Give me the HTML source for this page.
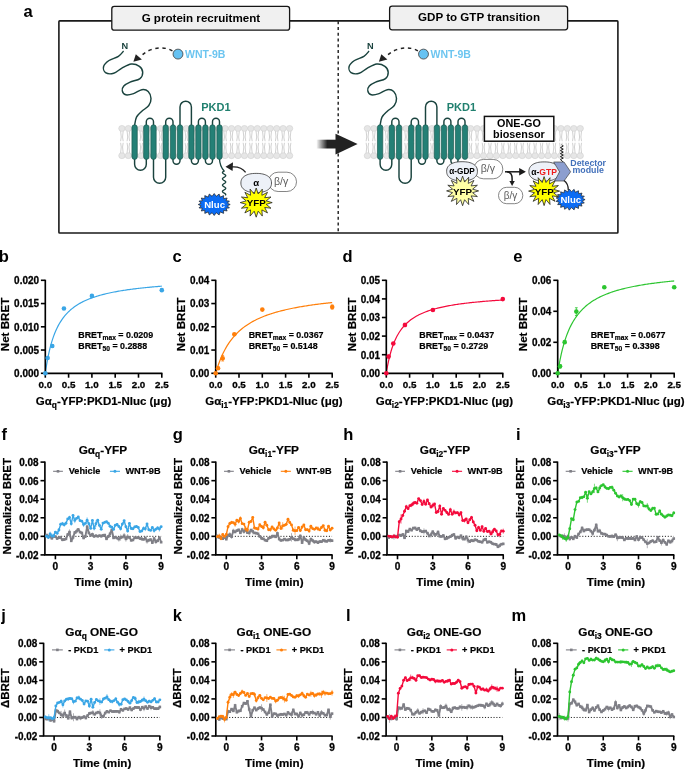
<!DOCTYPE html>
<html><head><meta charset="utf-8"><style>
html,body{margin:0;padding:0;background:#fff;width:685px;height:770px;overflow:hidden}
svg{display:block;will-change:transform}
text{font-family:"Liberation Sans",sans-serif}
.k{stroke:#000;stroke-width:0.2px}
</style></head><body>
<svg width="685" height="770" viewBox="0 0 685 770">
<defs><linearGradient id="shaftg" x1="0" x2="1" y1="0" y2="0"><stop offset="0" stop-color="#fff"/><stop offset="0.55" stop-color="#222"/><stop offset="1" stop-color="#222"/></linearGradient></defs>
<text x="23.5" y="16.8" font-size="16.5" font-weight="bold" fill="#000" text-anchor="start" >a</text>
<rect x="58.9" y="20.9" width="559" height="212.1" rx="0.8" fill="none" stroke="#1a1a1a" stroke-width="1.6"/>
<line x1="338.2" y1="21.3" x2="338.2" y2="232.5" stroke="#1b1b1b" stroke-width="1.4" stroke-dasharray="2.9,2.85"/>
<rect x="111.8" y="6.4" width="177.8" height="23.8" rx="2.5" fill="#f0f0f0" stroke="#151515" stroke-width="1.3"/>
<text x="200.9" y="21.5" font-size="11.6" font-weight="bold" fill="#000" text-anchor="middle" >G protein recruitment</text>
<rect x="389.6" y="6.2" width="178" height="23.6" rx="2.5" fill="#f0f0f0" stroke="#151515" stroke-width="1.3"/>
<text x="479" y="21.4" font-size="11.6" font-weight="bold" fill="#000" text-anchor="middle" >GDP to GTP transition</text>
<rect x="316.3" y="139.7" width="20" height="8.8" fill="url(#shaftg)"/>
<polygon points="335.5,133.8 357.6,144.1 335.5,154.6" fill="#222"/>
<g>
<path d="M120.6,130.9 L121.25,137 L120.6,141.2" fill="none" stroke="#bdbdbd" stroke-width="0.7"/>
<path d="M120.6,153.2 L121.25,147 L120.6,142.8" fill="none" stroke="#bdbdbd" stroke-width="0.7"/>
<path d="M123.2,130.9 L122.55,137 L123.2,141.2" fill="none" stroke="#bdbdbd" stroke-width="0.7"/>
<path d="M123.2,153.2 L122.55,147 L123.2,142.8" fill="none" stroke="#bdbdbd" stroke-width="0.7"/>
<path d="M127.05,130.9 L127.7,137 L127.05,141.2" fill="none" stroke="#bdbdbd" stroke-width="0.7"/>
<path d="M127.05,153.2 L127.7,147 L127.05,142.8" fill="none" stroke="#bdbdbd" stroke-width="0.7"/>
<path d="M129.65,130.9 L129,137 L129.65,141.2" fill="none" stroke="#bdbdbd" stroke-width="0.7"/>
<path d="M129.65,153.2 L129,147 L129.65,142.8" fill="none" stroke="#bdbdbd" stroke-width="0.7"/>
<path d="M133.5,130.9 L134.15,137 L133.5,141.2" fill="none" stroke="#bdbdbd" stroke-width="0.7"/>
<path d="M133.5,153.2 L134.15,147 L133.5,142.8" fill="none" stroke="#bdbdbd" stroke-width="0.7"/>
<path d="M136.1,130.9 L135.45,137 L136.1,141.2" fill="none" stroke="#bdbdbd" stroke-width="0.7"/>
<path d="M136.1,153.2 L135.45,147 L136.1,142.8" fill="none" stroke="#bdbdbd" stroke-width="0.7"/>
<path d="M139.95,130.9 L140.6,137 L139.95,141.2" fill="none" stroke="#bdbdbd" stroke-width="0.7"/>
<path d="M139.95,153.2 L140.6,147 L139.95,142.8" fill="none" stroke="#bdbdbd" stroke-width="0.7"/>
<path d="M142.55,130.9 L141.9,137 L142.55,141.2" fill="none" stroke="#bdbdbd" stroke-width="0.7"/>
<path d="M142.55,153.2 L141.9,147 L142.55,142.8" fill="none" stroke="#bdbdbd" stroke-width="0.7"/>
<path d="M146.4,130.9 L147.05,137 L146.4,141.2" fill="none" stroke="#bdbdbd" stroke-width="0.7"/>
<path d="M146.4,153.2 L147.05,147 L146.4,142.8" fill="none" stroke="#bdbdbd" stroke-width="0.7"/>
<path d="M149,130.9 L148.35,137 L149,141.2" fill="none" stroke="#bdbdbd" stroke-width="0.7"/>
<path d="M149,153.2 L148.35,147 L149,142.8" fill="none" stroke="#bdbdbd" stroke-width="0.7"/>
<path d="M152.85,130.9 L153.5,137 L152.85,141.2" fill="none" stroke="#bdbdbd" stroke-width="0.7"/>
<path d="M152.85,153.2 L153.5,147 L152.85,142.8" fill="none" stroke="#bdbdbd" stroke-width="0.7"/>
<path d="M155.45,130.9 L154.8,137 L155.45,141.2" fill="none" stroke="#bdbdbd" stroke-width="0.7"/>
<path d="M155.45,153.2 L154.8,147 L155.45,142.8" fill="none" stroke="#bdbdbd" stroke-width="0.7"/>
<path d="M159.3,130.9 L159.95,137 L159.3,141.2" fill="none" stroke="#bdbdbd" stroke-width="0.7"/>
<path d="M159.3,153.2 L159.95,147 L159.3,142.8" fill="none" stroke="#bdbdbd" stroke-width="0.7"/>
<path d="M161.9,130.9 L161.25,137 L161.9,141.2" fill="none" stroke="#bdbdbd" stroke-width="0.7"/>
<path d="M161.9,153.2 L161.25,147 L161.9,142.8" fill="none" stroke="#bdbdbd" stroke-width="0.7"/>
<path d="M165.75,130.9 L166.4,137 L165.75,141.2" fill="none" stroke="#bdbdbd" stroke-width="0.7"/>
<path d="M165.75,153.2 L166.4,147 L165.75,142.8" fill="none" stroke="#bdbdbd" stroke-width="0.7"/>
<path d="M168.35,130.9 L167.7,137 L168.35,141.2" fill="none" stroke="#bdbdbd" stroke-width="0.7"/>
<path d="M168.35,153.2 L167.7,147 L168.35,142.8" fill="none" stroke="#bdbdbd" stroke-width="0.7"/>
<path d="M172.2,130.9 L172.85,137 L172.2,141.2" fill="none" stroke="#bdbdbd" stroke-width="0.7"/>
<path d="M172.2,153.2 L172.85,147 L172.2,142.8" fill="none" stroke="#bdbdbd" stroke-width="0.7"/>
<path d="M174.8,130.9 L174.15,137 L174.8,141.2" fill="none" stroke="#bdbdbd" stroke-width="0.7"/>
<path d="M174.8,153.2 L174.15,147 L174.8,142.8" fill="none" stroke="#bdbdbd" stroke-width="0.7"/>
<path d="M178.65,130.9 L179.3,137 L178.65,141.2" fill="none" stroke="#bdbdbd" stroke-width="0.7"/>
<path d="M178.65,153.2 L179.3,147 L178.65,142.8" fill="none" stroke="#bdbdbd" stroke-width="0.7"/>
<path d="M181.25,130.9 L180.6,137 L181.25,141.2" fill="none" stroke="#bdbdbd" stroke-width="0.7"/>
<path d="M181.25,153.2 L180.6,147 L181.25,142.8" fill="none" stroke="#bdbdbd" stroke-width="0.7"/>
<path d="M185.1,130.9 L185.75,137 L185.1,141.2" fill="none" stroke="#bdbdbd" stroke-width="0.7"/>
<path d="M185.1,153.2 L185.75,147 L185.1,142.8" fill="none" stroke="#bdbdbd" stroke-width="0.7"/>
<path d="M187.7,130.9 L187.05,137 L187.7,141.2" fill="none" stroke="#bdbdbd" stroke-width="0.7"/>
<path d="M187.7,153.2 L187.05,147 L187.7,142.8" fill="none" stroke="#bdbdbd" stroke-width="0.7"/>
<path d="M191.55,130.9 L192.2,137 L191.55,141.2" fill="none" stroke="#bdbdbd" stroke-width="0.7"/>
<path d="M191.55,153.2 L192.2,147 L191.55,142.8" fill="none" stroke="#bdbdbd" stroke-width="0.7"/>
<path d="M194.15,130.9 L193.5,137 L194.15,141.2" fill="none" stroke="#bdbdbd" stroke-width="0.7"/>
<path d="M194.15,153.2 L193.5,147 L194.15,142.8" fill="none" stroke="#bdbdbd" stroke-width="0.7"/>
<path d="M198,130.9 L198.65,137 L198,141.2" fill="none" stroke="#bdbdbd" stroke-width="0.7"/>
<path d="M198,153.2 L198.65,147 L198,142.8" fill="none" stroke="#bdbdbd" stroke-width="0.7"/>
<path d="M200.6,130.9 L199.95,137 L200.6,141.2" fill="none" stroke="#bdbdbd" stroke-width="0.7"/>
<path d="M200.6,153.2 L199.95,147 L200.6,142.8" fill="none" stroke="#bdbdbd" stroke-width="0.7"/>
<path d="M204.45,130.9 L205.1,137 L204.45,141.2" fill="none" stroke="#bdbdbd" stroke-width="0.7"/>
<path d="M204.45,153.2 L205.1,147 L204.45,142.8" fill="none" stroke="#bdbdbd" stroke-width="0.7"/>
<path d="M207.05,130.9 L206.4,137 L207.05,141.2" fill="none" stroke="#bdbdbd" stroke-width="0.7"/>
<path d="M207.05,153.2 L206.4,147 L207.05,142.8" fill="none" stroke="#bdbdbd" stroke-width="0.7"/>
<path d="M210.9,130.9 L211.55,137 L210.9,141.2" fill="none" stroke="#bdbdbd" stroke-width="0.7"/>
<path d="M210.9,153.2 L211.55,147 L210.9,142.8" fill="none" stroke="#bdbdbd" stroke-width="0.7"/>
<path d="M213.5,130.9 L212.85,137 L213.5,141.2" fill="none" stroke="#bdbdbd" stroke-width="0.7"/>
<path d="M213.5,153.2 L212.85,147 L213.5,142.8" fill="none" stroke="#bdbdbd" stroke-width="0.7"/>
<path d="M217.35,130.9 L218,137 L217.35,141.2" fill="none" stroke="#bdbdbd" stroke-width="0.7"/>
<path d="M217.35,153.2 L218,147 L217.35,142.8" fill="none" stroke="#bdbdbd" stroke-width="0.7"/>
<path d="M219.95,130.9 L219.3,137 L219.95,141.2" fill="none" stroke="#bdbdbd" stroke-width="0.7"/>
<path d="M219.95,153.2 L219.3,147 L219.95,142.8" fill="none" stroke="#bdbdbd" stroke-width="0.7"/>
<path d="M223.8,130.9 L224.45,137 L223.8,141.2" fill="none" stroke="#bdbdbd" stroke-width="0.7"/>
<path d="M223.8,153.2 L224.45,147 L223.8,142.8" fill="none" stroke="#bdbdbd" stroke-width="0.7"/>
<path d="M226.4,130.9 L225.75,137 L226.4,141.2" fill="none" stroke="#bdbdbd" stroke-width="0.7"/>
<path d="M226.4,153.2 L225.75,147 L226.4,142.8" fill="none" stroke="#bdbdbd" stroke-width="0.7"/>
<path d="M230.25,130.9 L230.9,137 L230.25,141.2" fill="none" stroke="#bdbdbd" stroke-width="0.7"/>
<path d="M230.25,153.2 L230.9,147 L230.25,142.8" fill="none" stroke="#bdbdbd" stroke-width="0.7"/>
<path d="M232.85,130.9 L232.2,137 L232.85,141.2" fill="none" stroke="#bdbdbd" stroke-width="0.7"/>
<path d="M232.85,153.2 L232.2,147 L232.85,142.8" fill="none" stroke="#bdbdbd" stroke-width="0.7"/>
<path d="M236.7,130.9 L237.35,137 L236.7,141.2" fill="none" stroke="#bdbdbd" stroke-width="0.7"/>
<path d="M236.7,153.2 L237.35,147 L236.7,142.8" fill="none" stroke="#bdbdbd" stroke-width="0.7"/>
<path d="M239.3,130.9 L238.65,137 L239.3,141.2" fill="none" stroke="#bdbdbd" stroke-width="0.7"/>
<path d="M239.3,153.2 L238.65,147 L239.3,142.8" fill="none" stroke="#bdbdbd" stroke-width="0.7"/>
<path d="M243.15,130.9 L243.8,137 L243.15,141.2" fill="none" stroke="#bdbdbd" stroke-width="0.7"/>
<path d="M243.15,153.2 L243.8,147 L243.15,142.8" fill="none" stroke="#bdbdbd" stroke-width="0.7"/>
<path d="M245.75,130.9 L245.1,137 L245.75,141.2" fill="none" stroke="#bdbdbd" stroke-width="0.7"/>
<path d="M245.75,153.2 L245.1,147 L245.75,142.8" fill="none" stroke="#bdbdbd" stroke-width="0.7"/>
<path d="M249.6,130.9 L250.25,137 L249.6,141.2" fill="none" stroke="#bdbdbd" stroke-width="0.7"/>
<path d="M249.6,153.2 L250.25,147 L249.6,142.8" fill="none" stroke="#bdbdbd" stroke-width="0.7"/>
<path d="M252.2,130.9 L251.55,137 L252.2,141.2" fill="none" stroke="#bdbdbd" stroke-width="0.7"/>
<path d="M252.2,153.2 L251.55,147 L252.2,142.8" fill="none" stroke="#bdbdbd" stroke-width="0.7"/>
<path d="M256.05,130.9 L256.7,137 L256.05,141.2" fill="none" stroke="#bdbdbd" stroke-width="0.7"/>
<path d="M256.05,153.2 L256.7,147 L256.05,142.8" fill="none" stroke="#bdbdbd" stroke-width="0.7"/>
<path d="M258.65,130.9 L258,137 L258.65,141.2" fill="none" stroke="#bdbdbd" stroke-width="0.7"/>
<path d="M258.65,153.2 L258,147 L258.65,142.8" fill="none" stroke="#bdbdbd" stroke-width="0.7"/>
<path d="M262.5,130.9 L263.15,137 L262.5,141.2" fill="none" stroke="#bdbdbd" stroke-width="0.7"/>
<path d="M262.5,153.2 L263.15,147 L262.5,142.8" fill="none" stroke="#bdbdbd" stroke-width="0.7"/>
<path d="M265.1,130.9 L264.45,137 L265.1,141.2" fill="none" stroke="#bdbdbd" stroke-width="0.7"/>
<path d="M265.1,153.2 L264.45,147 L265.1,142.8" fill="none" stroke="#bdbdbd" stroke-width="0.7"/>
<path d="M268.95,130.9 L269.6,137 L268.95,141.2" fill="none" stroke="#bdbdbd" stroke-width="0.7"/>
<path d="M268.95,153.2 L269.6,147 L268.95,142.8" fill="none" stroke="#bdbdbd" stroke-width="0.7"/>
<path d="M271.55,130.9 L270.9,137 L271.55,141.2" fill="none" stroke="#bdbdbd" stroke-width="0.7"/>
<path d="M271.55,153.2 L270.9,147 L271.55,142.8" fill="none" stroke="#bdbdbd" stroke-width="0.7"/>
<path d="M275.4,130.9 L276.05,137 L275.4,141.2" fill="none" stroke="#bdbdbd" stroke-width="0.7"/>
<path d="M275.4,153.2 L276.05,147 L275.4,142.8" fill="none" stroke="#bdbdbd" stroke-width="0.7"/>
<path d="M278,130.9 L277.35,137 L278,141.2" fill="none" stroke="#bdbdbd" stroke-width="0.7"/>
<path d="M278,153.2 L277.35,147 L278,142.8" fill="none" stroke="#bdbdbd" stroke-width="0.7"/>
<path d="M281.85,130.9 L282.5,137 L281.85,141.2" fill="none" stroke="#bdbdbd" stroke-width="0.7"/>
<path d="M281.85,153.2 L282.5,147 L281.85,142.8" fill="none" stroke="#bdbdbd" stroke-width="0.7"/>
<path d="M284.45,130.9 L283.8,137 L284.45,141.2" fill="none" stroke="#bdbdbd" stroke-width="0.7"/>
<path d="M284.45,153.2 L283.8,147 L284.45,142.8" fill="none" stroke="#bdbdbd" stroke-width="0.7"/>
<path d="M288.3,130.9 L288.95,137 L288.3,141.2" fill="none" stroke="#bdbdbd" stroke-width="0.7"/>
<path d="M288.3,153.2 L288.95,147 L288.3,142.8" fill="none" stroke="#bdbdbd" stroke-width="0.7"/>
<path d="M290.9,130.9 L290.25,137 L290.9,141.2" fill="none" stroke="#bdbdbd" stroke-width="0.7"/>
<path d="M290.9,153.2 L290.25,147 L290.9,142.8" fill="none" stroke="#bdbdbd" stroke-width="0.7"/>
<ellipse cx="121.9" cy="128.4" rx="3.2" ry="2.95" fill="#e6e6e6" stroke="#cdcdcd" stroke-width="0.55"/>
<ellipse cx="121.9" cy="155.7" rx="3.2" ry="2.95" fill="#e6e6e6" stroke="#cdcdcd" stroke-width="0.55"/>
<ellipse cx="128.35" cy="128.4" rx="3.2" ry="2.95" fill="#e6e6e6" stroke="#cdcdcd" stroke-width="0.55"/>
<ellipse cx="128.35" cy="155.7" rx="3.2" ry="2.95" fill="#e6e6e6" stroke="#cdcdcd" stroke-width="0.55"/>
<ellipse cx="134.8" cy="128.4" rx="3.2" ry="2.95" fill="#e6e6e6" stroke="#cdcdcd" stroke-width="0.55"/>
<ellipse cx="134.8" cy="155.7" rx="3.2" ry="2.95" fill="#e6e6e6" stroke="#cdcdcd" stroke-width="0.55"/>
<ellipse cx="141.25" cy="128.4" rx="3.2" ry="2.95" fill="#e6e6e6" stroke="#cdcdcd" stroke-width="0.55"/>
<ellipse cx="141.25" cy="155.7" rx="3.2" ry="2.95" fill="#e6e6e6" stroke="#cdcdcd" stroke-width="0.55"/>
<ellipse cx="147.7" cy="128.4" rx="3.2" ry="2.95" fill="#e6e6e6" stroke="#cdcdcd" stroke-width="0.55"/>
<ellipse cx="147.7" cy="155.7" rx="3.2" ry="2.95" fill="#e6e6e6" stroke="#cdcdcd" stroke-width="0.55"/>
<ellipse cx="154.15" cy="128.4" rx="3.2" ry="2.95" fill="#e6e6e6" stroke="#cdcdcd" stroke-width="0.55"/>
<ellipse cx="154.15" cy="155.7" rx="3.2" ry="2.95" fill="#e6e6e6" stroke="#cdcdcd" stroke-width="0.55"/>
<ellipse cx="160.6" cy="128.4" rx="3.2" ry="2.95" fill="#e6e6e6" stroke="#cdcdcd" stroke-width="0.55"/>
<ellipse cx="160.6" cy="155.7" rx="3.2" ry="2.95" fill="#e6e6e6" stroke="#cdcdcd" stroke-width="0.55"/>
<ellipse cx="167.05" cy="128.4" rx="3.2" ry="2.95" fill="#e6e6e6" stroke="#cdcdcd" stroke-width="0.55"/>
<ellipse cx="167.05" cy="155.7" rx="3.2" ry="2.95" fill="#e6e6e6" stroke="#cdcdcd" stroke-width="0.55"/>
<ellipse cx="173.5" cy="128.4" rx="3.2" ry="2.95" fill="#e6e6e6" stroke="#cdcdcd" stroke-width="0.55"/>
<ellipse cx="173.5" cy="155.7" rx="3.2" ry="2.95" fill="#e6e6e6" stroke="#cdcdcd" stroke-width="0.55"/>
<ellipse cx="179.95" cy="128.4" rx="3.2" ry="2.95" fill="#e6e6e6" stroke="#cdcdcd" stroke-width="0.55"/>
<ellipse cx="179.95" cy="155.7" rx="3.2" ry="2.95" fill="#e6e6e6" stroke="#cdcdcd" stroke-width="0.55"/>
<ellipse cx="186.4" cy="128.4" rx="3.2" ry="2.95" fill="#e6e6e6" stroke="#cdcdcd" stroke-width="0.55"/>
<ellipse cx="186.4" cy="155.7" rx="3.2" ry="2.95" fill="#e6e6e6" stroke="#cdcdcd" stroke-width="0.55"/>
<ellipse cx="192.85" cy="128.4" rx="3.2" ry="2.95" fill="#e6e6e6" stroke="#cdcdcd" stroke-width="0.55"/>
<ellipse cx="192.85" cy="155.7" rx="3.2" ry="2.95" fill="#e6e6e6" stroke="#cdcdcd" stroke-width="0.55"/>
<ellipse cx="199.3" cy="128.4" rx="3.2" ry="2.95" fill="#e6e6e6" stroke="#cdcdcd" stroke-width="0.55"/>
<ellipse cx="199.3" cy="155.7" rx="3.2" ry="2.95" fill="#e6e6e6" stroke="#cdcdcd" stroke-width="0.55"/>
<ellipse cx="205.75" cy="128.4" rx="3.2" ry="2.95" fill="#e6e6e6" stroke="#cdcdcd" stroke-width="0.55"/>
<ellipse cx="205.75" cy="155.7" rx="3.2" ry="2.95" fill="#e6e6e6" stroke="#cdcdcd" stroke-width="0.55"/>
<ellipse cx="212.2" cy="128.4" rx="3.2" ry="2.95" fill="#e6e6e6" stroke="#cdcdcd" stroke-width="0.55"/>
<ellipse cx="212.2" cy="155.7" rx="3.2" ry="2.95" fill="#e6e6e6" stroke="#cdcdcd" stroke-width="0.55"/>
<ellipse cx="218.65" cy="128.4" rx="3.2" ry="2.95" fill="#e6e6e6" stroke="#cdcdcd" stroke-width="0.55"/>
<ellipse cx="218.65" cy="155.7" rx="3.2" ry="2.95" fill="#e6e6e6" stroke="#cdcdcd" stroke-width="0.55"/>
<ellipse cx="225.1" cy="128.4" rx="3.2" ry="2.95" fill="#e6e6e6" stroke="#cdcdcd" stroke-width="0.55"/>
<ellipse cx="225.1" cy="155.7" rx="3.2" ry="2.95" fill="#e6e6e6" stroke="#cdcdcd" stroke-width="0.55"/>
<ellipse cx="231.55" cy="128.4" rx="3.2" ry="2.95" fill="#e6e6e6" stroke="#cdcdcd" stroke-width="0.55"/>
<ellipse cx="231.55" cy="155.7" rx="3.2" ry="2.95" fill="#e6e6e6" stroke="#cdcdcd" stroke-width="0.55"/>
<ellipse cx="238" cy="128.4" rx="3.2" ry="2.95" fill="#e6e6e6" stroke="#cdcdcd" stroke-width="0.55"/>
<ellipse cx="238" cy="155.7" rx="3.2" ry="2.95" fill="#e6e6e6" stroke="#cdcdcd" stroke-width="0.55"/>
<ellipse cx="244.45" cy="128.4" rx="3.2" ry="2.95" fill="#e6e6e6" stroke="#cdcdcd" stroke-width="0.55"/>
<ellipse cx="244.45" cy="155.7" rx="3.2" ry="2.95" fill="#e6e6e6" stroke="#cdcdcd" stroke-width="0.55"/>
<ellipse cx="250.9" cy="128.4" rx="3.2" ry="2.95" fill="#e6e6e6" stroke="#cdcdcd" stroke-width="0.55"/>
<ellipse cx="250.9" cy="155.7" rx="3.2" ry="2.95" fill="#e6e6e6" stroke="#cdcdcd" stroke-width="0.55"/>
<ellipse cx="257.35" cy="128.4" rx="3.2" ry="2.95" fill="#e6e6e6" stroke="#cdcdcd" stroke-width="0.55"/>
<ellipse cx="257.35" cy="155.7" rx="3.2" ry="2.95" fill="#e6e6e6" stroke="#cdcdcd" stroke-width="0.55"/>
<ellipse cx="263.8" cy="128.4" rx="3.2" ry="2.95" fill="#e6e6e6" stroke="#cdcdcd" stroke-width="0.55"/>
<ellipse cx="263.8" cy="155.7" rx="3.2" ry="2.95" fill="#e6e6e6" stroke="#cdcdcd" stroke-width="0.55"/>
<ellipse cx="270.25" cy="128.4" rx="3.2" ry="2.95" fill="#e6e6e6" stroke="#cdcdcd" stroke-width="0.55"/>
<ellipse cx="270.25" cy="155.7" rx="3.2" ry="2.95" fill="#e6e6e6" stroke="#cdcdcd" stroke-width="0.55"/>
<ellipse cx="276.7" cy="128.4" rx="3.2" ry="2.95" fill="#e6e6e6" stroke="#cdcdcd" stroke-width="0.55"/>
<ellipse cx="276.7" cy="155.7" rx="3.2" ry="2.95" fill="#e6e6e6" stroke="#cdcdcd" stroke-width="0.55"/>
<ellipse cx="283.15" cy="128.4" rx="3.2" ry="2.95" fill="#e6e6e6" stroke="#cdcdcd" stroke-width="0.55"/>
<ellipse cx="283.15" cy="155.7" rx="3.2" ry="2.95" fill="#e6e6e6" stroke="#cdcdcd" stroke-width="0.55"/>
<ellipse cx="289.6" cy="128.4" rx="3.2" ry="2.95" fill="#e6e6e6" stroke="#cdcdcd" stroke-width="0.55"/>
<ellipse cx="289.6" cy="155.7" rx="3.2" ry="2.95" fill="#e6e6e6" stroke="#cdcdcd" stroke-width="0.55"/>
</g>
<g>
<path d="M366.1,130.9 L366.75,137 L366.1,141.2" fill="none" stroke="#bdbdbd" stroke-width="0.7"/>
<path d="M366.1,153.2 L366.75,147 L366.1,142.8" fill="none" stroke="#bdbdbd" stroke-width="0.7"/>
<path d="M368.7,130.9 L368.05,137 L368.7,141.2" fill="none" stroke="#bdbdbd" stroke-width="0.7"/>
<path d="M368.7,153.2 L368.05,147 L368.7,142.8" fill="none" stroke="#bdbdbd" stroke-width="0.7"/>
<path d="M372.55,130.9 L373.2,137 L372.55,141.2" fill="none" stroke="#bdbdbd" stroke-width="0.7"/>
<path d="M372.55,153.2 L373.2,147 L372.55,142.8" fill="none" stroke="#bdbdbd" stroke-width="0.7"/>
<path d="M375.15,130.9 L374.5,137 L375.15,141.2" fill="none" stroke="#bdbdbd" stroke-width="0.7"/>
<path d="M375.15,153.2 L374.5,147 L375.15,142.8" fill="none" stroke="#bdbdbd" stroke-width="0.7"/>
<path d="M379,130.9 L379.65,137 L379,141.2" fill="none" stroke="#bdbdbd" stroke-width="0.7"/>
<path d="M379,153.2 L379.65,147 L379,142.8" fill="none" stroke="#bdbdbd" stroke-width="0.7"/>
<path d="M381.6,130.9 L380.95,137 L381.6,141.2" fill="none" stroke="#bdbdbd" stroke-width="0.7"/>
<path d="M381.6,153.2 L380.95,147 L381.6,142.8" fill="none" stroke="#bdbdbd" stroke-width="0.7"/>
<path d="M385.45,130.9 L386.1,137 L385.45,141.2" fill="none" stroke="#bdbdbd" stroke-width="0.7"/>
<path d="M385.45,153.2 L386.1,147 L385.45,142.8" fill="none" stroke="#bdbdbd" stroke-width="0.7"/>
<path d="M388.05,130.9 L387.4,137 L388.05,141.2" fill="none" stroke="#bdbdbd" stroke-width="0.7"/>
<path d="M388.05,153.2 L387.4,147 L388.05,142.8" fill="none" stroke="#bdbdbd" stroke-width="0.7"/>
<path d="M391.9,130.9 L392.55,137 L391.9,141.2" fill="none" stroke="#bdbdbd" stroke-width="0.7"/>
<path d="M391.9,153.2 L392.55,147 L391.9,142.8" fill="none" stroke="#bdbdbd" stroke-width="0.7"/>
<path d="M394.5,130.9 L393.85,137 L394.5,141.2" fill="none" stroke="#bdbdbd" stroke-width="0.7"/>
<path d="M394.5,153.2 L393.85,147 L394.5,142.8" fill="none" stroke="#bdbdbd" stroke-width="0.7"/>
<path d="M398.35,130.9 L399,137 L398.35,141.2" fill="none" stroke="#bdbdbd" stroke-width="0.7"/>
<path d="M398.35,153.2 L399,147 L398.35,142.8" fill="none" stroke="#bdbdbd" stroke-width="0.7"/>
<path d="M400.95,130.9 L400.3,137 L400.95,141.2" fill="none" stroke="#bdbdbd" stroke-width="0.7"/>
<path d="M400.95,153.2 L400.3,147 L400.95,142.8" fill="none" stroke="#bdbdbd" stroke-width="0.7"/>
<path d="M404.8,130.9 L405.45,137 L404.8,141.2" fill="none" stroke="#bdbdbd" stroke-width="0.7"/>
<path d="M404.8,153.2 L405.45,147 L404.8,142.8" fill="none" stroke="#bdbdbd" stroke-width="0.7"/>
<path d="M407.4,130.9 L406.75,137 L407.4,141.2" fill="none" stroke="#bdbdbd" stroke-width="0.7"/>
<path d="M407.4,153.2 L406.75,147 L407.4,142.8" fill="none" stroke="#bdbdbd" stroke-width="0.7"/>
<path d="M411.25,130.9 L411.9,137 L411.25,141.2" fill="none" stroke="#bdbdbd" stroke-width="0.7"/>
<path d="M411.25,153.2 L411.9,147 L411.25,142.8" fill="none" stroke="#bdbdbd" stroke-width="0.7"/>
<path d="M413.85,130.9 L413.2,137 L413.85,141.2" fill="none" stroke="#bdbdbd" stroke-width="0.7"/>
<path d="M413.85,153.2 L413.2,147 L413.85,142.8" fill="none" stroke="#bdbdbd" stroke-width="0.7"/>
<path d="M417.7,130.9 L418.35,137 L417.7,141.2" fill="none" stroke="#bdbdbd" stroke-width="0.7"/>
<path d="M417.7,153.2 L418.35,147 L417.7,142.8" fill="none" stroke="#bdbdbd" stroke-width="0.7"/>
<path d="M420.3,130.9 L419.65,137 L420.3,141.2" fill="none" stroke="#bdbdbd" stroke-width="0.7"/>
<path d="M420.3,153.2 L419.65,147 L420.3,142.8" fill="none" stroke="#bdbdbd" stroke-width="0.7"/>
<path d="M424.15,130.9 L424.8,137 L424.15,141.2" fill="none" stroke="#bdbdbd" stroke-width="0.7"/>
<path d="M424.15,153.2 L424.8,147 L424.15,142.8" fill="none" stroke="#bdbdbd" stroke-width="0.7"/>
<path d="M426.75,130.9 L426.1,137 L426.75,141.2" fill="none" stroke="#bdbdbd" stroke-width="0.7"/>
<path d="M426.75,153.2 L426.1,147 L426.75,142.8" fill="none" stroke="#bdbdbd" stroke-width="0.7"/>
<path d="M430.6,130.9 L431.25,137 L430.6,141.2" fill="none" stroke="#bdbdbd" stroke-width="0.7"/>
<path d="M430.6,153.2 L431.25,147 L430.6,142.8" fill="none" stroke="#bdbdbd" stroke-width="0.7"/>
<path d="M433.2,130.9 L432.55,137 L433.2,141.2" fill="none" stroke="#bdbdbd" stroke-width="0.7"/>
<path d="M433.2,153.2 L432.55,147 L433.2,142.8" fill="none" stroke="#bdbdbd" stroke-width="0.7"/>
<path d="M437.05,130.9 L437.7,137 L437.05,141.2" fill="none" stroke="#bdbdbd" stroke-width="0.7"/>
<path d="M437.05,153.2 L437.7,147 L437.05,142.8" fill="none" stroke="#bdbdbd" stroke-width="0.7"/>
<path d="M439.65,130.9 L439,137 L439.65,141.2" fill="none" stroke="#bdbdbd" stroke-width="0.7"/>
<path d="M439.65,153.2 L439,147 L439.65,142.8" fill="none" stroke="#bdbdbd" stroke-width="0.7"/>
<path d="M443.5,130.9 L444.15,137 L443.5,141.2" fill="none" stroke="#bdbdbd" stroke-width="0.7"/>
<path d="M443.5,153.2 L444.15,147 L443.5,142.8" fill="none" stroke="#bdbdbd" stroke-width="0.7"/>
<path d="M446.1,130.9 L445.45,137 L446.1,141.2" fill="none" stroke="#bdbdbd" stroke-width="0.7"/>
<path d="M446.1,153.2 L445.45,147 L446.1,142.8" fill="none" stroke="#bdbdbd" stroke-width="0.7"/>
<path d="M449.95,130.9 L450.6,137 L449.95,141.2" fill="none" stroke="#bdbdbd" stroke-width="0.7"/>
<path d="M449.95,153.2 L450.6,147 L449.95,142.8" fill="none" stroke="#bdbdbd" stroke-width="0.7"/>
<path d="M452.55,130.9 L451.9,137 L452.55,141.2" fill="none" stroke="#bdbdbd" stroke-width="0.7"/>
<path d="M452.55,153.2 L451.9,147 L452.55,142.8" fill="none" stroke="#bdbdbd" stroke-width="0.7"/>
<path d="M456.4,130.9 L457.05,137 L456.4,141.2" fill="none" stroke="#bdbdbd" stroke-width="0.7"/>
<path d="M456.4,153.2 L457.05,147 L456.4,142.8" fill="none" stroke="#bdbdbd" stroke-width="0.7"/>
<path d="M459,130.9 L458.35,137 L459,141.2" fill="none" stroke="#bdbdbd" stroke-width="0.7"/>
<path d="M459,153.2 L458.35,147 L459,142.8" fill="none" stroke="#bdbdbd" stroke-width="0.7"/>
<path d="M462.85,130.9 L463.5,137 L462.85,141.2" fill="none" stroke="#bdbdbd" stroke-width="0.7"/>
<path d="M462.85,153.2 L463.5,147 L462.85,142.8" fill="none" stroke="#bdbdbd" stroke-width="0.7"/>
<path d="M465.45,130.9 L464.8,137 L465.45,141.2" fill="none" stroke="#bdbdbd" stroke-width="0.7"/>
<path d="M465.45,153.2 L464.8,147 L465.45,142.8" fill="none" stroke="#bdbdbd" stroke-width="0.7"/>
<path d="M469.3,130.9 L469.95,137 L469.3,141.2" fill="none" stroke="#bdbdbd" stroke-width="0.7"/>
<path d="M469.3,153.2 L469.95,147 L469.3,142.8" fill="none" stroke="#bdbdbd" stroke-width="0.7"/>
<path d="M471.9,130.9 L471.25,137 L471.9,141.2" fill="none" stroke="#bdbdbd" stroke-width="0.7"/>
<path d="M471.9,153.2 L471.25,147 L471.9,142.8" fill="none" stroke="#bdbdbd" stroke-width="0.7"/>
<path d="M475.75,130.9 L476.4,137 L475.75,141.2" fill="none" stroke="#bdbdbd" stroke-width="0.7"/>
<path d="M475.75,153.2 L476.4,147 L475.75,142.8" fill="none" stroke="#bdbdbd" stroke-width="0.7"/>
<path d="M478.35,130.9 L477.7,137 L478.35,141.2" fill="none" stroke="#bdbdbd" stroke-width="0.7"/>
<path d="M478.35,153.2 L477.7,147 L478.35,142.8" fill="none" stroke="#bdbdbd" stroke-width="0.7"/>
<path d="M482.2,130.9 L482.85,137 L482.2,141.2" fill="none" stroke="#bdbdbd" stroke-width="0.7"/>
<path d="M482.2,153.2 L482.85,147 L482.2,142.8" fill="none" stroke="#bdbdbd" stroke-width="0.7"/>
<path d="M484.8,130.9 L484.15,137 L484.8,141.2" fill="none" stroke="#bdbdbd" stroke-width="0.7"/>
<path d="M484.8,153.2 L484.15,147 L484.8,142.8" fill="none" stroke="#bdbdbd" stroke-width="0.7"/>
<path d="M488.65,130.9 L489.3,137 L488.65,141.2" fill="none" stroke="#bdbdbd" stroke-width="0.7"/>
<path d="M488.65,153.2 L489.3,147 L488.65,142.8" fill="none" stroke="#bdbdbd" stroke-width="0.7"/>
<path d="M491.25,130.9 L490.6,137 L491.25,141.2" fill="none" stroke="#bdbdbd" stroke-width="0.7"/>
<path d="M491.25,153.2 L490.6,147 L491.25,142.8" fill="none" stroke="#bdbdbd" stroke-width="0.7"/>
<path d="M495.1,130.9 L495.75,137 L495.1,141.2" fill="none" stroke="#bdbdbd" stroke-width="0.7"/>
<path d="M495.1,153.2 L495.75,147 L495.1,142.8" fill="none" stroke="#bdbdbd" stroke-width="0.7"/>
<path d="M497.7,130.9 L497.05,137 L497.7,141.2" fill="none" stroke="#bdbdbd" stroke-width="0.7"/>
<path d="M497.7,153.2 L497.05,147 L497.7,142.8" fill="none" stroke="#bdbdbd" stroke-width="0.7"/>
<path d="M501.55,130.9 L502.2,137 L501.55,141.2" fill="none" stroke="#bdbdbd" stroke-width="0.7"/>
<path d="M501.55,153.2 L502.2,147 L501.55,142.8" fill="none" stroke="#bdbdbd" stroke-width="0.7"/>
<path d="M504.15,130.9 L503.5,137 L504.15,141.2" fill="none" stroke="#bdbdbd" stroke-width="0.7"/>
<path d="M504.15,153.2 L503.5,147 L504.15,142.8" fill="none" stroke="#bdbdbd" stroke-width="0.7"/>
<path d="M508,130.9 L508.65,137 L508,141.2" fill="none" stroke="#bdbdbd" stroke-width="0.7"/>
<path d="M508,153.2 L508.65,147 L508,142.8" fill="none" stroke="#bdbdbd" stroke-width="0.7"/>
<path d="M510.6,130.9 L509.95,137 L510.6,141.2" fill="none" stroke="#bdbdbd" stroke-width="0.7"/>
<path d="M510.6,153.2 L509.95,147 L510.6,142.8" fill="none" stroke="#bdbdbd" stroke-width="0.7"/>
<path d="M514.45,130.9 L515.1,137 L514.45,141.2" fill="none" stroke="#bdbdbd" stroke-width="0.7"/>
<path d="M514.45,153.2 L515.1,147 L514.45,142.8" fill="none" stroke="#bdbdbd" stroke-width="0.7"/>
<path d="M517.05,130.9 L516.4,137 L517.05,141.2" fill="none" stroke="#bdbdbd" stroke-width="0.7"/>
<path d="M517.05,153.2 L516.4,147 L517.05,142.8" fill="none" stroke="#bdbdbd" stroke-width="0.7"/>
<path d="M520.9,130.9 L521.55,137 L520.9,141.2" fill="none" stroke="#bdbdbd" stroke-width="0.7"/>
<path d="M520.9,153.2 L521.55,147 L520.9,142.8" fill="none" stroke="#bdbdbd" stroke-width="0.7"/>
<path d="M523.5,130.9 L522.85,137 L523.5,141.2" fill="none" stroke="#bdbdbd" stroke-width="0.7"/>
<path d="M523.5,153.2 L522.85,147 L523.5,142.8" fill="none" stroke="#bdbdbd" stroke-width="0.7"/>
<path d="M527.35,130.9 L528,137 L527.35,141.2" fill="none" stroke="#bdbdbd" stroke-width="0.7"/>
<path d="M527.35,153.2 L528,147 L527.35,142.8" fill="none" stroke="#bdbdbd" stroke-width="0.7"/>
<path d="M529.95,130.9 L529.3,137 L529.95,141.2" fill="none" stroke="#bdbdbd" stroke-width="0.7"/>
<path d="M529.95,153.2 L529.3,147 L529.95,142.8" fill="none" stroke="#bdbdbd" stroke-width="0.7"/>
<path d="M533.8,130.9 L534.45,137 L533.8,141.2" fill="none" stroke="#bdbdbd" stroke-width="0.7"/>
<path d="M533.8,153.2 L534.45,147 L533.8,142.8" fill="none" stroke="#bdbdbd" stroke-width="0.7"/>
<path d="M536.4,130.9 L535.75,137 L536.4,141.2" fill="none" stroke="#bdbdbd" stroke-width="0.7"/>
<path d="M536.4,153.2 L535.75,147 L536.4,142.8" fill="none" stroke="#bdbdbd" stroke-width="0.7"/>
<path d="M540.25,130.9 L540.9,137 L540.25,141.2" fill="none" stroke="#bdbdbd" stroke-width="0.7"/>
<path d="M540.25,153.2 L540.9,147 L540.25,142.8" fill="none" stroke="#bdbdbd" stroke-width="0.7"/>
<path d="M542.85,130.9 L542.2,137 L542.85,141.2" fill="none" stroke="#bdbdbd" stroke-width="0.7"/>
<path d="M542.85,153.2 L542.2,147 L542.85,142.8" fill="none" stroke="#bdbdbd" stroke-width="0.7"/>
<path d="M546.7,130.9 L547.35,137 L546.7,141.2" fill="none" stroke="#bdbdbd" stroke-width="0.7"/>
<path d="M546.7,153.2 L547.35,147 L546.7,142.8" fill="none" stroke="#bdbdbd" stroke-width="0.7"/>
<path d="M549.3,130.9 L548.65,137 L549.3,141.2" fill="none" stroke="#bdbdbd" stroke-width="0.7"/>
<path d="M549.3,153.2 L548.65,147 L549.3,142.8" fill="none" stroke="#bdbdbd" stroke-width="0.7"/>
<path d="M553.15,130.9 L553.8,137 L553.15,141.2" fill="none" stroke="#bdbdbd" stroke-width="0.7"/>
<path d="M553.15,153.2 L553.8,147 L553.15,142.8" fill="none" stroke="#bdbdbd" stroke-width="0.7"/>
<path d="M555.75,130.9 L555.1,137 L555.75,141.2" fill="none" stroke="#bdbdbd" stroke-width="0.7"/>
<path d="M555.75,153.2 L555.1,147 L555.75,142.8" fill="none" stroke="#bdbdbd" stroke-width="0.7"/>
<path d="M559.6,130.9 L560.25,137 L559.6,141.2" fill="none" stroke="#bdbdbd" stroke-width="0.7"/>
<path d="M559.6,153.2 L560.25,147 L559.6,142.8" fill="none" stroke="#bdbdbd" stroke-width="0.7"/>
<path d="M562.2,130.9 L561.55,137 L562.2,141.2" fill="none" stroke="#bdbdbd" stroke-width="0.7"/>
<path d="M562.2,153.2 L561.55,147 L562.2,142.8" fill="none" stroke="#bdbdbd" stroke-width="0.7"/>
<path d="M566.05,130.9 L566.7,137 L566.05,141.2" fill="none" stroke="#bdbdbd" stroke-width="0.7"/>
<path d="M566.05,153.2 L566.7,147 L566.05,142.8" fill="none" stroke="#bdbdbd" stroke-width="0.7"/>
<path d="M568.65,130.9 L568,137 L568.65,141.2" fill="none" stroke="#bdbdbd" stroke-width="0.7"/>
<path d="M568.65,153.2 L568,147 L568.65,142.8" fill="none" stroke="#bdbdbd" stroke-width="0.7"/>
<path d="M572.5,130.9 L573.15,137 L572.5,141.2" fill="none" stroke="#bdbdbd" stroke-width="0.7"/>
<path d="M572.5,153.2 L573.15,147 L572.5,142.8" fill="none" stroke="#bdbdbd" stroke-width="0.7"/>
<path d="M575.1,130.9 L574.45,137 L575.1,141.2" fill="none" stroke="#bdbdbd" stroke-width="0.7"/>
<path d="M575.1,153.2 L574.45,147 L575.1,142.8" fill="none" stroke="#bdbdbd" stroke-width="0.7"/>
<path d="M578.95,130.9 L579.6,137 L578.95,141.2" fill="none" stroke="#bdbdbd" stroke-width="0.7"/>
<path d="M578.95,153.2 L579.6,147 L578.95,142.8" fill="none" stroke="#bdbdbd" stroke-width="0.7"/>
<path d="M581.55,130.9 L580.9,137 L581.55,141.2" fill="none" stroke="#bdbdbd" stroke-width="0.7"/>
<path d="M581.55,153.2 L580.9,147 L581.55,142.8" fill="none" stroke="#bdbdbd" stroke-width="0.7"/>
<ellipse cx="367.4" cy="128.4" rx="3.2" ry="2.95" fill="#e6e6e6" stroke="#cdcdcd" stroke-width="0.55"/>
<ellipse cx="367.4" cy="155.7" rx="3.2" ry="2.95" fill="#e6e6e6" stroke="#cdcdcd" stroke-width="0.55"/>
<ellipse cx="373.85" cy="128.4" rx="3.2" ry="2.95" fill="#e6e6e6" stroke="#cdcdcd" stroke-width="0.55"/>
<ellipse cx="373.85" cy="155.7" rx="3.2" ry="2.95" fill="#e6e6e6" stroke="#cdcdcd" stroke-width="0.55"/>
<ellipse cx="380.3" cy="128.4" rx="3.2" ry="2.95" fill="#e6e6e6" stroke="#cdcdcd" stroke-width="0.55"/>
<ellipse cx="380.3" cy="155.7" rx="3.2" ry="2.95" fill="#e6e6e6" stroke="#cdcdcd" stroke-width="0.55"/>
<ellipse cx="386.75" cy="128.4" rx="3.2" ry="2.95" fill="#e6e6e6" stroke="#cdcdcd" stroke-width="0.55"/>
<ellipse cx="386.75" cy="155.7" rx="3.2" ry="2.95" fill="#e6e6e6" stroke="#cdcdcd" stroke-width="0.55"/>
<ellipse cx="393.2" cy="128.4" rx="3.2" ry="2.95" fill="#e6e6e6" stroke="#cdcdcd" stroke-width="0.55"/>
<ellipse cx="393.2" cy="155.7" rx="3.2" ry="2.95" fill="#e6e6e6" stroke="#cdcdcd" stroke-width="0.55"/>
<ellipse cx="399.65" cy="128.4" rx="3.2" ry="2.95" fill="#e6e6e6" stroke="#cdcdcd" stroke-width="0.55"/>
<ellipse cx="399.65" cy="155.7" rx="3.2" ry="2.95" fill="#e6e6e6" stroke="#cdcdcd" stroke-width="0.55"/>
<ellipse cx="406.1" cy="128.4" rx="3.2" ry="2.95" fill="#e6e6e6" stroke="#cdcdcd" stroke-width="0.55"/>
<ellipse cx="406.1" cy="155.7" rx="3.2" ry="2.95" fill="#e6e6e6" stroke="#cdcdcd" stroke-width="0.55"/>
<ellipse cx="412.55" cy="128.4" rx="3.2" ry="2.95" fill="#e6e6e6" stroke="#cdcdcd" stroke-width="0.55"/>
<ellipse cx="412.55" cy="155.7" rx="3.2" ry="2.95" fill="#e6e6e6" stroke="#cdcdcd" stroke-width="0.55"/>
<ellipse cx="419" cy="128.4" rx="3.2" ry="2.95" fill="#e6e6e6" stroke="#cdcdcd" stroke-width="0.55"/>
<ellipse cx="419" cy="155.7" rx="3.2" ry="2.95" fill="#e6e6e6" stroke="#cdcdcd" stroke-width="0.55"/>
<ellipse cx="425.45" cy="128.4" rx="3.2" ry="2.95" fill="#e6e6e6" stroke="#cdcdcd" stroke-width="0.55"/>
<ellipse cx="425.45" cy="155.7" rx="3.2" ry="2.95" fill="#e6e6e6" stroke="#cdcdcd" stroke-width="0.55"/>
<ellipse cx="431.9" cy="128.4" rx="3.2" ry="2.95" fill="#e6e6e6" stroke="#cdcdcd" stroke-width="0.55"/>
<ellipse cx="431.9" cy="155.7" rx="3.2" ry="2.95" fill="#e6e6e6" stroke="#cdcdcd" stroke-width="0.55"/>
<ellipse cx="438.35" cy="128.4" rx="3.2" ry="2.95" fill="#e6e6e6" stroke="#cdcdcd" stroke-width="0.55"/>
<ellipse cx="438.35" cy="155.7" rx="3.2" ry="2.95" fill="#e6e6e6" stroke="#cdcdcd" stroke-width="0.55"/>
<ellipse cx="444.8" cy="128.4" rx="3.2" ry="2.95" fill="#e6e6e6" stroke="#cdcdcd" stroke-width="0.55"/>
<ellipse cx="444.8" cy="155.7" rx="3.2" ry="2.95" fill="#e6e6e6" stroke="#cdcdcd" stroke-width="0.55"/>
<ellipse cx="451.25" cy="128.4" rx="3.2" ry="2.95" fill="#e6e6e6" stroke="#cdcdcd" stroke-width="0.55"/>
<ellipse cx="451.25" cy="155.7" rx="3.2" ry="2.95" fill="#e6e6e6" stroke="#cdcdcd" stroke-width="0.55"/>
<ellipse cx="457.7" cy="128.4" rx="3.2" ry="2.95" fill="#e6e6e6" stroke="#cdcdcd" stroke-width="0.55"/>
<ellipse cx="457.7" cy="155.7" rx="3.2" ry="2.95" fill="#e6e6e6" stroke="#cdcdcd" stroke-width="0.55"/>
<ellipse cx="464.15" cy="128.4" rx="3.2" ry="2.95" fill="#e6e6e6" stroke="#cdcdcd" stroke-width="0.55"/>
<ellipse cx="464.15" cy="155.7" rx="3.2" ry="2.95" fill="#e6e6e6" stroke="#cdcdcd" stroke-width="0.55"/>
<ellipse cx="470.6" cy="128.4" rx="3.2" ry="2.95" fill="#e6e6e6" stroke="#cdcdcd" stroke-width="0.55"/>
<ellipse cx="470.6" cy="155.7" rx="3.2" ry="2.95" fill="#e6e6e6" stroke="#cdcdcd" stroke-width="0.55"/>
<ellipse cx="477.05" cy="128.4" rx="3.2" ry="2.95" fill="#e6e6e6" stroke="#cdcdcd" stroke-width="0.55"/>
<ellipse cx="477.05" cy="155.7" rx="3.2" ry="2.95" fill="#e6e6e6" stroke="#cdcdcd" stroke-width="0.55"/>
<ellipse cx="483.5" cy="128.4" rx="3.2" ry="2.95" fill="#e6e6e6" stroke="#cdcdcd" stroke-width="0.55"/>
<ellipse cx="483.5" cy="155.7" rx="3.2" ry="2.95" fill="#e6e6e6" stroke="#cdcdcd" stroke-width="0.55"/>
<ellipse cx="489.95" cy="128.4" rx="3.2" ry="2.95" fill="#e6e6e6" stroke="#cdcdcd" stroke-width="0.55"/>
<ellipse cx="489.95" cy="155.7" rx="3.2" ry="2.95" fill="#e6e6e6" stroke="#cdcdcd" stroke-width="0.55"/>
<ellipse cx="496.4" cy="128.4" rx="3.2" ry="2.95" fill="#e6e6e6" stroke="#cdcdcd" stroke-width="0.55"/>
<ellipse cx="496.4" cy="155.7" rx="3.2" ry="2.95" fill="#e6e6e6" stroke="#cdcdcd" stroke-width="0.55"/>
<ellipse cx="502.85" cy="128.4" rx="3.2" ry="2.95" fill="#e6e6e6" stroke="#cdcdcd" stroke-width="0.55"/>
<ellipse cx="502.85" cy="155.7" rx="3.2" ry="2.95" fill="#e6e6e6" stroke="#cdcdcd" stroke-width="0.55"/>
<ellipse cx="509.3" cy="128.4" rx="3.2" ry="2.95" fill="#e6e6e6" stroke="#cdcdcd" stroke-width="0.55"/>
<ellipse cx="509.3" cy="155.7" rx="3.2" ry="2.95" fill="#e6e6e6" stroke="#cdcdcd" stroke-width="0.55"/>
<ellipse cx="515.75" cy="128.4" rx="3.2" ry="2.95" fill="#e6e6e6" stroke="#cdcdcd" stroke-width="0.55"/>
<ellipse cx="515.75" cy="155.7" rx="3.2" ry="2.95" fill="#e6e6e6" stroke="#cdcdcd" stroke-width="0.55"/>
<ellipse cx="522.2" cy="128.4" rx="3.2" ry="2.95" fill="#e6e6e6" stroke="#cdcdcd" stroke-width="0.55"/>
<ellipse cx="522.2" cy="155.7" rx="3.2" ry="2.95" fill="#e6e6e6" stroke="#cdcdcd" stroke-width="0.55"/>
<ellipse cx="528.65" cy="128.4" rx="3.2" ry="2.95" fill="#e6e6e6" stroke="#cdcdcd" stroke-width="0.55"/>
<ellipse cx="528.65" cy="155.7" rx="3.2" ry="2.95" fill="#e6e6e6" stroke="#cdcdcd" stroke-width="0.55"/>
<ellipse cx="535.1" cy="128.4" rx="3.2" ry="2.95" fill="#e6e6e6" stroke="#cdcdcd" stroke-width="0.55"/>
<ellipse cx="535.1" cy="155.7" rx="3.2" ry="2.95" fill="#e6e6e6" stroke="#cdcdcd" stroke-width="0.55"/>
<ellipse cx="541.55" cy="128.4" rx="3.2" ry="2.95" fill="#e6e6e6" stroke="#cdcdcd" stroke-width="0.55"/>
<ellipse cx="541.55" cy="155.7" rx="3.2" ry="2.95" fill="#e6e6e6" stroke="#cdcdcd" stroke-width="0.55"/>
<ellipse cx="548" cy="128.4" rx="3.2" ry="2.95" fill="#e6e6e6" stroke="#cdcdcd" stroke-width="0.55"/>
<ellipse cx="548" cy="155.7" rx="3.2" ry="2.95" fill="#e6e6e6" stroke="#cdcdcd" stroke-width="0.55"/>
<ellipse cx="554.45" cy="128.4" rx="3.2" ry="2.95" fill="#e6e6e6" stroke="#cdcdcd" stroke-width="0.55"/>
<ellipse cx="554.45" cy="155.7" rx="3.2" ry="2.95" fill="#e6e6e6" stroke="#cdcdcd" stroke-width="0.55"/>
<ellipse cx="560.9" cy="128.4" rx="3.2" ry="2.95" fill="#e6e6e6" stroke="#cdcdcd" stroke-width="0.55"/>
<ellipse cx="560.9" cy="155.7" rx="3.2" ry="2.95" fill="#e6e6e6" stroke="#cdcdcd" stroke-width="0.55"/>
<ellipse cx="567.35" cy="128.4" rx="3.2" ry="2.95" fill="#e6e6e6" stroke="#cdcdcd" stroke-width="0.55"/>
<ellipse cx="567.35" cy="155.7" rx="3.2" ry="2.95" fill="#e6e6e6" stroke="#cdcdcd" stroke-width="0.55"/>
<ellipse cx="573.8" cy="128.4" rx="3.2" ry="2.95" fill="#e6e6e6" stroke="#cdcdcd" stroke-width="0.55"/>
<ellipse cx="573.8" cy="155.7" rx="3.2" ry="2.95" fill="#e6e6e6" stroke="#cdcdcd" stroke-width="0.55"/>
<ellipse cx="580.25" cy="128.4" rx="3.2" ry="2.95" fill="#e6e6e6" stroke="#cdcdcd" stroke-width="0.55"/>
<ellipse cx="580.25" cy="155.7" rx="3.2" ry="2.95" fill="#e6e6e6" stroke="#cdcdcd" stroke-width="0.55"/>
</g>
<g transform="translate(0,0)" fill="none" stroke="#1a433e" stroke-width="1.45">
<path d="M123.6,51.1 C122.73,51.98 120.83,54.83 118.4,56.4 C115.97,57.97 111.47,58.82 109,60.5 C106.53,62.18 104.18,64.48 103.6,66.5 C103.02,68.52 103.82,71.47 105.5,72.6 C107.18,73.73 110.97,74.05 113.7,73.3 C116.43,72.55 118.98,69.65 121.9,68.1 C124.82,66.55 128.28,64.3 131.2,64 C134.12,63.7 137.48,64.95 139.4,66.3 C141.32,67.65 142.6,70.05 142.7,72.1 C142.8,74.15 142.1,76.93 140,78.6 C137.9,80.27 132.8,80.88 130.1,82.1 C127.4,83.32 125.1,84.45 123.8,85.9 C122.5,87.35 121.97,89.32 122.3,90.8 C122.63,92.28 123.92,94.33 125.8,94.8 C127.68,95.27 130.93,94.45 133.6,93.6 C136.27,92.75 139.37,90.07 141.8,89.7 C144.23,89.33 146.67,89.93 148.2,91.4 C149.73,92.87 150.9,96.15 151,98.5 C151.1,100.85 150.33,103.37 148.8,105.5 C147.27,107.63 143.85,109.35 141.8,111.3 C139.75,113.25 137.7,114.87 136.5,117.2 C135.3,119.53 134.92,123.95 134.6,125.3"/>
<path d="M134.6,158.4 V164.35 A5.85,5.85 0 0 0 146.3,164.35 V158.4"/>
<path d="M146.3,125.8 V121.8 A3.6,3.6 0 0 1 153.5,121.8 V125.8"/>
<path d="M153.5,158.4 V177.2 A6.1,6.1 0 0 0 165.7,177.2 V158.4"/>
<path d="M165.7,125.8 V121.85 A3.65,3.65 0 0 1 173,121.85 V125.8"/>
<path d="M173,158.4 V160.7 A3.5,3.5 0 0 0 180,160.7 V158.4"/>
<path d="M180,125.8 V106.9 A5.7,5.7 0 0 1 191.4,106.9 V125.8"/>
<path d="M191.4,158.4 V160.7 A3.5,3.5 0 0 0 198.4,160.7 V158.4"/>
<path d="M198.4,125.8 V121.7 A3.5,3.5 0 0 1 205.4,121.7 V125.8"/>
<path d="M205.4,158.4 V160.65 A3.55,3.55 0 0 0 212.5,160.65 V158.4"/>
<path d="M212.5,125.8 V121.7 A3.5,3.5 0 0 1 219.5,121.7 V125.8"/>
<path d="M219.5,158.5 C219.6,163.5 221.3,167.8 224.1,171.0 L224.1,171 L223.46,171.4 L222.92,171.8 L222.56,172.2 L222.45,172.6 L222.6,173 L222.98,173.4 L223.54,173.8 L224.18,174.2 L224.82,174.6 L225.34,175 L225.66,175.4 L225.75,175.8 L225.57,176.2 L225.16,176.6 L224.59,177 L223.94,177.4 L223.31,177.8 L222.81,178.2 L222.51,178.6 L222.46,179 L222.67,179.4 L223.1,179.8 L223.69,180.2 L224.35,180.6 L224.96,181 L225.44,181.4 L225.71,181.8 L225.72,182.2 L225.49,182.6 L225.03,183 L224.43,183.4 L223.77,183.8 L223.17,184.2 L222.71,184.6 L222.48,185 L222.49,185.4 L222.76,185.8 L223.24,186.2 L223.85,186.6 L224.51,187 L225.1,187.4 L225.53,187.8 L225.74,188.2 L225.69,188.6 L225.39,189 L224.89,189.4 L224.26,189.8 L223.61,190.2 L223.04,190.6 L222.63,191 L222.45,191.4 L222.54,191.8 L222.86,192.2 L223.38,192.6 L224.02,193 L224.66,193.4 L225.22,193.8 L225.6,194.2 L225.75,194.6 L225.64,195 L225.28,195.4" stroke-width="1.3"/>
<rect x="131.95" y="124.8" width="5.3" height="34.6" rx="2.6" fill="#248076" stroke="#1d5a50" stroke-width="0.7"/>
<rect x="143.65" y="124.8" width="5.3" height="34.6" rx="2.6" fill="#248076" stroke="#1d5a50" stroke-width="0.7"/>
<rect x="150.85" y="124.8" width="5.3" height="34.6" rx="2.6" fill="#248076" stroke="#1d5a50" stroke-width="0.7"/>
<rect x="163.05" y="124.8" width="5.3" height="34.6" rx="2.6" fill="#248076" stroke="#1d5a50" stroke-width="0.7"/>
<rect x="170.35" y="124.8" width="5.3" height="34.6" rx="2.6" fill="#248076" stroke="#1d5a50" stroke-width="0.7"/>
<rect x="177.35" y="124.8" width="5.3" height="34.6" rx="2.6" fill="#248076" stroke="#1d5a50" stroke-width="0.7"/>
<rect x="188.75" y="124.8" width="5.3" height="34.6" rx="2.6" fill="#248076" stroke="#1d5a50" stroke-width="0.7"/>
<rect x="195.75" y="124.8" width="5.3" height="34.6" rx="2.6" fill="#248076" stroke="#1d5a50" stroke-width="0.7"/>
<rect x="202.75" y="124.8" width="5.3" height="34.6" rx="2.6" fill="#248076" stroke="#1d5a50" stroke-width="0.7"/>
<rect x="209.85" y="124.8" width="5.3" height="34.6" rx="2.6" fill="#248076" stroke="#1d5a50" stroke-width="0.7"/>
<rect x="216.85" y="124.8" width="5.3" height="34.6" rx="2.6" fill="#248076" stroke="#1d5a50" stroke-width="0.7"/>
</g>
<g transform="translate(245.5,0)" fill="none" stroke="#1a433e" stroke-width="1.45">
<path d="M123.6,51.1 C122.73,51.98 120.83,54.83 118.4,56.4 C115.97,57.97 111.47,58.82 109,60.5 C106.53,62.18 104.18,64.48 103.6,66.5 C103.02,68.52 103.82,71.47 105.5,72.6 C107.18,73.73 110.97,74.05 113.7,73.3 C116.43,72.55 118.98,69.65 121.9,68.1 C124.82,66.55 128.28,64.3 131.2,64 C134.12,63.7 137.48,64.95 139.4,66.3 C141.32,67.65 142.6,70.05 142.7,72.1 C142.8,74.15 142.1,76.93 140,78.6 C137.9,80.27 132.8,80.88 130.1,82.1 C127.4,83.32 125.1,84.45 123.8,85.9 C122.5,87.35 121.97,89.32 122.3,90.8 C122.63,92.28 123.92,94.33 125.8,94.8 C127.68,95.27 130.93,94.45 133.6,93.6 C136.27,92.75 139.37,90.07 141.8,89.7 C144.23,89.33 146.67,89.93 148.2,91.4 C149.73,92.87 150.9,96.15 151,98.5 C151.1,100.85 150.33,103.37 148.8,105.5 C147.27,107.63 143.85,109.35 141.8,111.3 C139.75,113.25 137.7,114.87 136.5,117.2 C135.3,119.53 134.92,123.95 134.6,125.3"/>
<path d="M134.6,158.4 V164.35 A5.85,5.85 0 0 0 146.3,164.35 V158.4"/>
<path d="M146.3,125.8 V121.8 A3.6,3.6 0 0 1 153.5,121.8 V125.8"/>
<path d="M153.5,158.4 V177.2 A6.1,6.1 0 0 0 165.7,177.2 V158.4"/>
<path d="M165.7,125.8 V121.85 A3.65,3.65 0 0 1 173,121.85 V125.8"/>
<path d="M173,158.4 V160.7 A3.5,3.5 0 0 0 180,160.7 V158.4"/>
<path d="M180,125.8 V106.9 A5.7,5.7 0 0 1 191.4,106.9 V125.8"/>
<path d="M191.4,158.4 V160.7 A3.5,3.5 0 0 0 198.4,160.7 V158.4"/>
<path d="M198.4,125.8 V121.7 A3.5,3.5 0 0 1 205.4,121.7 V125.8"/>
<path d="M205.4,158.4 V160.65 A3.55,3.55 0 0 0 212.5,160.65 V158.4"/>
<path d="M212.5,125.8 V121.7 A3.5,3.5 0 0 1 219.5,121.7 V125.8"/>
<rect x="131.95" y="124.8" width="5.3" height="34.6" rx="2.6" fill="#248076" stroke="#1d5a50" stroke-width="0.7"/>
<rect x="143.65" y="124.8" width="5.3" height="34.6" rx="2.6" fill="#248076" stroke="#1d5a50" stroke-width="0.7"/>
<rect x="150.85" y="124.8" width="5.3" height="34.6" rx="2.6" fill="#248076" stroke="#1d5a50" stroke-width="0.7"/>
<rect x="163.05" y="124.8" width="5.3" height="34.6" rx="2.6" fill="#248076" stroke="#1d5a50" stroke-width="0.7"/>
<rect x="170.35" y="124.8" width="5.3" height="34.6" rx="2.6" fill="#248076" stroke="#1d5a50" stroke-width="0.7"/>
<rect x="177.35" y="124.8" width="5.3" height="34.6" rx="2.6" fill="#248076" stroke="#1d5a50" stroke-width="0.7"/>
<rect x="188.75" y="124.8" width="5.3" height="34.6" rx="2.6" fill="#248076" stroke="#1d5a50" stroke-width="0.7"/>
<rect x="195.75" y="124.8" width="5.3" height="34.6" rx="2.6" fill="#248076" stroke="#1d5a50" stroke-width="0.7"/>
<rect x="202.75" y="124.8" width="5.3" height="34.6" rx="2.6" fill="#248076" stroke="#1d5a50" stroke-width="0.7"/>
<rect x="209.85" y="124.8" width="5.3" height="34.6" rx="2.6" fill="#248076" stroke="#1d5a50" stroke-width="0.7"/>
<rect x="216.85" y="124.8" width="5.3" height="34.6" rx="2.6" fill="#248076" stroke="#1d5a50" stroke-width="0.7"/>
</g>
<g transform="translate(0,0)">
<text x="121.5" y="48.8" font-size="9.2" font-weight="bold" fill="#1a433e">N</text>
<path d="M172.4,50.8 C167,47.6 159,46.9 151.2,49.6 C146.6,51.3 143.5,53.6 140.6,56.3" fill="none" stroke="#222" stroke-width="1.5" stroke-dasharray="3.4,3.7"/>
<polygon points="133.4,61.7 135.8,54.2 141.9,59.4" fill="#222"/>
<circle cx="178.0" cy="54.1" r="4.95" fill="#66c2f2" stroke="#444" stroke-width="0.85"/>
<text x="185.1" y="57.8" font-size="10.5" font-weight="bold" fill="#6cc5f0">WNT-9B</text>
<text x="201.2" y="110.7" font-size="11" font-weight="bold" fill="#21806f">PKD1</text>
</g>
<g transform="translate(245.5,0)">
<text x="121.5" y="48.8" font-size="9.2" font-weight="bold" fill="#1a433e">N</text>
<path d="M172.4,50.8 C167,47.6 159,46.9 151.2,49.6 C146.6,51.3 143.5,53.6 140.6,56.3" fill="none" stroke="#222" stroke-width="1.5" stroke-dasharray="3.4,3.7"/>
<polygon points="133.4,61.7 135.8,54.2 141.9,59.4" fill="#222"/>
<circle cx="178.0" cy="54.1" r="4.95" fill="#66c2f2" stroke="#444" stroke-width="0.85"/>
<text x="185.1" y="57.8" font-size="10.5" font-weight="bold" fill="#6cc5f0">WNT-9B</text>
<text x="201.2" y="110.7" font-size="11" font-weight="bold" fill="#21806f">PKD1</text>
</g>
<path d="M245.6,172.4 C242,167.5 237,166.4 231.5,166.9" fill="none" stroke="#222" stroke-width="1.3"/>
<polygon points="225.5,166.7 233,162.2 232.6,171" fill="#222"/>
<rect x="268.5" y="172.2" width="28" height="19.3" rx="9.6" fill="#fff" stroke="#666" stroke-width="0.8"/>
<text x="281.2" y="184.9" font-size="10.6" font-weight="normal" fill="#5e5e5e" text-anchor="middle" >&#946;/&#947;</text>
<path d="M271.5,183 L271.44,184.27 L271.24,185.32 L270.93,186.27 L270.48,187.16 L269.92,187.99 L269.23,188.76 L268.43,189.46 L267.52,190.1 L266.5,190.67 L265.38,191.18 L264.16,191.61 L262.84,191.96 L261.42,192.24 L259.89,192.44 L258.23,192.56 L256.2,192.6 L254.17,192.56 L252.51,192.44 L250.98,192.24 L249.56,191.96 L248.24,191.61 L247.02,191.18 L245.9,190.67 L244.88,190.1 L243.97,189.46 L243.17,188.76 L242.48,187.99 L241.92,187.16 L241.47,186.27 L241.16,185.32 L240.96,184.27 L240.9,183 L240.96,181.73 L241.16,180.68 L241.47,179.73 L241.92,178.84 L242.48,178.01 L243.17,177.24 L243.97,176.54 L244.88,175.9 L245.9,175.33 L247.02,174.82 L248.24,174.39 L249.56,174.04 L250.98,173.76 L252.51,173.56 L254.17,173.44 L256.2,173.4 L258.23,173.44 L259.89,173.56 L261.42,173.76 L262.84,174.04 L264.16,174.39 L265.38,174.82 L266.5,175.33 L267.52,175.9 L268.43,176.54 L269.23,177.24 L269.92,178.01 L270.48,178.84 L270.93,179.73 L271.24,180.68 L271.44,181.73 Z" fill="#edf1f8" stroke="#333" stroke-width="0.8"/>
<text x="256.3" y="186" font-size="9.6" font-weight="bold" fill="#000" text-anchor="middle" >&#945;</text>
<polygon points="256.2,188 258.19,193.97 262.32,189.11 261.87,195.28 267.51,192.28 264.68,197.71 270.98,197.01 266.2,200.88 272.2,202.6 266.2,204.32 270.98,208.19 264.68,207.49 267.51,212.92 261.87,209.92 262.32,216.09 258.19,211.23 256.2,217.2 254.21,211.23 250.08,216.09 250.53,209.92 244.89,212.92 247.72,207.49 241.42,208.19 246.2,204.32 240.2,202.6 246.2,200.88 241.42,197.01 247.72,197.71 244.89,192.28 250.53,195.28 250.08,189.11 254.21,193.97" fill="#ffff00" stroke="#222" stroke-width="0.8"/>
<text x="256.3" y="206.4" font-size="9.8" font-weight="bold" fill="#000" text-anchor="middle" >YFP</text>
<polygon points="230.2,204.5 227.34,205.8 229.42,207.9 226.05,208.27 227.14,210.97 223.6,210.37 223.6,213.4 220.24,211.9 219.14,214.96 216.28,212.7 214.2,215.5 212.12,212.7 209.26,214.96 208.16,211.9 204.8,213.4 204.8,210.37 201.26,210.97 202.35,208.27 198.98,207.9 201.06,205.8 198.2,204.5 201.06,203.2 198.98,201.1 202.35,200.73 201.26,198.03 204.8,198.63 204.8,195.6 208.16,197.1 209.26,194.04 212.12,196.3 214.2,193.5 216.28,196.3 219.14,194.04 220.24,197.1 223.6,195.6 223.6,198.63 227.14,198.03 226.05,200.73 229.42,201.1 227.34,203.2" fill="#0b6cf4" stroke="#222" stroke-width="0.7"/>
<text x="214.6" y="207.9" font-size="9.6" font-weight="bold" fill="#fff" text-anchor="middle" >Nluc</text>
<rect x="484.4" y="116.4" width="69.4" height="24.8" fill="#fff" stroke="#111" stroke-width="1.5"/>
<text x="518.9" y="126.7" font-size="10.8" font-weight="bold" fill="#000" text-anchor="middle" >ONE-GO</text>
<text x="518.9" y="137.7" font-size="10.8" font-weight="bold" fill="#000" text-anchor="middle" >biosensor</text>
<rect x="473.9" y="159.4" width="28.9" height="19.4" rx="9.6" fill="#fff" stroke="#666" stroke-width="0.8"/>
<text x="487.8" y="172.2" font-size="10.6" font-weight="normal" fill="#5e5e5e" text-anchor="middle" >&#946;/&#947;</text>
<path d="M477.45,171.3 L477.39,172.57 L477.19,173.62 L476.87,174.57 L476.43,175.46 L475.86,176.29 L475.17,177.06 L474.36,177.76 L473.44,178.4 L472.42,178.97 L471.29,179.48 L470.06,179.91 L468.73,180.26 L467.3,180.54 L465.77,180.74 L464.09,180.86 L462.05,180.9 L460.01,180.86 L458.33,180.74 L456.8,180.54 L455.37,180.26 L454.04,179.91 L452.81,179.48 L451.68,178.97 L450.66,178.4 L449.74,177.76 L448.93,177.06 L448.24,176.29 L447.67,175.46 L447.23,174.57 L446.91,173.62 L446.71,172.57 L446.65,171.3 L446.71,170.03 L446.91,168.98 L447.23,168.03 L447.67,167.14 L448.24,166.31 L448.93,165.54 L449.74,164.84 L450.66,164.2 L451.68,163.63 L452.81,163.12 L454.04,162.69 L455.37,162.34 L456.8,162.06 L458.33,161.86 L460.01,161.74 L462.05,161.7 L464.09,161.74 L465.77,161.86 L467.3,162.06 L468.73,162.34 L470.06,162.69 L471.29,163.12 L472.42,163.63 L473.44,164.2 L474.36,164.84 L475.17,165.54 L475.86,166.31 L476.43,167.14 L476.87,168.03 L477.19,168.98 L477.39,170.03 Z" fill="#edf1f8" stroke="#333" stroke-width="0.8"/>
<text x="462.1" y="174.2" font-size="8.2" font-weight="bold" fill="#000" text-anchor="middle" >&#945;-GDP</text>
<polygon points="462.6,176.1 464.59,182.07 468.72,177.23 468.27,183.42 473.91,180.43 471.08,185.9 477.38,185.24 472.6,189.14 478.6,190.9 472.6,192.66 477.38,196.56 471.08,195.9 473.91,201.37 468.27,198.38 468.72,204.57 464.59,199.73 462.6,205.7 460.61,199.73 456.48,204.57 456.93,198.38 451.29,201.37 454.12,195.9 447.82,196.56 452.6,192.66 446.6,190.9 452.6,189.14 447.82,185.24 454.12,185.9 451.29,180.43 456.93,183.42 456.48,177.23 460.61,182.07" fill="#ffffa6" stroke="#222" stroke-width="0.8"/>
<text x="462.6" y="195" font-size="9.8" font-weight="bold" fill="#000" text-anchor="middle" >YFP</text>
<path d="M505,171.8 H520" fill="none" stroke="#1a1a1a" stroke-width="1.5"/>
<polygon points="525.9,171.8 519.2,168.1 519.2,175.5" fill="#1a1a1a"/>
<path d="M507,171.8 C510.6,172 512.1,174.5 512.1,178.5 V181.5" fill="none" stroke="#1a1a1a" stroke-width="1.5"/>
<polygon points="512.1,186 509.4,181 514.8,181" fill="#1a1a1a"/>
<rect x="498.5" y="187.3" width="24.3" height="16.4" rx="8.2" fill="#fff" stroke="#666" stroke-width="0.8"/>
<text x="510.4" y="198.9" font-size="10" font-weight="normal" fill="#5e5e5e" text-anchor="middle" >&#946;/&#947;</text>
<path d="M561.8,144.6 L563.3,146.1 L560.4,147.6 L563.3,149.1 L560.4,150.6 L563.3,152.1 L560.4,153.6 L563.3,155.1 L560.4,156.6 L563.3,158.1 L560.4,159.6 L563.2,162" fill="none" stroke="#111" stroke-width="0.9"/>
<path d="M559.5,171.5 L559.44,172.77 L559.24,173.82 L558.93,174.77 L558.48,175.66 L557.92,176.49 L557.23,177.26 L556.43,177.96 L555.52,178.6 L554.5,179.17 L553.38,179.68 L552.16,180.11 L550.84,180.46 L549.42,180.74 L547.89,180.94 L546.23,181.06 L544.2,181.1 L542.17,181.06 L540.51,180.94 L538.98,180.74 L537.56,180.46 L536.24,180.11 L535.02,179.68 L533.9,179.17 L532.88,178.6 L531.97,177.96 L531.17,177.26 L530.48,176.49 L529.92,175.66 L529.47,174.77 L529.16,173.82 L528.96,172.77 L528.9,171.5 L528.96,170.23 L529.16,169.18 L529.47,168.23 L529.92,167.34 L530.48,166.51 L531.17,165.74 L531.97,165.04 L532.88,164.4 L533.9,163.83 L535.02,163.32 L536.24,162.89 L537.56,162.54 L538.98,162.26 L540.51,162.06 L542.17,161.94 L544.2,161.9 L546.23,161.94 L547.89,162.06 L549.42,162.26 L550.84,162.54 L552.16,162.89 L553.38,163.32 L554.5,163.83 L555.52,164.4 L556.43,165.04 L557.23,165.74 L557.92,166.51 L558.48,167.34 L558.93,168.23 L559.24,169.18 L559.44,170.23 Z" fill="#edf1f8" stroke="#333" stroke-width="0.8"/>
<text x="531.2" y="175.0" font-size="8.6" font-weight="bold"><tspan fill="#000">&#945;-</tspan><tspan fill="#ee1c1c">GTP</tspan></text>
<polygon points="553.6,162 564,162 570.6,171.8 564,181 554.6,181 559.6,171.8" fill="#8c9ecf" stroke="#444" stroke-width="0.7"/>
<path d="M564,180.5 C566.8,182.5 568.3,185.5 568.3,190" fill="none" stroke="#222" stroke-width="1.3"/>
<text x="588.2" y="165.8" font-size="8.8" font-weight="bold" fill="#4270ba" text-anchor="middle">Detector</text>
<text x="588.2" y="173.3" font-size="8.8" font-weight="bold" fill="#4270ba" text-anchor="middle">module</text>
<polygon points="544.1,176.6 545.99,182.57 550.03,177.7 549.49,183.87 555.06,180.85 552.17,186.27 558.42,185.55 553.61,189.4 559.6,191.1 553.61,192.8 558.42,196.65 552.17,195.93 555.06,201.35 549.49,198.33 550.03,204.5 545.99,199.63 544.1,205.6 542.21,199.63 538.17,204.5 538.71,198.33 533.14,201.35 536.03,195.93 529.78,196.65 534.59,192.8 528.6,191.1 534.59,189.4 529.78,185.55 536.03,186.27 533.14,180.85 538.71,183.87 538.17,177.7 542.21,182.57" fill="#ffff00" stroke="#222" stroke-width="0.8"/>
<text x="544.2" y="194.7" font-size="9.8" font-weight="bold" fill="#000" text-anchor="middle" >YFP</text>
<polygon points="585.1,199.6 582.34,200.92 584.31,203.04 581.05,203.41 582.02,206.11 578.63,205.49 578.49,208.47 575.32,206.93 574.08,209.88 571.49,207.57 569.29,210.16 567.55,207.36 564.64,209.31 563.94,206.3 560.61,207.4 561.03,204.51 557.66,204.65 559.15,202.2 556.1,201.34 558.5,199.6 556.1,197.86 559.15,197 557.66,194.55 561.03,194.69 560.61,191.8 563.94,192.9 564.64,189.89 567.55,191.84 569.29,189.04 571.49,191.63 574.08,189.32 575.32,192.27 578.49,190.73 578.63,193.71 582.02,193.09 581.05,195.79 584.31,196.16 582.34,198.28" fill="#0b6cf4" stroke="#222" stroke-width="0.7"/>
<text x="570.8" y="203" font-size="9.6" font-weight="bold" fill="#fff" text-anchor="middle" >Nluc</text>
<text x="-1.2" y="261.5" font-size="16.5" font-weight="bold" fill="#000" text-anchor="start" >b</text>
<text transform="translate(39,377.2) scale(0.94,1)" font-size="10.6" font-weight="bold" text-anchor="end" stroke="#000" stroke-width="0.3">0.000</text>
<text transform="translate(39,353.95) scale(0.94,1)" font-size="10.6" font-weight="bold" text-anchor="end" stroke="#000" stroke-width="0.3">0.005</text>
<text transform="translate(39,330.7) scale(0.94,1)" font-size="10.6" font-weight="bold" text-anchor="end" stroke="#000" stroke-width="0.3">0.010</text>
<text transform="translate(39,307.45) scale(0.94,1)" font-size="10.6" font-weight="bold" text-anchor="end" stroke="#000" stroke-width="0.3">0.015</text>
<text transform="translate(39,284.2) scale(0.94,1)" font-size="10.6" font-weight="bold" text-anchor="end" stroke="#000" stroke-width="0.3">0.020</text>
<text transform="translate(45.3,387.6) scale(1.0,1)" font-size="9.8" font-weight="bold" text-anchor="middle" stroke="#000" stroke-width="0.3">0.0</text>
<text transform="translate(68.6,387.6) scale(1.0,1)" font-size="9.8" font-weight="bold" text-anchor="middle" stroke="#000" stroke-width="0.3">0.5</text>
<text transform="translate(91.9,387.6) scale(1.0,1)" font-size="9.8" font-weight="bold" text-anchor="middle" stroke="#000" stroke-width="0.3">1.0</text>
<text transform="translate(115.2,387.6) scale(1.0,1)" font-size="9.8" font-weight="bold" text-anchor="middle" stroke="#000" stroke-width="0.3">1.5</text>
<text transform="translate(138.5,387.6) scale(1.0,1)" font-size="9.8" font-weight="bold" text-anchor="middle" stroke="#000" stroke-width="0.3">2.0</text>
<text transform="translate(161.8,387.6) scale(1.0,1)" font-size="9.8" font-weight="bold" text-anchor="middle" stroke="#000" stroke-width="0.3">2.5</text>
<polyline points="45.3,373.3 46.46,365.56 47.63,358.96 48.79,353.26 49.96,348.3 51.12,343.94 52.29,340.08 53.45,336.63 54.62,333.54 55.78,330.74 56.95,328.21 58.11,325.9 59.28,323.78 60.45,321.84 61.61,320.05 62.77,318.4 63.94,316.86 65.1,315.44 66.27,314.11 67.44,312.86 68.6,311.7 69.77,310.6 70.93,309.58 72.09,308.61 73.26,307.69 74.42,306.83 75.59,306.01 76.75,305.24 77.92,304.5 79.08,303.8 80.25,303.13 81.41,302.5 82.58,301.89 83.75,301.31 84.91,300.76 86.07,300.23 87.24,299.72 88.41,299.24 89.57,298.77 90.73,298.32 91.9,297.89 93.06,297.48 94.23,297.08 95.39,296.7 96.56,296.32 97.72,295.97 98.89,295.62 100.06,295.29 101.22,294.97 102.39,294.66 103.55,294.35 104.72,294.06 105.88,293.78 107.04,293.51 108.21,293.24 109.38,292.98 110.54,292.73 111.7,292.49 112.87,292.26 114.03,292.03 115.2,291.81 116.36,291.59 117.53,291.38 118.69,291.17 119.86,290.97 121.03,290.78 122.19,290.59 123.36,290.41 124.52,290.23 125.69,290.05 126.85,289.88 128.01,289.71 129.18,289.55 130.34,289.39 131.51,289.24 132.68,289.09 133.84,288.94 135,288.79 136.17,288.65 137.34,288.51 138.5,288.38 139.66,288.25 140.83,288.12 142,287.99 143.16,287.86 144.32,287.74 145.49,287.62 146.65,287.51 147.82,287.39 148.99,287.28 150.15,287.17 151.31,287.06 152.48,286.96 153.65,286.85 154.81,286.75 155.97,286.65 157.14,286.55 158.31,286.46 159.47,286.36 160.63,286.27 161.8,286.18" fill="none" stroke="#3aa6e6" stroke-width="1.2"/>
<path d="M45.3,279.7 V373.3 H162.4" fill="none" stroke="#000" stroke-width="1.65"/>
<line x1="40.9" y1="373.3" x2="45.3" y2="373.3" stroke="#000" stroke-width="1.6"/>
<line x1="40.9" y1="350.05" x2="45.3" y2="350.05" stroke="#000" stroke-width="1.6"/>
<line x1="40.9" y1="326.8" x2="45.3" y2="326.8" stroke="#000" stroke-width="1.6"/>
<line x1="40.9" y1="303.55" x2="45.3" y2="303.55" stroke="#000" stroke-width="1.6"/>
<line x1="40.9" y1="280.3" x2="45.3" y2="280.3" stroke="#000" stroke-width="1.6"/>
<line x1="45.3" y1="373.3" x2="45.3" y2="377.7" stroke="#000" stroke-width="1.6"/>
<line x1="68.6" y1="373.3" x2="68.6" y2="377.7" stroke="#000" stroke-width="1.6"/>
<line x1="91.9" y1="373.3" x2="91.9" y2="377.7" stroke="#000" stroke-width="1.6"/>
<line x1="115.2" y1="373.3" x2="115.2" y2="377.7" stroke="#000" stroke-width="1.6"/>
<line x1="138.5" y1="373.3" x2="138.5" y2="377.7" stroke="#000" stroke-width="1.6"/>
<line x1="161.8" y1="373.3" x2="161.8" y2="377.7" stroke="#000" stroke-width="1.6"/>
<circle cx="45.3" cy="373.3" r="2.3" fill="#3aa6e6"/>
<path d="M47.63,358.88 V357.03 M46.23,357.03 H49.03 M46.23,358.88 H49.03" fill="none" stroke="#3aa6e6" stroke-width="0.8"/>
<circle cx="47.63" cy="357.95" r="2.3" fill="#3aa6e6"/>
<path d="M52.29,347.45 V344.66 M50.89,344.66 H53.69 M50.89,347.45 H53.69" fill="none" stroke="#3aa6e6" stroke-width="0.8"/>
<circle cx="52.29" cy="346.05" r="2.3" fill="#3aa6e6"/>
<circle cx="63.94" cy="308.53" r="2.3" fill="#3aa6e6"/>
<path d="M91.9,296.81 V294.95 M90.5,294.95 H93.3 M90.5,296.81 H93.3" fill="none" stroke="#3aa6e6" stroke-width="0.8"/>
<circle cx="91.9" cy="295.88" r="2.3" fill="#3aa6e6"/>
<circle cx="161.8" cy="290.16" r="2.3" fill="#3aa6e6"/>
<text x="78.3" y="337.8" font-size="8.9" font-weight="bold" class="k">BRET<tspan font-size="6.7" dy="2.2">max</tspan><tspan dy="-2.2"> = 0.0209</tspan></text>
<text x="78.3" y="349.0" font-size="8.9" font-weight="bold" class="k">BRET<tspan font-size="6.7" dy="2.2">50</tspan><tspan dy="-2.2"> = 0.2888</tspan></text>
<text x="103.5" y="405.0" font-size="11.5" font-weight="bold" class="k" text-anchor="middle">G&#945;<tspan font-size="8.4" dy="2.8">q</tspan><tspan dy="-2.8">-YFP:PKD1-Nluc (&#956;g)</tspan></text>
<text transform="translate(9,324.5) rotate(-90)" font-size="11.6" font-weight="bold" class="k" text-anchor="middle">Net BRET</text>
<text x="172.6" y="261.5" font-size="16.5" font-weight="bold" fill="#000" text-anchor="start" >c</text>
<text transform="translate(209.4,377.2) scale(0.94,1)" font-size="10.6" font-weight="bold" text-anchor="end" stroke="#000" stroke-width="0.3">0.00</text>
<text transform="translate(209.4,353.95) scale(0.94,1)" font-size="10.6" font-weight="bold" text-anchor="end" stroke="#000" stroke-width="0.3">0.01</text>
<text transform="translate(209.4,330.7) scale(0.94,1)" font-size="10.6" font-weight="bold" text-anchor="end" stroke="#000" stroke-width="0.3">0.02</text>
<text transform="translate(209.4,307.45) scale(0.94,1)" font-size="10.6" font-weight="bold" text-anchor="end" stroke="#000" stroke-width="0.3">0.03</text>
<text transform="translate(209.4,284.2) scale(0.94,1)" font-size="10.6" font-weight="bold" text-anchor="end" stroke="#000" stroke-width="0.3">0.04</text>
<text transform="translate(215.7,387.6) scale(1.0,1)" font-size="9.8" font-weight="bold" text-anchor="middle" stroke="#000" stroke-width="0.3">0.0</text>
<text transform="translate(239,387.6) scale(1.0,1)" font-size="9.8" font-weight="bold" text-anchor="middle" stroke="#000" stroke-width="0.3">0.5</text>
<text transform="translate(262.3,387.6) scale(1.0,1)" font-size="9.8" font-weight="bold" text-anchor="middle" stroke="#000" stroke-width="0.3">1.0</text>
<text transform="translate(285.6,387.6) scale(1.0,1)" font-size="9.8" font-weight="bold" text-anchor="middle" stroke="#000" stroke-width="0.3">1.5</text>
<text transform="translate(308.9,387.6) scale(1.0,1)" font-size="9.8" font-weight="bold" text-anchor="middle" stroke="#000" stroke-width="0.3">2.0</text>
<text transform="translate(332.2,387.6) scale(1.0,1)" font-size="9.8" font-weight="bold" text-anchor="middle" stroke="#000" stroke-width="0.3">2.5</text>
<polyline points="215.7,373.3 216.86,369.35 218.03,365.75 219.19,362.45 220.36,359.42 221.52,356.63 222.69,354.05 223.85,351.65 225.02,349.43 226.19,347.35 227.35,345.41 228.51,343.59 229.68,341.88 230.84,340.28 232.01,338.77 233.17,337.34 234.34,335.99 235.5,334.71 236.67,333.5 237.83,332.35 239,331.26 240.16,330.22 241.33,329.23 242.49,328.28 243.66,327.38 244.82,326.51 245.99,325.68 247.16,324.89 248.32,324.13 249.48,323.4 250.65,322.7 251.81,322.03 252.98,321.38 254.14,320.76 255.31,320.16 256.47,319.58 257.64,319.02 258.81,318.48 259.97,317.96 261.13,317.46 262.3,316.97 263.46,316.5 264.63,316.04 265.79,315.6 266.96,315.18 268.12,314.76 269.29,314.36 270.45,313.97 271.62,313.59 272.78,313.22 273.95,312.86 275.12,312.52 276.28,312.18 277.44,311.85 278.61,311.53 279.77,311.22 280.94,310.91 282.11,310.62 283.27,310.33 284.44,310.05 285.6,309.77 286.76,309.51 287.93,309.25 289.09,308.99 290.26,308.74 291.43,308.5 292.59,308.26 293.75,308.03 294.92,307.81 296.08,307.58 297.25,307.37 298.41,307.16 299.58,306.95 300.75,306.75 301.91,306.55 303.07,306.35 304.24,306.16 305.4,305.98 306.57,305.79 307.74,305.62 308.9,305.44 310.06,305.27 311.23,305.1 312.39,304.93 313.56,304.77 314.73,304.61 315.89,304.46 317.05,304.3 318.22,304.15 319.38,304.01 320.55,303.86 321.71,303.72 322.88,303.58 324.05,303.44 325.21,303.31 326.38,303.17 327.54,303.04 328.7,302.91 329.87,302.79 331.03,302.66 332.2,302.54" fill="none" stroke="#ff7f0a" stroke-width="1.2"/>
<path d="M215.7,279.7 V373.3 H332.8" fill="none" stroke="#000" stroke-width="1.65"/>
<line x1="211.3" y1="373.3" x2="215.7" y2="373.3" stroke="#000" stroke-width="1.6"/>
<line x1="211.3" y1="350.05" x2="215.7" y2="350.05" stroke="#000" stroke-width="1.6"/>
<line x1="211.3" y1="326.8" x2="215.7" y2="326.8" stroke="#000" stroke-width="1.6"/>
<line x1="211.3" y1="303.55" x2="215.7" y2="303.55" stroke="#000" stroke-width="1.6"/>
<line x1="211.3" y1="280.3" x2="215.7" y2="280.3" stroke="#000" stroke-width="1.6"/>
<line x1="215.7" y1="373.3" x2="215.7" y2="377.7" stroke="#000" stroke-width="1.6"/>
<line x1="239" y1="373.3" x2="239" y2="377.7" stroke="#000" stroke-width="1.6"/>
<line x1="262.3" y1="373.3" x2="262.3" y2="377.7" stroke="#000" stroke-width="1.6"/>
<line x1="285.6" y1="373.3" x2="285.6" y2="377.7" stroke="#000" stroke-width="1.6"/>
<line x1="308.9" y1="373.3" x2="308.9" y2="377.7" stroke="#000" stroke-width="1.6"/>
<line x1="332.2" y1="373.3" x2="332.2" y2="377.7" stroke="#000" stroke-width="1.6"/>
<circle cx="215.7" cy="373.3" r="2.3" fill="#ff7f0a"/>
<path d="M218.03,369.35 V367.02 M216.63,367.02 H219.43 M216.63,369.35 H219.43" fill="none" stroke="#ff7f0a" stroke-width="0.8"/>
<circle cx="218.03" cy="368.19" r="2.3" fill="#ff7f0a"/>
<path d="M222.69,360.98 V355.4 M221.29,355.4 H224.09 M221.29,360.98 H224.09" fill="none" stroke="#ff7f0a" stroke-width="0.8"/>
<circle cx="222.69" cy="358.19" r="2.3" fill="#ff7f0a"/>
<path d="M234.34,334.94 V333.54 M232.94,333.54 H235.74 M232.94,334.94 H235.74" fill="none" stroke="#ff7f0a" stroke-width="0.8"/>
<circle cx="234.34" cy="334.24" r="2.3" fill="#ff7f0a"/>
<path d="M262.3,310.29 V308.9 M260.9,308.9 H263.7 M260.9,310.29 H263.7" fill="none" stroke="#ff7f0a" stroke-width="0.8"/>
<circle cx="262.3" cy="309.6" r="2.3" fill="#ff7f0a"/>
<path d="M332.2,309.13 V304.94 M330.8,304.94 H333.6 M330.8,309.13 H333.6" fill="none" stroke="#ff7f0a" stroke-width="0.8"/>
<circle cx="332.2" cy="307.04" r="2.3" fill="#ff7f0a"/>
<text x="248.7" y="337.8" font-size="8.9" font-weight="bold" class="k">BRET<tspan font-size="6.7" dy="2.2">max</tspan><tspan dy="-2.2"> = 0.0367</tspan></text>
<text x="248.7" y="349.0" font-size="8.9" font-weight="bold" class="k">BRET<tspan font-size="6.7" dy="2.2">50</tspan><tspan dy="-2.2"> = 0.5148</tspan></text>
<text x="273.9" y="405.0" font-size="11.5" font-weight="bold" class="k" text-anchor="middle">G&#945;<tspan font-size="8.4" dy="2.8">i1</tspan><tspan dy="-2.8">-YFP:PKD1-Nluc (&#956;g)</tspan></text>
<text transform="translate(185.2,324.5) rotate(-90)" font-size="11.6" font-weight="bold" class="k" text-anchor="middle">Net BRET</text>
<text x="342.6" y="261.5" font-size="16.5" font-weight="bold" fill="#000" text-anchor="start" >d</text>
<text transform="translate(380,377.2) scale(0.94,1)" font-size="10.6" font-weight="bold" text-anchor="end" stroke="#000" stroke-width="0.3">0.00</text>
<text transform="translate(380,358.6) scale(0.94,1)" font-size="10.6" font-weight="bold" text-anchor="end" stroke="#000" stroke-width="0.3">0.01</text>
<text transform="translate(380,340) scale(0.94,1)" font-size="10.6" font-weight="bold" text-anchor="end" stroke="#000" stroke-width="0.3">0.02</text>
<text transform="translate(380,321.4) scale(0.94,1)" font-size="10.6" font-weight="bold" text-anchor="end" stroke="#000" stroke-width="0.3">0.03</text>
<text transform="translate(380,302.8) scale(0.94,1)" font-size="10.6" font-weight="bold" text-anchor="end" stroke="#000" stroke-width="0.3">0.04</text>
<text transform="translate(380,284.2) scale(0.94,1)" font-size="10.6" font-weight="bold" text-anchor="end" stroke="#000" stroke-width="0.3">0.05</text>
<text transform="translate(386.3,387.6) scale(1.0,1)" font-size="9.8" font-weight="bold" text-anchor="middle" stroke="#000" stroke-width="0.3">0.0</text>
<text transform="translate(409.6,387.6) scale(1.0,1)" font-size="9.8" font-weight="bold" text-anchor="middle" stroke="#000" stroke-width="0.3">0.5</text>
<text transform="translate(432.9,387.6) scale(1.0,1)" font-size="9.8" font-weight="bold" text-anchor="middle" stroke="#000" stroke-width="0.3">1.0</text>
<text transform="translate(456.2,387.6) scale(1.0,1)" font-size="9.8" font-weight="bold" text-anchor="middle" stroke="#000" stroke-width="0.3">1.5</text>
<text transform="translate(479.5,387.6) scale(1.0,1)" font-size="9.8" font-weight="bold" text-anchor="middle" stroke="#000" stroke-width="0.3">2.0</text>
<text transform="translate(502.8,387.6) scale(1.0,1)" font-size="9.8" font-weight="bold" text-anchor="middle" stroke="#000" stroke-width="0.3">2.5</text>
<polyline points="386.3,373.3 387.47,366.48 388.63,360.71 389.8,355.78 390.96,351.5 392.12,347.77 393.29,344.47 394.45,341.54 395.62,338.92 396.79,336.57 397.95,334.44 399.12,332.5 400.28,330.74 401.44,329.12 402.61,327.63 403.78,326.25 404.94,324.98 406.11,323.8 407.27,322.7 408.44,321.68 409.6,320.72 410.76,319.82 411.93,318.97 413.1,318.18 414.26,317.43 415.43,316.72 416.59,316.05 417.75,315.42 418.92,314.82 420.09,314.25 421.25,313.7 422.42,313.19 423.58,312.69 424.75,312.22 425.91,311.77 427.07,311.34 428.24,310.93 429.41,310.54 430.57,310.16 431.74,309.79 432.9,309.44 434.06,309.11 435.23,308.79 436.39,308.47 437.56,308.17 438.73,307.89 439.89,307.61 441.06,307.34 442.22,307.08 443.38,306.83 444.55,306.58 445.72,306.35 446.88,306.12 448.05,305.9 449.21,305.69 450.38,305.48 451.54,305.28 452.71,305.08 453.87,304.89 455.04,304.71 456.2,304.53 457.37,304.36 458.53,304.19 459.69,304.02 460.86,303.86 462.03,303.71 463.19,303.55 464.36,303.41 465.52,303.26 466.69,303.12 467.85,302.98 469.01,302.85 470.18,302.72 471.35,302.59 472.51,302.47 473.68,302.35 474.84,302.23 476,302.11 477.17,302 478.34,301.89 479.5,301.78 480.67,301.67 481.83,301.57 483,301.47 484.16,301.37 485.33,301.27 486.49,301.17 487.65,301.08 488.82,300.99 489.99,300.9 491.15,300.81 492.31,300.72 493.48,300.64 494.65,300.56 495.81,300.47 496.98,300.4 498.14,300.32 499.31,300.24 500.47,300.16 501.63,300.09 502.8,300.02" fill="none" stroke="#f40a3c" stroke-width="1.2"/>
<path d="M386.3,279.7 V373.3 H503.4" fill="none" stroke="#000" stroke-width="1.65"/>
<line x1="381.9" y1="373.3" x2="386.3" y2="373.3" stroke="#000" stroke-width="1.6"/>
<line x1="381.9" y1="354.7" x2="386.3" y2="354.7" stroke="#000" stroke-width="1.6"/>
<line x1="381.9" y1="336.1" x2="386.3" y2="336.1" stroke="#000" stroke-width="1.6"/>
<line x1="381.9" y1="317.5" x2="386.3" y2="317.5" stroke="#000" stroke-width="1.6"/>
<line x1="381.9" y1="298.9" x2="386.3" y2="298.9" stroke="#000" stroke-width="1.6"/>
<line x1="381.9" y1="280.3" x2="386.3" y2="280.3" stroke="#000" stroke-width="1.6"/>
<line x1="386.3" y1="373.3" x2="386.3" y2="377.7" stroke="#000" stroke-width="1.6"/>
<line x1="409.6" y1="373.3" x2="409.6" y2="377.7" stroke="#000" stroke-width="1.6"/>
<line x1="432.9" y1="373.3" x2="432.9" y2="377.7" stroke="#000" stroke-width="1.6"/>
<line x1="456.2" y1="373.3" x2="456.2" y2="377.7" stroke="#000" stroke-width="1.6"/>
<line x1="479.5" y1="373.3" x2="479.5" y2="377.7" stroke="#000" stroke-width="1.6"/>
<line x1="502.8" y1="373.3" x2="502.8" y2="377.7" stroke="#000" stroke-width="1.6"/>
<circle cx="386.3" cy="373.3" r="2.3" fill="#f40a3c"/>
<path d="M388.63,358.05 V355.07 M387.23,355.07 H390.03 M387.23,358.05 H390.03" fill="none" stroke="#f40a3c" stroke-width="0.8"/>
<circle cx="388.63" cy="356.56" r="2.3" fill="#f40a3c"/>
<path d="M393.29,344.47 V342.61 M391.89,342.61 H394.69 M391.89,344.47 H394.69" fill="none" stroke="#f40a3c" stroke-width="0.8"/>
<circle cx="393.29" cy="343.54" r="2.3" fill="#f40a3c"/>
<path d="M404.94,326.61 V323.27 M403.54,323.27 H406.34 M403.54,326.61 H406.34" fill="none" stroke="#f40a3c" stroke-width="0.8"/>
<circle cx="404.94" cy="324.94" r="2.3" fill="#f40a3c"/>
<path d="M432.9,310.8 V309.32 M431.5,309.32 H434.3 M431.5,310.8 H434.3" fill="none" stroke="#f40a3c" stroke-width="0.8"/>
<circle cx="432.9" cy="310.06" r="2.3" fill="#f40a3c"/>
<path d="M502.8,299.46 V298.71 M501.4,298.71 H504.2 M501.4,299.46 H504.2" fill="none" stroke="#f40a3c" stroke-width="0.8"/>
<circle cx="502.8" cy="299.09" r="2.3" fill="#f40a3c"/>
<text x="419.3" y="337.8" font-size="8.9" font-weight="bold" class="k">BRET<tspan font-size="6.7" dy="2.2">max</tspan><tspan dy="-2.2"> = 0.0437</tspan></text>
<text x="419.3" y="349.0" font-size="8.9" font-weight="bold" class="k">BRET<tspan font-size="6.7" dy="2.2">50</tspan><tspan dy="-2.2"> = 0.2729</tspan></text>
<text x="444.5" y="405.0" font-size="11.5" font-weight="bold" class="k" text-anchor="middle">G&#945;<tspan font-size="8.4" dy="2.8">i2</tspan><tspan dy="-2.8">-YFP:PKD1-Nluc (&#956;g)</tspan></text>
<text transform="translate(356.2,324.5) rotate(-90)" font-size="11.6" font-weight="bold" class="k" text-anchor="middle">Net BRET</text>
<text x="513.2" y="261.5" font-size="16.5" font-weight="bold" fill="#000" text-anchor="start" >e</text>
<text transform="translate(551.4,377.2) scale(0.94,1)" font-size="10.6" font-weight="bold" text-anchor="end" stroke="#000" stroke-width="0.3">0.00</text>
<text transform="translate(551.4,346.2) scale(0.94,1)" font-size="10.6" font-weight="bold" text-anchor="end" stroke="#000" stroke-width="0.3">0.02</text>
<text transform="translate(551.4,315.2) scale(0.94,1)" font-size="10.6" font-weight="bold" text-anchor="end" stroke="#000" stroke-width="0.3">0.04</text>
<text transform="translate(551.4,284.2) scale(0.94,1)" font-size="10.6" font-weight="bold" text-anchor="end" stroke="#000" stroke-width="0.3">0.06</text>
<text transform="translate(557.7,387.6) scale(1.0,1)" font-size="9.8" font-weight="bold" text-anchor="middle" stroke="#000" stroke-width="0.3">0.0</text>
<text transform="translate(581,387.6) scale(1.0,1)" font-size="9.8" font-weight="bold" text-anchor="middle" stroke="#000" stroke-width="0.3">0.5</text>
<text transform="translate(604.3,387.6) scale(1.0,1)" font-size="9.8" font-weight="bold" text-anchor="middle" stroke="#000" stroke-width="0.3">1.0</text>
<text transform="translate(627.6,387.6) scale(1.0,1)" font-size="9.8" font-weight="bold" text-anchor="middle" stroke="#000" stroke-width="0.3">1.5</text>
<text transform="translate(650.9,387.6) scale(1.0,1)" font-size="9.8" font-weight="bold" text-anchor="middle" stroke="#000" stroke-width="0.3">2.0</text>
<text transform="translate(674.2,387.6) scale(1.0,1)" font-size="9.8" font-weight="bold" text-anchor="middle" stroke="#000" stroke-width="0.3">2.5</text>
<polyline points="557.7,373.3 558.87,366.11 560.03,359.84 561.2,354.33 562.36,349.44 563.53,345.08 564.69,341.16 565.86,337.63 567.02,334.42 568.19,331.5 569.35,328.82 570.52,326.36 571.68,324.1 572.85,322 574.01,320.06 575.18,318.25 576.34,316.56 577.5,314.99 578.67,313.51 579.84,312.13 581,310.82 582.17,309.6 583.33,308.44 584.5,307.34 585.66,306.31 586.83,305.32 587.99,304.39 589.16,303.5 590.32,302.66 591.49,301.85 592.65,301.08 593.82,300.35 594.98,299.65 596.15,298.98 597.31,298.33 598.48,297.72 599.64,297.13 600.81,296.56 601.97,296.01 603.13,295.48 604.3,294.98 605.47,294.49 606.63,294.02 607.8,293.57 608.96,293.13 610.12,292.71 611.29,292.3 612.46,291.9 613.62,291.52 614.79,291.15 615.95,290.79 617.12,290.45 618.28,290.11 619.45,289.78 620.61,289.47 621.78,289.16 622.94,288.86 624.11,288.57 625.27,288.29 626.44,288.01 627.6,287.75 628.77,287.49 629.93,287.23 631.1,286.99 632.26,286.75 633.43,286.51 634.59,286.28 635.76,286.06 636.92,285.85 638.09,285.63 639.25,285.43 640.42,285.23 641.58,285.03 642.75,284.84 643.91,284.65 645.08,284.46 646.24,284.28 647.41,284.11 648.57,283.94 649.74,283.77 650.9,283.6 652.07,283.44 653.23,283.29 654.4,283.13 655.56,282.98 656.73,282.83 657.89,282.69 659.06,282.54 660.22,282.4 661.38,282.27 662.55,282.13 663.72,282 664.88,281.87 666.05,281.75 667.21,281.62 668.38,281.5 669.54,281.38 670.71,281.26 671.87,281.15 673.04,281.03 674.2,280.92" fill="none" stroke="#2cc530" stroke-width="1.2"/>
<path d="M557.7,279.7 V373.3 H674.8" fill="none" stroke="#000" stroke-width="1.65"/>
<line x1="553.3" y1="373.3" x2="557.7" y2="373.3" stroke="#000" stroke-width="1.6"/>
<line x1="553.3" y1="342.3" x2="557.7" y2="342.3" stroke="#000" stroke-width="1.6"/>
<line x1="553.3" y1="311.3" x2="557.7" y2="311.3" stroke="#000" stroke-width="1.6"/>
<line x1="553.3" y1="280.3" x2="557.7" y2="280.3" stroke="#000" stroke-width="1.6"/>
<line x1="557.7" y1="373.3" x2="557.7" y2="377.7" stroke="#000" stroke-width="1.6"/>
<line x1="581" y1="373.3" x2="581" y2="377.7" stroke="#000" stroke-width="1.6"/>
<line x1="604.3" y1="373.3" x2="604.3" y2="377.7" stroke="#000" stroke-width="1.6"/>
<line x1="627.6" y1="373.3" x2="627.6" y2="377.7" stroke="#000" stroke-width="1.6"/>
<line x1="650.9" y1="373.3" x2="650.9" y2="377.7" stroke="#000" stroke-width="1.6"/>
<line x1="674.2" y1="373.3" x2="674.2" y2="377.7" stroke="#000" stroke-width="1.6"/>
<circle cx="557.7" cy="373.3" r="2.3" fill="#2cc530"/>
<path d="M560.03,368.19 V364.47 M558.63,364.47 H561.43 M558.63,368.19 H561.43" fill="none" stroke="#2cc530" stroke-width="0.8"/>
<circle cx="560.03" cy="366.32" r="2.3" fill="#2cc530"/>
<path d="M564.69,342.76 V341.53 M563.29,341.53 H566.09 M563.29,342.76 H566.09" fill="none" stroke="#2cc530" stroke-width="0.8"/>
<circle cx="564.69" cy="342.14" r="2.3" fill="#2cc530"/>
<path d="M576.34,315.49 V307.74 M574.94,307.74 H577.74 M574.94,315.49 H577.74" fill="none" stroke="#2cc530" stroke-width="0.8"/>
<circle cx="576.34" cy="311.61" r="2.3" fill="#2cc530"/>
<path d="M604.3,287.89 V286.66 M602.9,286.66 H605.7 M602.9,287.89 H605.7" fill="none" stroke="#2cc530" stroke-width="0.8"/>
<circle cx="604.3" cy="287.27" r="2.3" fill="#2cc530"/>
<path d="M674.2,287.89 V286.66 M672.8,286.66 H675.6 M672.8,287.89 H675.6" fill="none" stroke="#2cc530" stroke-width="0.8"/>
<circle cx="674.2" cy="287.27" r="2.3" fill="#2cc530"/>
<text x="590.7" y="337.8" font-size="8.9" font-weight="bold" class="k">BRET<tspan font-size="6.7" dy="2.2">max</tspan><tspan dy="-2.2"> = 0.0677</tspan></text>
<text x="590.7" y="349.0" font-size="8.9" font-weight="bold" class="k">BRET<tspan font-size="6.7" dy="2.2">50</tspan><tspan dy="-2.2"> = 0.3398</tspan></text>
<text x="615.9" y="405.0" font-size="11.5" font-weight="bold" class="k" text-anchor="middle">G&#945;<tspan font-size="8.4" dy="2.8">i3</tspan><tspan dy="-2.8">-YFP:PKD1-Nluc (&#956;g)</tspan></text>
<text transform="translate(527.2,324.5) rotate(-90)" font-size="11.6" font-weight="bold" class="k" text-anchor="middle">Net BRET</text>
<text x="1.6" y="439.9" font-size="16.5" font-weight="bold" fill="#000" text-anchor="start" >f</text>
<text transform="translate(38.6,558.8) scale(0.94,1)" font-size="10.6" font-weight="bold" text-anchor="end" stroke="#000" stroke-width="0.3">-0.02</text>
<text transform="translate(38.6,540.24) scale(0.94,1)" font-size="10.6" font-weight="bold" text-anchor="end" stroke="#000" stroke-width="0.3">0.00</text>
<text transform="translate(38.6,521.68) scale(0.94,1)" font-size="10.6" font-weight="bold" text-anchor="end" stroke="#000" stroke-width="0.3">0.02</text>
<text transform="translate(38.6,503.12) scale(0.94,1)" font-size="10.6" font-weight="bold" text-anchor="end" stroke="#000" stroke-width="0.3">0.04</text>
<text transform="translate(38.6,484.56) scale(0.94,1)" font-size="10.6" font-weight="bold" text-anchor="end" stroke="#000" stroke-width="0.3">0.06</text>
<text transform="translate(38.6,466) scale(0.94,1)" font-size="10.6" font-weight="bold" text-anchor="end" stroke="#000" stroke-width="0.3">0.08</text>
<text transform="translate(55.4,569.7) scale(1.0,1)" font-size="10.1" font-weight="bold" text-anchor="middle" stroke="#000" stroke-width="0.3">0</text>
<text transform="translate(90.65,569.7) scale(1.0,1)" font-size="10.1" font-weight="bold" text-anchor="middle" stroke="#000" stroke-width="0.3">3</text>
<text transform="translate(125.9,569.7) scale(1.0,1)" font-size="10.1" font-weight="bold" text-anchor="middle" stroke="#000" stroke-width="0.3">6</text>
<text transform="translate(161.15,569.7) scale(1.0,1)" font-size="10.1" font-weight="bold" text-anchor="middle" stroke="#000" stroke-width="0.3">9</text>
<path d="M44.9,461.5 V554.9 H161.75" fill="none" stroke="#000" stroke-width="1.65"/>
<line x1="40.5" y1="554.9" x2="44.9" y2="554.9" stroke="#000" stroke-width="1.6"/>
<line x1="40.5" y1="536.34" x2="44.9" y2="536.34" stroke="#000" stroke-width="1.6"/>
<line x1="40.5" y1="517.78" x2="44.9" y2="517.78" stroke="#000" stroke-width="1.6"/>
<line x1="40.5" y1="499.22" x2="44.9" y2="499.22" stroke="#000" stroke-width="1.6"/>
<line x1="40.5" y1="480.66" x2="44.9" y2="480.66" stroke="#000" stroke-width="1.6"/>
<line x1="40.5" y1="462.1" x2="44.9" y2="462.1" stroke="#000" stroke-width="1.6"/>
<line x1="55.4" y1="554.9" x2="55.4" y2="559.3" stroke="#000" stroke-width="1.6"/>
<line x1="90.65" y1="554.9" x2="90.65" y2="559.3" stroke="#000" stroke-width="1.6"/>
<line x1="125.9" y1="554.9" x2="125.9" y2="559.3" stroke="#000" stroke-width="1.6"/>
<line x1="161.15" y1="554.9" x2="161.15" y2="559.3" stroke="#000" stroke-width="1.6"/>
<line x1="55.4" y1="536.34" x2="161.15" y2="536.34" stroke="#222" stroke-width="1.0" stroke-dasharray="1.1,1.75"/>
<polyline points="46.59,535.04 48.35,536.55 50.11,536.7 51.87,538.31 53.64,536.35 55.4,536.58 57.16,538.53 58.92,537.73 60.69,537.57 62.45,539.78 64.21,539.51 65.97,538.9 67.74,534.53 69.5,532.07 71.26,540.85 73.02,537.36 74.79,532.46 76.55,531.22 78.31,529.51 80.07,532.09 81.84,532.91 83.6,537.97 85.36,536.47 87.12,526.6 88.89,533 90.65,535.3 92.41,534.32 94.17,536.37 95.94,535.68 97.7,536.26 99.46,535.72 101.22,536.13 102.99,535.46 104.75,535.05 106.51,538.84 108.27,536.58 110.04,533.93 111.8,529.99 113.56,537.89 115.32,537.2 117.09,538.08 118.85,539.1 120.61,537.52 122.37,537.13 124.14,535.68 125.9,538.84 127.66,536.95 129.42,537.33 131.19,540.35 132.95,539.96 134.71,537.65 136.47,537.86 138.24,537.56 140,538.52 141.76,538.86 143.52,539.41 145.29,537.93 147.05,541.12 148.81,540.22 150.57,539.57 152.34,542.63 154.1,538.48 155.86,541.74 157.62,540.81 159.39,537.64 161.15,542.21" fill="none" stroke="#7f7f86" stroke-width="1.9" stroke-linejoin="round"/>
<rect x="45.29" y="533.74" width="2.6" height="2.6" fill="#7f7f86"/>
<line x1="48.35" y1="538.73" x2="48.35" y2="534.38" stroke="#7f7f86" stroke-width="0.6"/>
<rect x="47.05" y="535.25" width="2.6" height="2.6" fill="#7f7f86"/>
<line x1="50.11" y1="538.2" x2="50.11" y2="535.2" stroke="#7f7f86" stroke-width="0.6"/>
<rect x="48.81" y="535.4" width="2.6" height="2.6" fill="#7f7f86"/>
<rect x="50.57" y="537.01" width="2.6" height="2.6" fill="#7f7f86"/>
<rect x="52.34" y="535.05" width="2.6" height="2.6" fill="#7f7f86"/>
<rect x="54.1" y="535.28" width="2.6" height="2.6" fill="#7f7f86"/>
<rect x="55.86" y="537.23" width="2.6" height="2.6" fill="#7f7f86"/>
<rect x="57.62" y="536.43" width="2.6" height="2.6" fill="#7f7f86"/>
<line x1="60.69" y1="539.44" x2="60.69" y2="535.7" stroke="#7f7f86" stroke-width="0.6"/>
<rect x="59.39" y="536.27" width="2.6" height="2.6" fill="#7f7f86"/>
<line x1="62.45" y1="541.19" x2="62.45" y2="538.36" stroke="#7f7f86" stroke-width="0.6"/>
<rect x="61.15" y="538.48" width="2.6" height="2.6" fill="#7f7f86"/>
<rect x="62.91" y="538.21" width="2.6" height="2.6" fill="#7f7f86"/>
<rect x="64.67" y="537.6" width="2.6" height="2.6" fill="#7f7f86"/>
<rect x="66.44" y="533.23" width="2.6" height="2.6" fill="#7f7f86"/>
<line x1="69.5" y1="534.73" x2="69.5" y2="529.42" stroke="#7f7f86" stroke-width="0.6"/>
<rect x="68.2" y="530.77" width="2.6" height="2.6" fill="#7f7f86"/>
<rect x="69.96" y="539.55" width="2.6" height="2.6" fill="#7f7f86"/>
<line x1="73.02" y1="539.9" x2="73.02" y2="534.82" stroke="#7f7f86" stroke-width="0.6"/>
<rect x="71.72" y="536.06" width="2.6" height="2.6" fill="#7f7f86"/>
<line x1="74.79" y1="533.69" x2="74.79" y2="531.24" stroke="#7f7f86" stroke-width="0.6"/>
<rect x="73.49" y="531.16" width="2.6" height="2.6" fill="#7f7f86"/>
<line x1="76.55" y1="533.79" x2="76.55" y2="528.65" stroke="#7f7f86" stroke-width="0.6"/>
<rect x="75.25" y="529.92" width="2.6" height="2.6" fill="#7f7f86"/>
<line x1="78.31" y1="530.99" x2="78.31" y2="528.03" stroke="#7f7f86" stroke-width="0.6"/>
<rect x="77.01" y="528.21" width="2.6" height="2.6" fill="#7f7f86"/>
<rect x="78.77" y="530.79" width="2.6" height="2.6" fill="#7f7f86"/>
<rect x="80.54" y="531.61" width="2.6" height="2.6" fill="#7f7f86"/>
<line x1="83.6" y1="539.13" x2="83.6" y2="536.82" stroke="#7f7f86" stroke-width="0.6"/>
<rect x="82.3" y="536.67" width="2.6" height="2.6" fill="#7f7f86"/>
<line x1="85.36" y1="537.68" x2="85.36" y2="535.27" stroke="#7f7f86" stroke-width="0.6"/>
<rect x="84.06" y="535.17" width="2.6" height="2.6" fill="#7f7f86"/>
<rect x="85.82" y="525.3" width="2.6" height="2.6" fill="#7f7f86"/>
<rect x="87.59" y="531.7" width="2.6" height="2.6" fill="#7f7f86"/>
<rect x="89.35" y="534" width="2.6" height="2.6" fill="#7f7f86"/>
<line x1="92.41" y1="536.12" x2="92.41" y2="532.53" stroke="#7f7f86" stroke-width="0.6"/>
<rect x="91.11" y="533.02" width="2.6" height="2.6" fill="#7f7f86"/>
<line x1="94.17" y1="537.71" x2="94.17" y2="535.02" stroke="#7f7f86" stroke-width="0.6"/>
<rect x="92.87" y="535.07" width="2.6" height="2.6" fill="#7f7f86"/>
<rect x="94.64" y="534.38" width="2.6" height="2.6" fill="#7f7f86"/>
<rect x="96.4" y="534.96" width="2.6" height="2.6" fill="#7f7f86"/>
<line x1="99.46" y1="536.91" x2="99.46" y2="534.52" stroke="#7f7f86" stroke-width="0.6"/>
<rect x="98.16" y="534.42" width="2.6" height="2.6" fill="#7f7f86"/>
<line x1="101.22" y1="537.89" x2="101.22" y2="534.37" stroke="#7f7f86" stroke-width="0.6"/>
<rect x="99.92" y="534.83" width="2.6" height="2.6" fill="#7f7f86"/>
<line x1="102.99" y1="537.01" x2="102.99" y2="533.9" stroke="#7f7f86" stroke-width="0.6"/>
<rect x="101.69" y="534.16" width="2.6" height="2.6" fill="#7f7f86"/>
<rect x="103.45" y="533.75" width="2.6" height="2.6" fill="#7f7f86"/>
<line x1="106.51" y1="540.06" x2="106.51" y2="537.62" stroke="#7f7f86" stroke-width="0.6"/>
<rect x="105.21" y="537.54" width="2.6" height="2.6" fill="#7f7f86"/>
<rect x="106.97" y="535.28" width="2.6" height="2.6" fill="#7f7f86"/>
<line x1="110.04" y1="536.21" x2="110.04" y2="531.65" stroke="#7f7f86" stroke-width="0.6"/>
<rect x="108.74" y="532.63" width="2.6" height="2.6" fill="#7f7f86"/>
<rect x="110.5" y="528.69" width="2.6" height="2.6" fill="#7f7f86"/>
<line x1="113.56" y1="539.03" x2="113.56" y2="536.76" stroke="#7f7f86" stroke-width="0.6"/>
<rect x="112.26" y="536.59" width="2.6" height="2.6" fill="#7f7f86"/>
<rect x="114.02" y="535.9" width="2.6" height="2.6" fill="#7f7f86"/>
<rect x="115.79" y="536.78" width="2.6" height="2.6" fill="#7f7f86"/>
<line x1="118.85" y1="541.59" x2="118.85" y2="536.6" stroke="#7f7f86" stroke-width="0.6"/>
<rect x="117.55" y="537.8" width="2.6" height="2.6" fill="#7f7f86"/>
<line x1="120.61" y1="540.59" x2="120.61" y2="534.46" stroke="#7f7f86" stroke-width="0.6"/>
<rect x="119.31" y="536.22" width="2.6" height="2.6" fill="#7f7f86"/>
<rect x="121.07" y="535.83" width="2.6" height="2.6" fill="#7f7f86"/>
<line x1="124.14" y1="538.37" x2="124.14" y2="532.99" stroke="#7f7f86" stroke-width="0.6"/>
<rect x="122.84" y="534.38" width="2.6" height="2.6" fill="#7f7f86"/>
<line x1="125.9" y1="541.62" x2="125.9" y2="536.07" stroke="#7f7f86" stroke-width="0.6"/>
<rect x="124.6" y="537.54" width="2.6" height="2.6" fill="#7f7f86"/>
<line x1="127.66" y1="539.8" x2="127.66" y2="534.09" stroke="#7f7f86" stroke-width="0.6"/>
<rect x="126.36" y="535.65" width="2.6" height="2.6" fill="#7f7f86"/>
<line x1="129.42" y1="538.53" x2="129.42" y2="536.12" stroke="#7f7f86" stroke-width="0.6"/>
<rect x="128.12" y="536.03" width="2.6" height="2.6" fill="#7f7f86"/>
<rect x="129.89" y="539.05" width="2.6" height="2.6" fill="#7f7f86"/>
<rect x="131.65" y="538.66" width="2.6" height="2.6" fill="#7f7f86"/>
<rect x="133.41" y="536.35" width="2.6" height="2.6" fill="#7f7f86"/>
<rect x="135.17" y="536.56" width="2.6" height="2.6" fill="#7f7f86"/>
<rect x="136.94" y="536.26" width="2.6" height="2.6" fill="#7f7f86"/>
<rect x="138.7" y="537.22" width="2.6" height="2.6" fill="#7f7f86"/>
<line x1="141.76" y1="540.99" x2="141.76" y2="536.73" stroke="#7f7f86" stroke-width="0.6"/>
<rect x="140.46" y="537.56" width="2.6" height="2.6" fill="#7f7f86"/>
<rect x="142.22" y="538.11" width="2.6" height="2.6" fill="#7f7f86"/>
<rect x="143.99" y="536.63" width="2.6" height="2.6" fill="#7f7f86"/>
<line x1="147.05" y1="543.67" x2="147.05" y2="538.57" stroke="#7f7f86" stroke-width="0.6"/>
<rect x="145.75" y="539.82" width="2.6" height="2.6" fill="#7f7f86"/>
<line x1="148.81" y1="541.79" x2="148.81" y2="538.64" stroke="#7f7f86" stroke-width="0.6"/>
<rect x="147.51" y="538.92" width="2.6" height="2.6" fill="#7f7f86"/>
<rect x="149.27" y="538.27" width="2.6" height="2.6" fill="#7f7f86"/>
<rect x="151.04" y="541.33" width="2.6" height="2.6" fill="#7f7f86"/>
<rect x="152.8" y="537.18" width="2.6" height="2.6" fill="#7f7f86"/>
<line x1="155.86" y1="544.05" x2="155.86" y2="539.43" stroke="#7f7f86" stroke-width="0.6"/>
<rect x="154.56" y="540.44" width="2.6" height="2.6" fill="#7f7f86"/>
<rect x="156.32" y="539.51" width="2.6" height="2.6" fill="#7f7f86"/>
<rect x="158.09" y="536.34" width="2.6" height="2.6" fill="#7f7f86"/>
<rect x="159.85" y="540.91" width="2.6" height="2.6" fill="#7f7f86"/>
<polyline points="46.59,536.32 48.35,537.59 50.11,533.92 51.87,535.84 53.64,535.91 55.4,532.09 57.16,533.22 58.92,529.94 60.69,524.26 62.45,523.73 64.21,524.77 65.97,523.31 67.74,518.92 69.5,517.5 71.26,523.67 73.02,515.57 74.79,520.42 76.55,518.39 78.31,517.07 80.07,520.66 81.84,521.14 83.6,524.57 85.36,523.39 87.12,520.25 88.89,523.68 90.65,528.38 92.41,520.48 94.17,528.25 95.94,523.65 97.7,520.3 99.46,525.4 101.22,529.37 102.99,523.09 104.75,522.36 106.51,521.82 108.27,523.2 110.04,526.21 111.8,527.27 113.56,529.39 115.32,525.28 117.09,524.46 118.85,526.45 120.61,528.72 122.37,524.08 124.14,520.81 125.9,526.68 127.66,531 129.42,523.53 131.19,528.46 132.95,528.77 134.71,526.91 136.47,526.53 138.24,527.5 140,531.62 141.76,530.94 143.52,528.34 145.29,528.86 147.05,523.98 148.81,529.71 150.57,530.42 152.34,527.41 154.1,530.57 155.86,529.23 157.62,527.88 159.39,529.09 161.15,526.78" fill="none" stroke="#3aa6e6" stroke-width="1.4" stroke-linejoin="round"/>
<circle cx="46.59" cy="536.32" r="1.45" fill="#3aa6e6"/>
<circle cx="48.35" cy="537.59" r="1.45" fill="#3aa6e6"/>
<line x1="50.11" y1="536.14" x2="50.11" y2="531.7" stroke="#3aa6e6" stroke-width="0.6"/>
<circle cx="50.11" cy="533.92" r="1.45" fill="#3aa6e6"/>
<line x1="51.87" y1="538.21" x2="51.87" y2="533.47" stroke="#3aa6e6" stroke-width="0.6"/>
<circle cx="51.87" cy="535.84" r="1.45" fill="#3aa6e6"/>
<line x1="53.64" y1="538.12" x2="53.64" y2="533.69" stroke="#3aa6e6" stroke-width="0.6"/>
<circle cx="53.64" cy="535.91" r="1.45" fill="#3aa6e6"/>
<circle cx="55.4" cy="532.09" r="1.45" fill="#3aa6e6"/>
<line x1="57.16" y1="534.83" x2="57.16" y2="531.6" stroke="#3aa6e6" stroke-width="0.6"/>
<circle cx="57.16" cy="533.22" r="1.45" fill="#3aa6e6"/>
<line x1="58.92" y1="531.86" x2="58.92" y2="528.02" stroke="#3aa6e6" stroke-width="0.6"/>
<circle cx="58.92" cy="529.94" r="1.45" fill="#3aa6e6"/>
<line x1="60.69" y1="525.55" x2="60.69" y2="522.98" stroke="#3aa6e6" stroke-width="0.6"/>
<circle cx="60.69" cy="524.26" r="1.45" fill="#3aa6e6"/>
<line x1="62.45" y1="525.53" x2="62.45" y2="521.92" stroke="#3aa6e6" stroke-width="0.6"/>
<circle cx="62.45" cy="523.73" r="1.45" fill="#3aa6e6"/>
<line x1="64.21" y1="526.66" x2="64.21" y2="522.87" stroke="#3aa6e6" stroke-width="0.6"/>
<circle cx="64.21" cy="524.77" r="1.45" fill="#3aa6e6"/>
<line x1="65.97" y1="524.89" x2="65.97" y2="521.73" stroke="#3aa6e6" stroke-width="0.6"/>
<circle cx="65.97" cy="523.31" r="1.45" fill="#3aa6e6"/>
<circle cx="67.74" cy="518.92" r="1.45" fill="#3aa6e6"/>
<line x1="69.5" y1="519.27" x2="69.5" y2="515.74" stroke="#3aa6e6" stroke-width="0.6"/>
<circle cx="69.5" cy="517.5" r="1.45" fill="#3aa6e6"/>
<line x1="71.26" y1="525.8" x2="71.26" y2="521.54" stroke="#3aa6e6" stroke-width="0.6"/>
<circle cx="71.26" cy="523.67" r="1.45" fill="#3aa6e6"/>
<circle cx="73.02" cy="515.57" r="1.45" fill="#3aa6e6"/>
<line x1="74.79" y1="523.17" x2="74.79" y2="517.68" stroke="#3aa6e6" stroke-width="0.6"/>
<circle cx="74.79" cy="520.42" r="1.45" fill="#3aa6e6"/>
<circle cx="76.55" cy="518.39" r="1.45" fill="#3aa6e6"/>
<circle cx="78.31" cy="517.07" r="1.45" fill="#3aa6e6"/>
<circle cx="80.07" cy="520.66" r="1.45" fill="#3aa6e6"/>
<circle cx="81.84" cy="521.14" r="1.45" fill="#3aa6e6"/>
<line x1="83.6" y1="527.07" x2="83.6" y2="522.07" stroke="#3aa6e6" stroke-width="0.6"/>
<circle cx="83.6" cy="524.57" r="1.45" fill="#3aa6e6"/>
<circle cx="85.36" cy="523.39" r="1.45" fill="#3aa6e6"/>
<line x1="87.12" y1="523.13" x2="87.12" y2="517.37" stroke="#3aa6e6" stroke-width="0.6"/>
<circle cx="87.12" cy="520.25" r="1.45" fill="#3aa6e6"/>
<circle cx="88.89" cy="523.68" r="1.45" fill="#3aa6e6"/>
<circle cx="90.65" cy="528.38" r="1.45" fill="#3aa6e6"/>
<circle cx="92.41" cy="520.48" r="1.45" fill="#3aa6e6"/>
<line x1="94.17" y1="530.44" x2="94.17" y2="526.07" stroke="#3aa6e6" stroke-width="0.6"/>
<circle cx="94.17" cy="528.25" r="1.45" fill="#3aa6e6"/>
<line x1="95.94" y1="526.94" x2="95.94" y2="520.36" stroke="#3aa6e6" stroke-width="0.6"/>
<circle cx="95.94" cy="523.65" r="1.45" fill="#3aa6e6"/>
<circle cx="97.7" cy="520.3" r="1.45" fill="#3aa6e6"/>
<circle cx="99.46" cy="525.4" r="1.45" fill="#3aa6e6"/>
<circle cx="101.22" cy="529.37" r="1.45" fill="#3aa6e6"/>
<circle cx="102.99" cy="523.09" r="1.45" fill="#3aa6e6"/>
<line x1="104.75" y1="523.89" x2="104.75" y2="520.83" stroke="#3aa6e6" stroke-width="0.6"/>
<circle cx="104.75" cy="522.36" r="1.45" fill="#3aa6e6"/>
<circle cx="106.51" cy="521.82" r="1.45" fill="#3aa6e6"/>
<circle cx="108.27" cy="523.2" r="1.45" fill="#3aa6e6"/>
<line x1="110.04" y1="527.58" x2="110.04" y2="524.84" stroke="#3aa6e6" stroke-width="0.6"/>
<circle cx="110.04" cy="526.21" r="1.45" fill="#3aa6e6"/>
<circle cx="111.8" cy="527.27" r="1.45" fill="#3aa6e6"/>
<circle cx="113.56" cy="529.39" r="1.45" fill="#3aa6e6"/>
<circle cx="115.32" cy="525.28" r="1.45" fill="#3aa6e6"/>
<line x1="117.09" y1="525.92" x2="117.09" y2="523.01" stroke="#3aa6e6" stroke-width="0.6"/>
<circle cx="117.09" cy="524.46" r="1.45" fill="#3aa6e6"/>
<circle cx="118.85" cy="526.45" r="1.45" fill="#3aa6e6"/>
<line x1="120.61" y1="530.55" x2="120.61" y2="526.89" stroke="#3aa6e6" stroke-width="0.6"/>
<circle cx="120.61" cy="528.72" r="1.45" fill="#3aa6e6"/>
<line x1="122.37" y1="525.72" x2="122.37" y2="522.45" stroke="#3aa6e6" stroke-width="0.6"/>
<circle cx="122.37" cy="524.08" r="1.45" fill="#3aa6e6"/>
<circle cx="124.14" cy="520.81" r="1.45" fill="#3aa6e6"/>
<circle cx="125.9" cy="526.68" r="1.45" fill="#3aa6e6"/>
<line x1="127.66" y1="532.32" x2="127.66" y2="529.68" stroke="#3aa6e6" stroke-width="0.6"/>
<circle cx="127.66" cy="531" r="1.45" fill="#3aa6e6"/>
<line x1="129.42" y1="524.65" x2="129.42" y2="522.41" stroke="#3aa6e6" stroke-width="0.6"/>
<circle cx="129.42" cy="523.53" r="1.45" fill="#3aa6e6"/>
<line x1="131.19" y1="529.58" x2="131.19" y2="527.34" stroke="#3aa6e6" stroke-width="0.6"/>
<circle cx="131.19" cy="528.46" r="1.45" fill="#3aa6e6"/>
<circle cx="132.95" cy="528.77" r="1.45" fill="#3aa6e6"/>
<line x1="134.71" y1="528.14" x2="134.71" y2="525.68" stroke="#3aa6e6" stroke-width="0.6"/>
<circle cx="134.71" cy="526.91" r="1.45" fill="#3aa6e6"/>
<circle cx="136.47" cy="526.53" r="1.45" fill="#3aa6e6"/>
<circle cx="138.24" cy="527.5" r="1.45" fill="#3aa6e6"/>
<circle cx="140" cy="531.62" r="1.45" fill="#3aa6e6"/>
<circle cx="141.76" cy="530.94" r="1.45" fill="#3aa6e6"/>
<line x1="143.52" y1="530.35" x2="143.52" y2="526.33" stroke="#3aa6e6" stroke-width="0.6"/>
<circle cx="143.52" cy="528.34" r="1.45" fill="#3aa6e6"/>
<line x1="145.29" y1="531.1" x2="145.29" y2="526.62" stroke="#3aa6e6" stroke-width="0.6"/>
<circle cx="145.29" cy="528.86" r="1.45" fill="#3aa6e6"/>
<circle cx="147.05" cy="523.98" r="1.45" fill="#3aa6e6"/>
<circle cx="148.81" cy="529.71" r="1.45" fill="#3aa6e6"/>
<circle cx="150.57" cy="530.42" r="1.45" fill="#3aa6e6"/>
<circle cx="152.34" cy="527.41" r="1.45" fill="#3aa6e6"/>
<line x1="154.1" y1="532.71" x2="154.1" y2="528.43" stroke="#3aa6e6" stroke-width="0.6"/>
<circle cx="154.1" cy="530.57" r="1.45" fill="#3aa6e6"/>
<circle cx="155.86" cy="529.23" r="1.45" fill="#3aa6e6"/>
<line x1="157.62" y1="529.64" x2="157.62" y2="526.13" stroke="#3aa6e6" stroke-width="0.6"/>
<circle cx="157.62" cy="527.88" r="1.45" fill="#3aa6e6"/>
<line x1="159.39" y1="531.57" x2="159.39" y2="526.62" stroke="#3aa6e6" stroke-width="0.6"/>
<circle cx="159.39" cy="529.09" r="1.45" fill="#3aa6e6"/>
<circle cx="161.15" cy="526.78" r="1.45" fill="#3aa6e6"/>
<text x="102.9" y="454.1" font-size="11.8" font-weight="bold" class="k" text-anchor="middle">G&#945;<tspan font-size="8.4" dy="2.8">q</tspan><tspan dy="-2.8">-YFP</tspan></text>
<line x1="53.1" y1="471.3" x2="62.9" y2="471.3" stroke="#7f7f86" stroke-width="1.1"/>
<rect x="56.7" y="470" width="2.6" height="2.6" fill="#7f7f86"/>
<text x="68.7" y="474.4" font-size="9.2" font-weight="bold" class="k">Vehicle</text>
<line x1="109.9" y1="471.3" x2="120" y2="471.3" stroke="#3aa6e6" stroke-width="1.1"/>
<circle cx="114.95" cy="471.3" r="1.5" fill="#3aa6e6"/>
<text x="125.4" y="474.4" font-size="9.2" font-weight="bold" class="k">WNT-9B</text>
<text x="103.4" y="585.6" font-size="11.6" font-weight="bold" class="k" text-anchor="middle">Time (min)</text>
<text transform="translate(10.9,506.3) rotate(-90)" font-size="11.5" font-weight="bold" class="k" text-anchor="middle">Normalized BRET</text>
<text x="172.7" y="439.9" font-size="16.5" font-weight="bold" fill="#000" text-anchor="start" >g</text>
<text transform="translate(209.5,558.8) scale(0.94,1)" font-size="10.6" font-weight="bold" text-anchor="end" stroke="#000" stroke-width="0.3">-0.02</text>
<text transform="translate(209.5,540.24) scale(0.94,1)" font-size="10.6" font-weight="bold" text-anchor="end" stroke="#000" stroke-width="0.3">0.00</text>
<text transform="translate(209.5,521.68) scale(0.94,1)" font-size="10.6" font-weight="bold" text-anchor="end" stroke="#000" stroke-width="0.3">0.02</text>
<text transform="translate(209.5,503.12) scale(0.94,1)" font-size="10.6" font-weight="bold" text-anchor="end" stroke="#000" stroke-width="0.3">0.04</text>
<text transform="translate(209.5,484.56) scale(0.94,1)" font-size="10.6" font-weight="bold" text-anchor="end" stroke="#000" stroke-width="0.3">0.06</text>
<text transform="translate(209.5,466) scale(0.94,1)" font-size="10.6" font-weight="bold" text-anchor="end" stroke="#000" stroke-width="0.3">0.08</text>
<text transform="translate(226.3,569.7) scale(1.0,1)" font-size="10.1" font-weight="bold" text-anchor="middle" stroke="#000" stroke-width="0.3">0</text>
<text transform="translate(261.55,569.7) scale(1.0,1)" font-size="10.1" font-weight="bold" text-anchor="middle" stroke="#000" stroke-width="0.3">3</text>
<text transform="translate(296.8,569.7) scale(1.0,1)" font-size="10.1" font-weight="bold" text-anchor="middle" stroke="#000" stroke-width="0.3">6</text>
<text transform="translate(332.05,569.7) scale(1.0,1)" font-size="10.1" font-weight="bold" text-anchor="middle" stroke="#000" stroke-width="0.3">9</text>
<path d="M215.8,461.5 V554.9 H332.65" fill="none" stroke="#000" stroke-width="1.65"/>
<line x1="211.4" y1="554.9" x2="215.8" y2="554.9" stroke="#000" stroke-width="1.6"/>
<line x1="211.4" y1="536.34" x2="215.8" y2="536.34" stroke="#000" stroke-width="1.6"/>
<line x1="211.4" y1="517.78" x2="215.8" y2="517.78" stroke="#000" stroke-width="1.6"/>
<line x1="211.4" y1="499.22" x2="215.8" y2="499.22" stroke="#000" stroke-width="1.6"/>
<line x1="211.4" y1="480.66" x2="215.8" y2="480.66" stroke="#000" stroke-width="1.6"/>
<line x1="211.4" y1="462.1" x2="215.8" y2="462.1" stroke="#000" stroke-width="1.6"/>
<line x1="226.3" y1="554.9" x2="226.3" y2="559.3" stroke="#000" stroke-width="1.6"/>
<line x1="261.55" y1="554.9" x2="261.55" y2="559.3" stroke="#000" stroke-width="1.6"/>
<line x1="296.8" y1="554.9" x2="296.8" y2="559.3" stroke="#000" stroke-width="1.6"/>
<line x1="332.05" y1="554.9" x2="332.05" y2="559.3" stroke="#000" stroke-width="1.6"/>
<line x1="226.3" y1="536.34" x2="332.05" y2="536.34" stroke="#222" stroke-width="1.0" stroke-dasharray="1.1,1.75"/>
<polyline points="217.49,536.34 219.25,537.4 221.01,537.11 222.77,538.68 224.54,537.4 226.3,539.19 228.06,535.34 229.82,534.58 231.59,536.72 233.35,530.98 235.11,532.01 236.87,530.62 238.64,529.81 240.4,532.81 242.16,529.52 243.92,531.5 245.69,530.1 247.45,532.68 249.21,532.91 250.97,530.08 252.74,531.4 254.5,532.94 256.26,533.16 258.02,533.78 259.79,536.44 261.55,538.29 263.31,538.79 265.07,540.12 266.84,540.74 268.6,538.19 270.36,537.53 272.12,536.39 273.89,536.06 275.65,536.84 277.41,533.36 279.17,539.03 280.94,540.42 282.7,540.05 284.46,539.08 286.22,540 287.99,539.87 289.75,539.26 291.51,537.39 293.27,538.71 295.04,539.56 296.8,539.88 298.56,539.27 300.32,535.98 302.09,542.63 303.85,537.5 305.61,539.75 307.37,540.78 309.14,543.4 310.9,539.16 312.66,540.61 314.42,541.97 316.19,541.61 317.95,542.65 319.71,541.56 321.47,541.72 323.24,540.22 325,540.89 326.76,541.37 328.52,540.28 330.29,540.35 332.05,540.69" fill="none" stroke="#7f7f86" stroke-width="1.9" stroke-linejoin="round"/>
<line x1="217.49" y1="538.47" x2="217.49" y2="534.21" stroke="#7f7f86" stroke-width="0.6"/>
<rect x="216.19" y="535.04" width="2.6" height="2.6" fill="#7f7f86"/>
<line x1="219.25" y1="538.83" x2="219.25" y2="535.97" stroke="#7f7f86" stroke-width="0.6"/>
<rect x="217.95" y="536.1" width="2.6" height="2.6" fill="#7f7f86"/>
<line x1="221.01" y1="538.73" x2="221.01" y2="535.49" stroke="#7f7f86" stroke-width="0.6"/>
<rect x="219.71" y="535.81" width="2.6" height="2.6" fill="#7f7f86"/>
<line x1="222.77" y1="540.09" x2="222.77" y2="537.28" stroke="#7f7f86" stroke-width="0.6"/>
<rect x="221.47" y="537.38" width="2.6" height="2.6" fill="#7f7f86"/>
<rect x="223.24" y="536.1" width="2.6" height="2.6" fill="#7f7f86"/>
<rect x="225" y="537.89" width="2.6" height="2.6" fill="#7f7f86"/>
<line x1="228.06" y1="537.3" x2="228.06" y2="533.39" stroke="#7f7f86" stroke-width="0.6"/>
<rect x="226.76" y="534.04" width="2.6" height="2.6" fill="#7f7f86"/>
<line x1="229.82" y1="536.92" x2="229.82" y2="532.23" stroke="#7f7f86" stroke-width="0.6"/>
<rect x="228.52" y="533.28" width="2.6" height="2.6" fill="#7f7f86"/>
<line x1="231.59" y1="538.77" x2="231.59" y2="534.67" stroke="#7f7f86" stroke-width="0.6"/>
<rect x="230.29" y="535.42" width="2.6" height="2.6" fill="#7f7f86"/>
<line x1="233.35" y1="533.26" x2="233.35" y2="528.71" stroke="#7f7f86" stroke-width="0.6"/>
<rect x="232.05" y="529.68" width="2.6" height="2.6" fill="#7f7f86"/>
<rect x="233.81" y="530.71" width="2.6" height="2.6" fill="#7f7f86"/>
<rect x="235.57" y="529.32" width="2.6" height="2.6" fill="#7f7f86"/>
<rect x="237.34" y="528.51" width="2.6" height="2.6" fill="#7f7f86"/>
<rect x="239.1" y="531.51" width="2.6" height="2.6" fill="#7f7f86"/>
<line x1="242.16" y1="531.38" x2="242.16" y2="527.65" stroke="#7f7f86" stroke-width="0.6"/>
<rect x="240.86" y="528.22" width="2.6" height="2.6" fill="#7f7f86"/>
<line x1="243.92" y1="533.85" x2="243.92" y2="529.15" stroke="#7f7f86" stroke-width="0.6"/>
<rect x="242.62" y="530.2" width="2.6" height="2.6" fill="#7f7f86"/>
<rect x="244.39" y="528.8" width="2.6" height="2.6" fill="#7f7f86"/>
<rect x="246.15" y="531.38" width="2.6" height="2.6" fill="#7f7f86"/>
<line x1="249.21" y1="535.45" x2="249.21" y2="530.36" stroke="#7f7f86" stroke-width="0.6"/>
<rect x="247.91" y="531.61" width="2.6" height="2.6" fill="#7f7f86"/>
<line x1="250.97" y1="531.47" x2="250.97" y2="528.68" stroke="#7f7f86" stroke-width="0.6"/>
<rect x="249.67" y="528.78" width="2.6" height="2.6" fill="#7f7f86"/>
<line x1="252.74" y1="534.32" x2="252.74" y2="528.49" stroke="#7f7f86" stroke-width="0.6"/>
<rect x="251.44" y="530.1" width="2.6" height="2.6" fill="#7f7f86"/>
<rect x="253.2" y="531.64" width="2.6" height="2.6" fill="#7f7f86"/>
<rect x="254.96" y="531.86" width="2.6" height="2.6" fill="#7f7f86"/>
<rect x="256.72" y="532.48" width="2.6" height="2.6" fill="#7f7f86"/>
<rect x="258.49" y="535.14" width="2.6" height="2.6" fill="#7f7f86"/>
<line x1="261.55" y1="540.04" x2="261.55" y2="536.53" stroke="#7f7f86" stroke-width="0.6"/>
<rect x="260.25" y="536.99" width="2.6" height="2.6" fill="#7f7f86"/>
<rect x="262.01" y="537.49" width="2.6" height="2.6" fill="#7f7f86"/>
<line x1="265.07" y1="541.24" x2="265.07" y2="539" stroke="#7f7f86" stroke-width="0.6"/>
<rect x="263.77" y="538.82" width="2.6" height="2.6" fill="#7f7f86"/>
<rect x="265.54" y="539.44" width="2.6" height="2.6" fill="#7f7f86"/>
<line x1="268.6" y1="539.54" x2="268.6" y2="536.84" stroke="#7f7f86" stroke-width="0.6"/>
<rect x="267.3" y="536.89" width="2.6" height="2.6" fill="#7f7f86"/>
<line x1="270.36" y1="538.75" x2="270.36" y2="536.32" stroke="#7f7f86" stroke-width="0.6"/>
<rect x="269.06" y="536.23" width="2.6" height="2.6" fill="#7f7f86"/>
<line x1="272.12" y1="538.4" x2="272.12" y2="534.38" stroke="#7f7f86" stroke-width="0.6"/>
<rect x="270.82" y="535.09" width="2.6" height="2.6" fill="#7f7f86"/>
<rect x="272.59" y="534.76" width="2.6" height="2.6" fill="#7f7f86"/>
<rect x="274.35" y="535.54" width="2.6" height="2.6" fill="#7f7f86"/>
<line x1="277.41" y1="535.26" x2="277.41" y2="531.46" stroke="#7f7f86" stroke-width="0.6"/>
<rect x="276.11" y="532.06" width="2.6" height="2.6" fill="#7f7f86"/>
<line x1="279.17" y1="540.69" x2="279.17" y2="537.37" stroke="#7f7f86" stroke-width="0.6"/>
<rect x="277.87" y="537.73" width="2.6" height="2.6" fill="#7f7f86"/>
<rect x="279.64" y="539.12" width="2.6" height="2.6" fill="#7f7f86"/>
<rect x="281.4" y="538.75" width="2.6" height="2.6" fill="#7f7f86"/>
<rect x="283.16" y="537.78" width="2.6" height="2.6" fill="#7f7f86"/>
<rect x="284.92" y="538.7" width="2.6" height="2.6" fill="#7f7f86"/>
<line x1="287.99" y1="541.4" x2="287.99" y2="538.33" stroke="#7f7f86" stroke-width="0.6"/>
<rect x="286.69" y="538.57" width="2.6" height="2.6" fill="#7f7f86"/>
<rect x="288.45" y="537.96" width="2.6" height="2.6" fill="#7f7f86"/>
<line x1="291.51" y1="541.62" x2="291.51" y2="533.15" stroke="#7f7f86" stroke-width="0.6"/>
<rect x="290.21" y="536.09" width="2.6" height="2.6" fill="#7f7f86"/>
<rect x="291.97" y="537.41" width="2.6" height="2.6" fill="#7f7f86"/>
<line x1="295.04" y1="541.66" x2="295.04" y2="537.47" stroke="#7f7f86" stroke-width="0.6"/>
<rect x="293.74" y="538.26" width="2.6" height="2.6" fill="#7f7f86"/>
<rect x="295.5" y="538.58" width="2.6" height="2.6" fill="#7f7f86"/>
<line x1="298.56" y1="541.17" x2="298.56" y2="537.37" stroke="#7f7f86" stroke-width="0.6"/>
<rect x="297.26" y="537.97" width="2.6" height="2.6" fill="#7f7f86"/>
<line x1="300.32" y1="537.69" x2="300.32" y2="534.26" stroke="#7f7f86" stroke-width="0.6"/>
<rect x="299.02" y="534.68" width="2.6" height="2.6" fill="#7f7f86"/>
<rect x="300.79" y="541.33" width="2.6" height="2.6" fill="#7f7f86"/>
<rect x="302.55" y="536.2" width="2.6" height="2.6" fill="#7f7f86"/>
<line x1="305.61" y1="541.67" x2="305.61" y2="537.83" stroke="#7f7f86" stroke-width="0.6"/>
<rect x="304.31" y="538.45" width="2.6" height="2.6" fill="#7f7f86"/>
<line x1="307.37" y1="542.13" x2="307.37" y2="539.44" stroke="#7f7f86" stroke-width="0.6"/>
<rect x="306.07" y="539.48" width="2.6" height="2.6" fill="#7f7f86"/>
<line x1="309.14" y1="545.19" x2="309.14" y2="541.61" stroke="#7f7f86" stroke-width="0.6"/>
<rect x="307.84" y="542.1" width="2.6" height="2.6" fill="#7f7f86"/>
<line x1="310.9" y1="540.94" x2="310.9" y2="537.39" stroke="#7f7f86" stroke-width="0.6"/>
<rect x="309.6" y="537.86" width="2.6" height="2.6" fill="#7f7f86"/>
<line x1="312.66" y1="542.73" x2="312.66" y2="538.49" stroke="#7f7f86" stroke-width="0.6"/>
<rect x="311.36" y="539.31" width="2.6" height="2.6" fill="#7f7f86"/>
<line x1="314.42" y1="544.01" x2="314.42" y2="539.94" stroke="#7f7f86" stroke-width="0.6"/>
<rect x="313.12" y="540.67" width="2.6" height="2.6" fill="#7f7f86"/>
<rect x="314.89" y="540.31" width="2.6" height="2.6" fill="#7f7f86"/>
<rect x="316.65" y="541.35" width="2.6" height="2.6" fill="#7f7f86"/>
<rect x="318.41" y="540.26" width="2.6" height="2.6" fill="#7f7f86"/>
<rect x="320.17" y="540.42" width="2.6" height="2.6" fill="#7f7f86"/>
<rect x="321.94" y="538.92" width="2.6" height="2.6" fill="#7f7f86"/>
<line x1="325" y1="542.99" x2="325" y2="538.78" stroke="#7f7f86" stroke-width="0.6"/>
<rect x="323.7" y="539.59" width="2.6" height="2.6" fill="#7f7f86"/>
<rect x="325.46" y="540.07" width="2.6" height="2.6" fill="#7f7f86"/>
<rect x="327.22" y="538.98" width="2.6" height="2.6" fill="#7f7f86"/>
<line x1="330.29" y1="542.56" x2="330.29" y2="538.14" stroke="#7f7f86" stroke-width="0.6"/>
<rect x="328.99" y="539.05" width="2.6" height="2.6" fill="#7f7f86"/>
<line x1="332.05" y1="542.05" x2="332.05" y2="539.33" stroke="#7f7f86" stroke-width="0.6"/>
<rect x="330.75" y="539.39" width="2.6" height="2.6" fill="#7f7f86"/>
<polyline points="217.49,536.64 219.25,535.87 221.01,538.75 222.77,534.51 224.54,536.38 226.3,534.48 228.06,526.65 229.82,523.53 231.59,522.46 233.35,522.59 235.11,524.34 236.87,520.27 238.64,521.44 240.4,518.4 242.16,523.66 243.92,524.1 245.69,528.88 247.45,529.99 249.21,522.28 250.97,521.53 252.74,517.43 254.5,527.98 256.26,528.47 258.02,528.91 259.79,524.66 261.55,526.53 263.31,527.7 265.07,522.3 266.84,525.18 268.6,529.8 270.36,529.67 272.12,527.02 273.89,528.91 275.65,530.26 277.41,528.06 279.17,523.02 280.94,528.53 282.7,525.85 284.46,525.32 286.22,524.34 287.99,519.26 289.75,522.41 291.51,524.88 293.27,530.27 295.04,530.69 296.8,530.67 298.56,527.37 300.32,530.59 302.09,527.08 303.85,524.89 305.61,529.69 307.37,529.63 309.14,531.1 310.9,526.27 312.66,528.62 314.42,529.35 316.19,528.04 317.95,528.71 319.71,529.86 321.47,527.55 323.24,525.62 325,530.29 326.76,530.8 328.52,526.22 330.29,529.99 332.05,528.26" fill="none" stroke="#ff7f0a" stroke-width="1.4" stroke-linejoin="round"/>
<line x1="217.49" y1="537.98" x2="217.49" y2="535.31" stroke="#ff7f0a" stroke-width="0.6"/>
<circle cx="217.49" cy="536.64" r="1.45" fill="#ff7f0a"/>
<line x1="219.25" y1="538.09" x2="219.25" y2="533.64" stroke="#ff7f0a" stroke-width="0.6"/>
<circle cx="219.25" cy="535.87" r="1.45" fill="#ff7f0a"/>
<circle cx="221.01" cy="538.75" r="1.45" fill="#ff7f0a"/>
<circle cx="222.77" cy="534.51" r="1.45" fill="#ff7f0a"/>
<circle cx="224.54" cy="536.38" r="1.45" fill="#ff7f0a"/>
<line x1="226.3" y1="535.64" x2="226.3" y2="533.31" stroke="#ff7f0a" stroke-width="0.6"/>
<circle cx="226.3" cy="534.48" r="1.45" fill="#ff7f0a"/>
<line x1="228.06" y1="528.47" x2="228.06" y2="524.83" stroke="#ff7f0a" stroke-width="0.6"/>
<circle cx="228.06" cy="526.65" r="1.45" fill="#ff7f0a"/>
<line x1="229.82" y1="525.25" x2="229.82" y2="521.8" stroke="#ff7f0a" stroke-width="0.6"/>
<circle cx="229.82" cy="523.53" r="1.45" fill="#ff7f0a"/>
<line x1="231.59" y1="524.14" x2="231.59" y2="520.79" stroke="#ff7f0a" stroke-width="0.6"/>
<circle cx="231.59" cy="522.46" r="1.45" fill="#ff7f0a"/>
<circle cx="233.35" cy="522.59" r="1.45" fill="#ff7f0a"/>
<line x1="235.11" y1="526.82" x2="235.11" y2="521.87" stroke="#ff7f0a" stroke-width="0.6"/>
<circle cx="235.11" cy="524.34" r="1.45" fill="#ff7f0a"/>
<circle cx="236.87" cy="520.27" r="1.45" fill="#ff7f0a"/>
<line x1="238.64" y1="523.62" x2="238.64" y2="519.25" stroke="#ff7f0a" stroke-width="0.6"/>
<circle cx="238.64" cy="521.44" r="1.45" fill="#ff7f0a"/>
<line x1="240.4" y1="520.52" x2="240.4" y2="516.28" stroke="#ff7f0a" stroke-width="0.6"/>
<circle cx="240.4" cy="518.4" r="1.45" fill="#ff7f0a"/>
<circle cx="242.16" cy="523.66" r="1.45" fill="#ff7f0a"/>
<circle cx="243.92" cy="524.1" r="1.45" fill="#ff7f0a"/>
<line x1="245.69" y1="531.92" x2="245.69" y2="525.84" stroke="#ff7f0a" stroke-width="0.6"/>
<circle cx="245.69" cy="528.88" r="1.45" fill="#ff7f0a"/>
<line x1="247.45" y1="532.17" x2="247.45" y2="527.81" stroke="#ff7f0a" stroke-width="0.6"/>
<circle cx="247.45" cy="529.99" r="1.45" fill="#ff7f0a"/>
<line x1="249.21" y1="523.41" x2="249.21" y2="521.16" stroke="#ff7f0a" stroke-width="0.6"/>
<circle cx="249.21" cy="522.28" r="1.45" fill="#ff7f0a"/>
<circle cx="250.97" cy="521.53" r="1.45" fill="#ff7f0a"/>
<circle cx="252.74" cy="517.43" r="1.45" fill="#ff7f0a"/>
<circle cx="254.5" cy="527.98" r="1.45" fill="#ff7f0a"/>
<circle cx="256.26" cy="528.47" r="1.45" fill="#ff7f0a"/>
<line x1="258.02" y1="531.22" x2="258.02" y2="526.6" stroke="#ff7f0a" stroke-width="0.6"/>
<circle cx="258.02" cy="528.91" r="1.45" fill="#ff7f0a"/>
<circle cx="259.79" cy="524.66" r="1.45" fill="#ff7f0a"/>
<line x1="261.55" y1="527.86" x2="261.55" y2="525.2" stroke="#ff7f0a" stroke-width="0.6"/>
<circle cx="261.55" cy="526.53" r="1.45" fill="#ff7f0a"/>
<line x1="263.31" y1="529.47" x2="263.31" y2="525.93" stroke="#ff7f0a" stroke-width="0.6"/>
<circle cx="263.31" cy="527.7" r="1.45" fill="#ff7f0a"/>
<circle cx="265.07" cy="522.3" r="1.45" fill="#ff7f0a"/>
<circle cx="266.84" cy="525.18" r="1.45" fill="#ff7f0a"/>
<circle cx="268.6" cy="529.8" r="1.45" fill="#ff7f0a"/>
<line x1="270.36" y1="531.91" x2="270.36" y2="527.42" stroke="#ff7f0a" stroke-width="0.6"/>
<circle cx="270.36" cy="529.67" r="1.45" fill="#ff7f0a"/>
<circle cx="272.12" cy="527.02" r="1.45" fill="#ff7f0a"/>
<line x1="273.89" y1="530.31" x2="273.89" y2="527.5" stroke="#ff7f0a" stroke-width="0.6"/>
<circle cx="273.89" cy="528.91" r="1.45" fill="#ff7f0a"/>
<circle cx="275.65" cy="530.26" r="1.45" fill="#ff7f0a"/>
<line x1="277.41" y1="529.65" x2="277.41" y2="526.47" stroke="#ff7f0a" stroke-width="0.6"/>
<circle cx="277.41" cy="528.06" r="1.45" fill="#ff7f0a"/>
<circle cx="279.17" cy="523.02" r="1.45" fill="#ff7f0a"/>
<circle cx="280.94" cy="528.53" r="1.45" fill="#ff7f0a"/>
<line x1="282.7" y1="529.52" x2="282.7" y2="522.18" stroke="#ff7f0a" stroke-width="0.6"/>
<circle cx="282.7" cy="525.85" r="1.45" fill="#ff7f0a"/>
<circle cx="284.46" cy="525.32" r="1.45" fill="#ff7f0a"/>
<line x1="286.22" y1="525.88" x2="286.22" y2="522.79" stroke="#ff7f0a" stroke-width="0.6"/>
<circle cx="286.22" cy="524.34" r="1.45" fill="#ff7f0a"/>
<circle cx="287.99" cy="519.26" r="1.45" fill="#ff7f0a"/>
<line x1="289.75" y1="524.07" x2="289.75" y2="520.74" stroke="#ff7f0a" stroke-width="0.6"/>
<circle cx="289.75" cy="522.41" r="1.45" fill="#ff7f0a"/>
<circle cx="291.51" cy="524.88" r="1.45" fill="#ff7f0a"/>
<line x1="293.27" y1="531.89" x2="293.27" y2="528.65" stroke="#ff7f0a" stroke-width="0.6"/>
<circle cx="293.27" cy="530.27" r="1.45" fill="#ff7f0a"/>
<line x1="295.04" y1="534.89" x2="295.04" y2="526.49" stroke="#ff7f0a" stroke-width="0.6"/>
<circle cx="295.04" cy="530.69" r="1.45" fill="#ff7f0a"/>
<circle cx="296.8" cy="530.67" r="1.45" fill="#ff7f0a"/>
<circle cx="298.56" cy="527.37" r="1.45" fill="#ff7f0a"/>
<line x1="300.32" y1="532.09" x2="300.32" y2="529.1" stroke="#ff7f0a" stroke-width="0.6"/>
<circle cx="300.32" cy="530.59" r="1.45" fill="#ff7f0a"/>
<line x1="302.09" y1="528.87" x2="302.09" y2="525.28" stroke="#ff7f0a" stroke-width="0.6"/>
<circle cx="302.09" cy="527.08" r="1.45" fill="#ff7f0a"/>
<circle cx="303.85" cy="524.89" r="1.45" fill="#ff7f0a"/>
<circle cx="305.61" cy="529.69" r="1.45" fill="#ff7f0a"/>
<line x1="307.37" y1="530.98" x2="307.37" y2="528.29" stroke="#ff7f0a" stroke-width="0.6"/>
<circle cx="307.37" cy="529.63" r="1.45" fill="#ff7f0a"/>
<line x1="309.14" y1="532.71" x2="309.14" y2="529.5" stroke="#ff7f0a" stroke-width="0.6"/>
<circle cx="309.14" cy="531.1" r="1.45" fill="#ff7f0a"/>
<circle cx="310.9" cy="526.27" r="1.45" fill="#ff7f0a"/>
<circle cx="312.66" cy="528.62" r="1.45" fill="#ff7f0a"/>
<circle cx="314.42" cy="529.35" r="1.45" fill="#ff7f0a"/>
<circle cx="316.19" cy="528.04" r="1.45" fill="#ff7f0a"/>
<line x1="317.95" y1="531.07" x2="317.95" y2="526.36" stroke="#ff7f0a" stroke-width="0.6"/>
<circle cx="317.95" cy="528.71" r="1.45" fill="#ff7f0a"/>
<circle cx="319.71" cy="529.86" r="1.45" fill="#ff7f0a"/>
<line x1="321.47" y1="528.79" x2="321.47" y2="526.31" stroke="#ff7f0a" stroke-width="0.6"/>
<circle cx="321.47" cy="527.55" r="1.45" fill="#ff7f0a"/>
<circle cx="323.24" cy="525.62" r="1.45" fill="#ff7f0a"/>
<line x1="325" y1="532.12" x2="325" y2="528.45" stroke="#ff7f0a" stroke-width="0.6"/>
<circle cx="325" cy="530.29" r="1.45" fill="#ff7f0a"/>
<circle cx="326.76" cy="530.8" r="1.45" fill="#ff7f0a"/>
<circle cx="328.52" cy="526.22" r="1.45" fill="#ff7f0a"/>
<line x1="330.29" y1="531.13" x2="330.29" y2="528.85" stroke="#ff7f0a" stroke-width="0.6"/>
<circle cx="330.29" cy="529.99" r="1.45" fill="#ff7f0a"/>
<circle cx="332.05" cy="528.26" r="1.45" fill="#ff7f0a"/>
<text x="273.8" y="454.1" font-size="11.8" font-weight="bold" class="k" text-anchor="middle">G&#945;<tspan font-size="8.4" dy="2.8">i1</tspan><tspan dy="-2.8">-YFP</tspan></text>
<line x1="224" y1="471.3" x2="233.8" y2="471.3" stroke="#7f7f86" stroke-width="1.1"/>
<rect x="227.6" y="470" width="2.6" height="2.6" fill="#7f7f86"/>
<text x="239.6" y="474.4" font-size="9.2" font-weight="bold" class="k">Vehicle</text>
<line x1="280.8" y1="471.3" x2="290.9" y2="471.3" stroke="#ff7f0a" stroke-width="1.1"/>
<circle cx="285.85" cy="471.3" r="1.5" fill="#ff7f0a"/>
<text x="296.3" y="474.4" font-size="9.2" font-weight="bold" class="k">WNT-9B</text>
<text x="274.3" y="585.6" font-size="11.6" font-weight="bold" class="k" text-anchor="middle">Time (min)</text>
<text transform="translate(181.8,506.3) rotate(-90)" font-size="11.5" font-weight="bold" class="k" text-anchor="middle">Normalized BRET</text>
<text x="343.2" y="439.9" font-size="16.5" font-weight="bold" fill="#000" text-anchor="start" >h</text>
<text transform="translate(380.7,558.8) scale(0.94,1)" font-size="10.6" font-weight="bold" text-anchor="end" stroke="#000" stroke-width="0.3">-0.02</text>
<text transform="translate(380.7,540.24) scale(0.94,1)" font-size="10.6" font-weight="bold" text-anchor="end" stroke="#000" stroke-width="0.3">0.00</text>
<text transform="translate(380.7,521.68) scale(0.94,1)" font-size="10.6" font-weight="bold" text-anchor="end" stroke="#000" stroke-width="0.3">0.02</text>
<text transform="translate(380.7,503.12) scale(0.94,1)" font-size="10.6" font-weight="bold" text-anchor="end" stroke="#000" stroke-width="0.3">0.04</text>
<text transform="translate(380.7,484.56) scale(0.94,1)" font-size="10.6" font-weight="bold" text-anchor="end" stroke="#000" stroke-width="0.3">0.06</text>
<text transform="translate(380.7,466) scale(0.94,1)" font-size="10.6" font-weight="bold" text-anchor="end" stroke="#000" stroke-width="0.3">0.08</text>
<text transform="translate(397.5,569.7) scale(1.0,1)" font-size="10.1" font-weight="bold" text-anchor="middle" stroke="#000" stroke-width="0.3">0</text>
<text transform="translate(432.75,569.7) scale(1.0,1)" font-size="10.1" font-weight="bold" text-anchor="middle" stroke="#000" stroke-width="0.3">3</text>
<text transform="translate(468,569.7) scale(1.0,1)" font-size="10.1" font-weight="bold" text-anchor="middle" stroke="#000" stroke-width="0.3">6</text>
<text transform="translate(503.25,569.7) scale(1.0,1)" font-size="10.1" font-weight="bold" text-anchor="middle" stroke="#000" stroke-width="0.3">9</text>
<path d="M387,461.5 V554.9 H503.85" fill="none" stroke="#000" stroke-width="1.65"/>
<line x1="382.6" y1="554.9" x2="387" y2="554.9" stroke="#000" stroke-width="1.6"/>
<line x1="382.6" y1="536.34" x2="387" y2="536.34" stroke="#000" stroke-width="1.6"/>
<line x1="382.6" y1="517.78" x2="387" y2="517.78" stroke="#000" stroke-width="1.6"/>
<line x1="382.6" y1="499.22" x2="387" y2="499.22" stroke="#000" stroke-width="1.6"/>
<line x1="382.6" y1="480.66" x2="387" y2="480.66" stroke="#000" stroke-width="1.6"/>
<line x1="382.6" y1="462.1" x2="387" y2="462.1" stroke="#000" stroke-width="1.6"/>
<line x1="397.5" y1="554.9" x2="397.5" y2="559.3" stroke="#000" stroke-width="1.6"/>
<line x1="432.75" y1="554.9" x2="432.75" y2="559.3" stroke="#000" stroke-width="1.6"/>
<line x1="468" y1="554.9" x2="468" y2="559.3" stroke="#000" stroke-width="1.6"/>
<line x1="503.25" y1="554.9" x2="503.25" y2="559.3" stroke="#000" stroke-width="1.6"/>
<line x1="397.5" y1="536.34" x2="503.25" y2="536.34" stroke="#222" stroke-width="1.0" stroke-dasharray="1.1,1.75"/>
<polyline points="388.69,537.58 390.45,536.56 392.21,537.11 393.97,536.77 395.74,536.15 397.5,536.71 399.26,535.02 401.02,535.51 402.79,534.47 404.55,537.8 406.31,530.94 408.07,531.6 409.84,529.06 411.6,530.18 413.36,528.05 415.12,528.01 416.89,529.67 418.65,528.24 420.41,530.86 422.17,531.74 423.94,531.4 425.7,531.06 427.46,533.16 429.22,536 430.99,534.69 432.75,531.68 434.51,534.35 436.27,534.41 438.04,532.07 439.8,536.27 441.56,536.47 443.32,535.45 445.09,538.77 446.85,538.36 448.61,537.26 450.37,536.67 452.14,535.17 453.9,534.46 455.66,538.33 457.42,537.13 459.19,537.71 460.95,535.68 462.71,538.41 464.47,539.18 466.24,536.78 468,540.17 469.76,541.57 471.52,540.36 473.29,540.84 475.05,539.68 476.81,540.19 478.57,541.44 480.34,541.77 482.1,542.22 483.86,539.86 485.62,539.19 487.39,542.33 489.15,541.71 490.91,542.25 492.67,543.78 494.44,544.14 496.2,544.43 497.96,546.79 499.73,545.51 501.49,544.18 503.25,543.87" fill="none" stroke="#7f7f86" stroke-width="1.9" stroke-linejoin="round"/>
<rect x="387.39" y="536.28" width="2.6" height="2.6" fill="#7f7f86"/>
<rect x="389.15" y="535.26" width="2.6" height="2.6" fill="#7f7f86"/>
<rect x="390.91" y="535.81" width="2.6" height="2.6" fill="#7f7f86"/>
<line x1="393.97" y1="539.63" x2="393.97" y2="533.91" stroke="#7f7f86" stroke-width="0.6"/>
<rect x="392.67" y="535.47" width="2.6" height="2.6" fill="#7f7f86"/>
<line x1="395.74" y1="537.44" x2="395.74" y2="534.85" stroke="#7f7f86" stroke-width="0.6"/>
<rect x="394.44" y="534.85" width="2.6" height="2.6" fill="#7f7f86"/>
<rect x="396.2" y="535.41" width="2.6" height="2.6" fill="#7f7f86"/>
<rect x="397.96" y="533.72" width="2.6" height="2.6" fill="#7f7f86"/>
<rect x="399.72" y="534.21" width="2.6" height="2.6" fill="#7f7f86"/>
<line x1="402.79" y1="535.66" x2="402.79" y2="533.28" stroke="#7f7f86" stroke-width="0.6"/>
<rect x="401.49" y="533.17" width="2.6" height="2.6" fill="#7f7f86"/>
<rect x="403.25" y="536.5" width="2.6" height="2.6" fill="#7f7f86"/>
<rect x="405.01" y="529.64" width="2.6" height="2.6" fill="#7f7f86"/>
<rect x="406.77" y="530.3" width="2.6" height="2.6" fill="#7f7f86"/>
<rect x="408.54" y="527.76" width="2.6" height="2.6" fill="#7f7f86"/>
<rect x="410.3" y="528.88" width="2.6" height="2.6" fill="#7f7f86"/>
<line x1="413.36" y1="529.18" x2="413.36" y2="526.92" stroke="#7f7f86" stroke-width="0.6"/>
<rect x="412.06" y="526.75" width="2.6" height="2.6" fill="#7f7f86"/>
<line x1="415.12" y1="529.66" x2="415.12" y2="526.36" stroke="#7f7f86" stroke-width="0.6"/>
<rect x="413.82" y="526.71" width="2.6" height="2.6" fill="#7f7f86"/>
<rect x="415.59" y="528.37" width="2.6" height="2.6" fill="#7f7f86"/>
<rect x="417.35" y="526.94" width="2.6" height="2.6" fill="#7f7f86"/>
<rect x="419.11" y="529.56" width="2.6" height="2.6" fill="#7f7f86"/>
<rect x="420.87" y="530.44" width="2.6" height="2.6" fill="#7f7f86"/>
<line x1="423.94" y1="534.44" x2="423.94" y2="528.36" stroke="#7f7f86" stroke-width="0.6"/>
<rect x="422.64" y="530.1" width="2.6" height="2.6" fill="#7f7f86"/>
<rect x="424.4" y="529.76" width="2.6" height="2.6" fill="#7f7f86"/>
<rect x="426.16" y="531.86" width="2.6" height="2.6" fill="#7f7f86"/>
<rect x="427.92" y="534.7" width="2.6" height="2.6" fill="#7f7f86"/>
<line x1="430.99" y1="537.39" x2="430.99" y2="531.98" stroke="#7f7f86" stroke-width="0.6"/>
<rect x="429.69" y="533.39" width="2.6" height="2.6" fill="#7f7f86"/>
<line x1="432.75" y1="532.83" x2="432.75" y2="530.52" stroke="#7f7f86" stroke-width="0.6"/>
<rect x="431.45" y="530.38" width="2.6" height="2.6" fill="#7f7f86"/>
<line x1="434.51" y1="536.79" x2="434.51" y2="531.92" stroke="#7f7f86" stroke-width="0.6"/>
<rect x="433.21" y="533.05" width="2.6" height="2.6" fill="#7f7f86"/>
<rect x="434.97" y="533.11" width="2.6" height="2.6" fill="#7f7f86"/>
<line x1="438.04" y1="533.92" x2="438.04" y2="530.22" stroke="#7f7f86" stroke-width="0.6"/>
<rect x="436.74" y="530.77" width="2.6" height="2.6" fill="#7f7f86"/>
<rect x="438.5" y="534.97" width="2.6" height="2.6" fill="#7f7f86"/>
<rect x="440.26" y="535.17" width="2.6" height="2.6" fill="#7f7f86"/>
<rect x="442.02" y="534.15" width="2.6" height="2.6" fill="#7f7f86"/>
<line x1="445.09" y1="540.33" x2="445.09" y2="537.21" stroke="#7f7f86" stroke-width="0.6"/>
<rect x="443.79" y="537.47" width="2.6" height="2.6" fill="#7f7f86"/>
<rect x="445.55" y="537.06" width="2.6" height="2.6" fill="#7f7f86"/>
<line x1="448.61" y1="538.52" x2="448.61" y2="535.99" stroke="#7f7f86" stroke-width="0.6"/>
<rect x="447.31" y="535.96" width="2.6" height="2.6" fill="#7f7f86"/>
<rect x="449.07" y="535.37" width="2.6" height="2.6" fill="#7f7f86"/>
<rect x="450.84" y="533.87" width="2.6" height="2.6" fill="#7f7f86"/>
<rect x="452.6" y="533.16" width="2.6" height="2.6" fill="#7f7f86"/>
<rect x="454.36" y="537.03" width="2.6" height="2.6" fill="#7f7f86"/>
<rect x="456.12" y="535.83" width="2.6" height="2.6" fill="#7f7f86"/>
<line x1="459.19" y1="539.45" x2="459.19" y2="535.97" stroke="#7f7f86" stroke-width="0.6"/>
<rect x="457.89" y="536.41" width="2.6" height="2.6" fill="#7f7f86"/>
<rect x="459.65" y="534.38" width="2.6" height="2.6" fill="#7f7f86"/>
<line x1="462.71" y1="540.94" x2="462.71" y2="535.88" stroke="#7f7f86" stroke-width="0.6"/>
<rect x="461.41" y="537.11" width="2.6" height="2.6" fill="#7f7f86"/>
<rect x="463.17" y="537.88" width="2.6" height="2.6" fill="#7f7f86"/>
<rect x="464.94" y="535.48" width="2.6" height="2.6" fill="#7f7f86"/>
<line x1="468" y1="543.39" x2="468" y2="536.94" stroke="#7f7f86" stroke-width="0.6"/>
<rect x="466.7" y="538.87" width="2.6" height="2.6" fill="#7f7f86"/>
<rect x="468.46" y="540.27" width="2.6" height="2.6" fill="#7f7f86"/>
<line x1="471.52" y1="541.88" x2="471.52" y2="538.85" stroke="#7f7f86" stroke-width="0.6"/>
<rect x="470.22" y="539.06" width="2.6" height="2.6" fill="#7f7f86"/>
<rect x="471.99" y="539.54" width="2.6" height="2.6" fill="#7f7f86"/>
<rect x="473.75" y="538.38" width="2.6" height="2.6" fill="#7f7f86"/>
<rect x="475.51" y="538.89" width="2.6" height="2.6" fill="#7f7f86"/>
<rect x="477.27" y="540.14" width="2.6" height="2.6" fill="#7f7f86"/>
<rect x="479.04" y="540.47" width="2.6" height="2.6" fill="#7f7f86"/>
<line x1="482.1" y1="543.36" x2="482.1" y2="541.09" stroke="#7f7f86" stroke-width="0.6"/>
<rect x="480.8" y="540.92" width="2.6" height="2.6" fill="#7f7f86"/>
<rect x="482.56" y="538.56" width="2.6" height="2.6" fill="#7f7f86"/>
<line x1="485.62" y1="540.45" x2="485.62" y2="537.93" stroke="#7f7f86" stroke-width="0.6"/>
<rect x="484.32" y="537.89" width="2.6" height="2.6" fill="#7f7f86"/>
<rect x="486.09" y="541.03" width="2.6" height="2.6" fill="#7f7f86"/>
<rect x="487.85" y="540.41" width="2.6" height="2.6" fill="#7f7f86"/>
<line x1="490.91" y1="543.67" x2="490.91" y2="540.84" stroke="#7f7f86" stroke-width="0.6"/>
<rect x="489.61" y="540.95" width="2.6" height="2.6" fill="#7f7f86"/>
<rect x="491.37" y="542.48" width="2.6" height="2.6" fill="#7f7f86"/>
<rect x="493.14" y="542.84" width="2.6" height="2.6" fill="#7f7f86"/>
<line x1="496.2" y1="545.64" x2="496.2" y2="543.23" stroke="#7f7f86" stroke-width="0.6"/>
<rect x="494.9" y="543.13" width="2.6" height="2.6" fill="#7f7f86"/>
<line x1="497.96" y1="548.03" x2="497.96" y2="545.55" stroke="#7f7f86" stroke-width="0.6"/>
<rect x="496.66" y="545.49" width="2.6" height="2.6" fill="#7f7f86"/>
<line x1="499.73" y1="547.66" x2="499.73" y2="543.37" stroke="#7f7f86" stroke-width="0.6"/>
<rect x="498.43" y="544.21" width="2.6" height="2.6" fill="#7f7f86"/>
<rect x="500.19" y="542.88" width="2.6" height="2.6" fill="#7f7f86"/>
<line x1="503.25" y1="545.17" x2="503.25" y2="542.57" stroke="#7f7f86" stroke-width="0.6"/>
<rect x="501.95" y="542.57" width="2.6" height="2.6" fill="#7f7f86"/>
<polyline points="388.69,536.08 390.45,536.53 392.21,536.9 393.97,536 395.74,537 397.5,537.3 399.26,521.7 401.02,518.95 402.79,515.44 404.55,511.2 406.31,506.72 408.07,508.64 409.84,505.7 411.6,504.98 413.36,503.41 415.12,502.51 416.89,503.3 418.65,498.6 420.41,500.59 422.17,504.42 423.94,501.4 425.7,504.29 427.46,500.03 429.22,503.75 430.99,506.99 432.75,505.47 434.51,503.94 436.27,512.44 438.04,511.57 439.8,506.08 441.56,514.24 443.32,508.39 445.09,510.33 446.85,512.49 448.61,514.39 450.37,509.74 452.14,514.28 453.9,512.07 455.66,512.88 457.42,512.6 459.19,514.73 460.95,512.75 462.71,520.58 464.47,520.45 466.24,518.94 468,522.75 469.76,519.74 471.52,517.33 473.29,521.98 475.05,525.29 476.81,530.79 478.57,527.51 480.34,530.38 482.1,526.66 483.86,531.3 485.62,528.43 487.39,531.6 489.15,531.21 490.91,533.91 492.67,531.72 494.44,529.27 496.2,530.96 497.96,534.79 499.73,534.4 501.49,530.87 503.25,531.16" fill="none" stroke="#f40a3c" stroke-width="1.4" stroke-linejoin="round"/>
<circle cx="388.69" cy="536.08" r="1.45" fill="#f40a3c"/>
<line x1="390.45" y1="537.73" x2="390.45" y2="535.33" stroke="#f40a3c" stroke-width="0.6"/>
<circle cx="390.45" cy="536.53" r="1.45" fill="#f40a3c"/>
<circle cx="392.21" cy="536.9" r="1.45" fill="#f40a3c"/>
<circle cx="393.97" cy="536" r="1.45" fill="#f40a3c"/>
<circle cx="395.74" cy="537" r="1.45" fill="#f40a3c"/>
<circle cx="397.5" cy="537.3" r="1.45" fill="#f40a3c"/>
<line x1="399.26" y1="523.19" x2="399.26" y2="520.22" stroke="#f40a3c" stroke-width="0.6"/>
<circle cx="399.26" cy="521.7" r="1.45" fill="#f40a3c"/>
<line x1="401.02" y1="523.68" x2="401.02" y2="514.21" stroke="#f40a3c" stroke-width="0.6"/>
<circle cx="401.02" cy="518.95" r="1.45" fill="#f40a3c"/>
<circle cx="402.79" cy="515.44" r="1.45" fill="#f40a3c"/>
<line x1="404.55" y1="512.98" x2="404.55" y2="509.42" stroke="#f40a3c" stroke-width="0.6"/>
<circle cx="404.55" cy="511.2" r="1.45" fill="#f40a3c"/>
<line x1="406.31" y1="508.68" x2="406.31" y2="504.75" stroke="#f40a3c" stroke-width="0.6"/>
<circle cx="406.31" cy="506.72" r="1.45" fill="#f40a3c"/>
<circle cx="408.07" cy="508.64" r="1.45" fill="#f40a3c"/>
<circle cx="409.84" cy="505.7" r="1.45" fill="#f40a3c"/>
<line x1="411.6" y1="507.13" x2="411.6" y2="502.82" stroke="#f40a3c" stroke-width="0.6"/>
<circle cx="411.6" cy="504.98" r="1.45" fill="#f40a3c"/>
<line x1="413.36" y1="505.8" x2="413.36" y2="501.01" stroke="#f40a3c" stroke-width="0.6"/>
<circle cx="413.36" cy="503.41" r="1.45" fill="#f40a3c"/>
<circle cx="415.12" cy="502.51" r="1.45" fill="#f40a3c"/>
<circle cx="416.89" cy="503.3" r="1.45" fill="#f40a3c"/>
<circle cx="418.65" cy="498.6" r="1.45" fill="#f40a3c"/>
<circle cx="420.41" cy="500.59" r="1.45" fill="#f40a3c"/>
<line x1="422.17" y1="505.95" x2="422.17" y2="502.88" stroke="#f40a3c" stroke-width="0.6"/>
<circle cx="422.17" cy="504.42" r="1.45" fill="#f40a3c"/>
<line x1="423.94" y1="503.95" x2="423.94" y2="498.85" stroke="#f40a3c" stroke-width="0.6"/>
<circle cx="423.94" cy="501.4" r="1.45" fill="#f40a3c"/>
<circle cx="425.7" cy="504.29" r="1.45" fill="#f40a3c"/>
<line x1="427.46" y1="501.16" x2="427.46" y2="498.9" stroke="#f40a3c" stroke-width="0.6"/>
<circle cx="427.46" cy="500.03" r="1.45" fill="#f40a3c"/>
<line x1="429.22" y1="505.05" x2="429.22" y2="502.45" stroke="#f40a3c" stroke-width="0.6"/>
<circle cx="429.22" cy="503.75" r="1.45" fill="#f40a3c"/>
<line x1="430.99" y1="508.33" x2="430.99" y2="505.65" stroke="#f40a3c" stroke-width="0.6"/>
<circle cx="430.99" cy="506.99" r="1.45" fill="#f40a3c"/>
<line x1="432.75" y1="508.16" x2="432.75" y2="502.79" stroke="#f40a3c" stroke-width="0.6"/>
<circle cx="432.75" cy="505.47" r="1.45" fill="#f40a3c"/>
<circle cx="434.51" cy="503.94" r="1.45" fill="#f40a3c"/>
<circle cx="436.27" cy="512.44" r="1.45" fill="#f40a3c"/>
<line x1="438.04" y1="513.24" x2="438.04" y2="509.91" stroke="#f40a3c" stroke-width="0.6"/>
<circle cx="438.04" cy="511.57" r="1.45" fill="#f40a3c"/>
<line x1="439.8" y1="508.11" x2="439.8" y2="504.05" stroke="#f40a3c" stroke-width="0.6"/>
<circle cx="439.8" cy="506.08" r="1.45" fill="#f40a3c"/>
<circle cx="441.56" cy="514.24" r="1.45" fill="#f40a3c"/>
<circle cx="443.32" cy="508.39" r="1.45" fill="#f40a3c"/>
<circle cx="445.09" cy="510.33" r="1.45" fill="#f40a3c"/>
<circle cx="446.85" cy="512.49" r="1.45" fill="#f40a3c"/>
<circle cx="448.61" cy="514.39" r="1.45" fill="#f40a3c"/>
<line x1="450.37" y1="511.78" x2="450.37" y2="507.7" stroke="#f40a3c" stroke-width="0.6"/>
<circle cx="450.37" cy="509.74" r="1.45" fill="#f40a3c"/>
<circle cx="452.14" cy="514.28" r="1.45" fill="#f40a3c"/>
<line x1="453.9" y1="514.76" x2="453.9" y2="509.38" stroke="#f40a3c" stroke-width="0.6"/>
<circle cx="453.9" cy="512.07" r="1.45" fill="#f40a3c"/>
<line x1="455.66" y1="514.18" x2="455.66" y2="511.57" stroke="#f40a3c" stroke-width="0.6"/>
<circle cx="455.66" cy="512.88" r="1.45" fill="#f40a3c"/>
<line x1="457.42" y1="513.92" x2="457.42" y2="511.27" stroke="#f40a3c" stroke-width="0.6"/>
<circle cx="457.42" cy="512.6" r="1.45" fill="#f40a3c"/>
<line x1="459.19" y1="516.7" x2="459.19" y2="512.77" stroke="#f40a3c" stroke-width="0.6"/>
<circle cx="459.19" cy="514.73" r="1.45" fill="#f40a3c"/>
<line x1="460.95" y1="514.43" x2="460.95" y2="511.08" stroke="#f40a3c" stroke-width="0.6"/>
<circle cx="460.95" cy="512.75" r="1.45" fill="#f40a3c"/>
<circle cx="462.71" cy="520.58" r="1.45" fill="#f40a3c"/>
<line x1="464.47" y1="522.57" x2="464.47" y2="518.33" stroke="#f40a3c" stroke-width="0.6"/>
<circle cx="464.47" cy="520.45" r="1.45" fill="#f40a3c"/>
<circle cx="466.24" cy="518.94" r="1.45" fill="#f40a3c"/>
<circle cx="468" cy="522.75" r="1.45" fill="#f40a3c"/>
<circle cx="469.76" cy="519.74" r="1.45" fill="#f40a3c"/>
<line x1="471.52" y1="518.83" x2="471.52" y2="515.83" stroke="#f40a3c" stroke-width="0.6"/>
<circle cx="471.52" cy="517.33" r="1.45" fill="#f40a3c"/>
<circle cx="473.29" cy="521.98" r="1.45" fill="#f40a3c"/>
<circle cx="475.05" cy="525.29" r="1.45" fill="#f40a3c"/>
<circle cx="476.81" cy="530.79" r="1.45" fill="#f40a3c"/>
<line x1="478.57" y1="529.26" x2="478.57" y2="525.76" stroke="#f40a3c" stroke-width="0.6"/>
<circle cx="478.57" cy="527.51" r="1.45" fill="#f40a3c"/>
<circle cx="480.34" cy="530.38" r="1.45" fill="#f40a3c"/>
<line x1="482.1" y1="527.83" x2="482.1" y2="525.49" stroke="#f40a3c" stroke-width="0.6"/>
<circle cx="482.1" cy="526.66" r="1.45" fill="#f40a3c"/>
<line x1="483.86" y1="532.77" x2="483.86" y2="529.83" stroke="#f40a3c" stroke-width="0.6"/>
<circle cx="483.86" cy="531.3" r="1.45" fill="#f40a3c"/>
<circle cx="485.62" cy="528.43" r="1.45" fill="#f40a3c"/>
<circle cx="487.39" cy="531.6" r="1.45" fill="#f40a3c"/>
<circle cx="489.15" cy="531.21" r="1.45" fill="#f40a3c"/>
<line x1="490.91" y1="535.43" x2="490.91" y2="532.39" stroke="#f40a3c" stroke-width="0.6"/>
<circle cx="490.91" cy="533.91" r="1.45" fill="#f40a3c"/>
<line x1="492.67" y1="534.48" x2="492.67" y2="528.96" stroke="#f40a3c" stroke-width="0.6"/>
<circle cx="492.67" cy="531.72" r="1.45" fill="#f40a3c"/>
<circle cx="494.44" cy="529.27" r="1.45" fill="#f40a3c"/>
<line x1="496.2" y1="532.18" x2="496.2" y2="529.73" stroke="#f40a3c" stroke-width="0.6"/>
<circle cx="496.2" cy="530.96" r="1.45" fill="#f40a3c"/>
<circle cx="497.96" cy="534.79" r="1.45" fill="#f40a3c"/>
<line x1="499.73" y1="537.31" x2="499.73" y2="531.49" stroke="#f40a3c" stroke-width="0.6"/>
<circle cx="499.73" cy="534.4" r="1.45" fill="#f40a3c"/>
<circle cx="501.49" cy="530.87" r="1.45" fill="#f40a3c"/>
<line x1="503.25" y1="533.68" x2="503.25" y2="528.63" stroke="#f40a3c" stroke-width="0.6"/>
<circle cx="503.25" cy="531.16" r="1.45" fill="#f40a3c"/>
<text x="445" y="454.1" font-size="11.8" font-weight="bold" class="k" text-anchor="middle">G&#945;<tspan font-size="8.4" dy="2.8">i2</tspan><tspan dy="-2.8">-YFP</tspan></text>
<line x1="395.2" y1="471.3" x2="405" y2="471.3" stroke="#7f7f86" stroke-width="1.1"/>
<rect x="398.8" y="470" width="2.6" height="2.6" fill="#7f7f86"/>
<text x="410.8" y="474.4" font-size="9.2" font-weight="bold" class="k">Vehicle</text>
<line x1="452" y1="471.3" x2="462.1" y2="471.3" stroke="#f40a3c" stroke-width="1.1"/>
<circle cx="457.05" cy="471.3" r="1.5" fill="#f40a3c"/>
<text x="467.5" y="474.4" font-size="9.2" font-weight="bold" class="k">WNT-9B</text>
<text x="445.5" y="585.6" font-size="11.6" font-weight="bold" class="k" text-anchor="middle">Time (min)</text>
<text transform="translate(353,506.3) rotate(-90)" font-size="11.5" font-weight="bold" class="k" text-anchor="middle">Normalized BRET</text>
<text x="516" y="439.9" font-size="16.5" font-weight="bold" fill="#000" text-anchor="start" >i</text>
<text transform="translate(551.2,558.8) scale(0.94,1)" font-size="10.6" font-weight="bold" text-anchor="end" stroke="#000" stroke-width="0.3">-0.02</text>
<text transform="translate(551.2,540.24) scale(0.94,1)" font-size="10.6" font-weight="bold" text-anchor="end" stroke="#000" stroke-width="0.3">0.00</text>
<text transform="translate(551.2,521.68) scale(0.94,1)" font-size="10.6" font-weight="bold" text-anchor="end" stroke="#000" stroke-width="0.3">0.02</text>
<text transform="translate(551.2,503.12) scale(0.94,1)" font-size="10.6" font-weight="bold" text-anchor="end" stroke="#000" stroke-width="0.3">0.04</text>
<text transform="translate(551.2,484.56) scale(0.94,1)" font-size="10.6" font-weight="bold" text-anchor="end" stroke="#000" stroke-width="0.3">0.06</text>
<text transform="translate(551.2,466) scale(0.94,1)" font-size="10.6" font-weight="bold" text-anchor="end" stroke="#000" stroke-width="0.3">0.08</text>
<text transform="translate(568,569.7) scale(1.0,1)" font-size="10.1" font-weight="bold" text-anchor="middle" stroke="#000" stroke-width="0.3">0</text>
<text transform="translate(603.25,569.7) scale(1.0,1)" font-size="10.1" font-weight="bold" text-anchor="middle" stroke="#000" stroke-width="0.3">3</text>
<text transform="translate(638.5,569.7) scale(1.0,1)" font-size="10.1" font-weight="bold" text-anchor="middle" stroke="#000" stroke-width="0.3">6</text>
<text transform="translate(673.75,569.7) scale(1.0,1)" font-size="10.1" font-weight="bold" text-anchor="middle" stroke="#000" stroke-width="0.3">9</text>
<path d="M557.5,461.5 V554.9 H674.35" fill="none" stroke="#000" stroke-width="1.65"/>
<line x1="553.1" y1="554.9" x2="557.5" y2="554.9" stroke="#000" stroke-width="1.6"/>
<line x1="553.1" y1="536.34" x2="557.5" y2="536.34" stroke="#000" stroke-width="1.6"/>
<line x1="553.1" y1="517.78" x2="557.5" y2="517.78" stroke="#000" stroke-width="1.6"/>
<line x1="553.1" y1="499.22" x2="557.5" y2="499.22" stroke="#000" stroke-width="1.6"/>
<line x1="553.1" y1="480.66" x2="557.5" y2="480.66" stroke="#000" stroke-width="1.6"/>
<line x1="553.1" y1="462.1" x2="557.5" y2="462.1" stroke="#000" stroke-width="1.6"/>
<line x1="568" y1="554.9" x2="568" y2="559.3" stroke="#000" stroke-width="1.6"/>
<line x1="603.25" y1="554.9" x2="603.25" y2="559.3" stroke="#000" stroke-width="1.6"/>
<line x1="638.5" y1="554.9" x2="638.5" y2="559.3" stroke="#000" stroke-width="1.6"/>
<line x1="673.75" y1="554.9" x2="673.75" y2="559.3" stroke="#000" stroke-width="1.6"/>
<line x1="568" y1="536.34" x2="673.75" y2="536.34" stroke="#222" stroke-width="1.0" stroke-dasharray="1.1,1.75"/>
<polyline points="559.19,535.26 560.95,536.28 562.71,536.22 564.47,536.39 566.24,537.74 568,536.24 569.76,538.88 571.52,537.34 573.29,538.85 575.05,536.18 576.81,537.58 578.57,534.03 580.34,531.91 582.1,528.02 583.86,531.02 585.62,529.91 587.39,529.64 589.15,529.69 590.91,531.1 592.67,533.41 594.44,530.08 596.2,524.97 597.96,531.22 599.72,530.83 601.49,533.39 603.25,533.99 605.01,534.14 606.77,535.12 608.54,536.31 610.3,536.35 612.06,536.13 613.82,536.63 615.59,534.67 617.35,537.96 619.11,537.52 620.87,537.24 622.64,537.66 624.4,539.9 626.16,538.25 627.92,538.52 629.69,538.34 631.45,538.63 633.21,538.28 634.97,539.96 636.74,536.49 638.5,539.56 640.26,537.36 642.02,537.64 643.79,539.78 645.55,541.88 647.31,543.53 649.07,542.91 650.84,541.39 652.6,540.76 654.36,542.07 656.12,541.7 657.89,537.23 659.65,540.6 661.41,542.67 663.17,540.16 664.94,542.35 666.7,544.37 668.46,540.79 670.23,542.1 671.99,540.95 673.75,538.53" fill="none" stroke="#7f7f86" stroke-width="1.9" stroke-linejoin="round"/>
<rect x="557.89" y="533.96" width="2.6" height="2.6" fill="#7f7f86"/>
<line x1="560.95" y1="537.54" x2="560.95" y2="535.03" stroke="#7f7f86" stroke-width="0.6"/>
<rect x="559.65" y="534.98" width="2.6" height="2.6" fill="#7f7f86"/>
<line x1="562.71" y1="538.43" x2="562.71" y2="534.01" stroke="#7f7f86" stroke-width="0.6"/>
<rect x="561.41" y="534.92" width="2.6" height="2.6" fill="#7f7f86"/>
<line x1="564.47" y1="539.42" x2="564.47" y2="533.36" stroke="#7f7f86" stroke-width="0.6"/>
<rect x="563.17" y="535.09" width="2.6" height="2.6" fill="#7f7f86"/>
<line x1="566.24" y1="539.43" x2="566.24" y2="536.04" stroke="#7f7f86" stroke-width="0.6"/>
<rect x="564.94" y="536.44" width="2.6" height="2.6" fill="#7f7f86"/>
<line x1="568" y1="538.12" x2="568" y2="534.35" stroke="#7f7f86" stroke-width="0.6"/>
<rect x="566.7" y="534.94" width="2.6" height="2.6" fill="#7f7f86"/>
<line x1="569.76" y1="540.94" x2="569.76" y2="536.82" stroke="#7f7f86" stroke-width="0.6"/>
<rect x="568.46" y="537.58" width="2.6" height="2.6" fill="#7f7f86"/>
<rect x="570.22" y="536.04" width="2.6" height="2.6" fill="#7f7f86"/>
<rect x="571.99" y="537.55" width="2.6" height="2.6" fill="#7f7f86"/>
<rect x="573.75" y="534.88" width="2.6" height="2.6" fill="#7f7f86"/>
<rect x="575.51" y="536.28" width="2.6" height="2.6" fill="#7f7f86"/>
<rect x="577.27" y="532.73" width="2.6" height="2.6" fill="#7f7f86"/>
<rect x="579.04" y="530.61" width="2.6" height="2.6" fill="#7f7f86"/>
<line x1="582.1" y1="529.96" x2="582.1" y2="526.08" stroke="#7f7f86" stroke-width="0.6"/>
<rect x="580.8" y="526.72" width="2.6" height="2.6" fill="#7f7f86"/>
<line x1="583.86" y1="532.16" x2="583.86" y2="529.89" stroke="#7f7f86" stroke-width="0.6"/>
<rect x="582.56" y="529.72" width="2.6" height="2.6" fill="#7f7f86"/>
<rect x="584.32" y="528.61" width="2.6" height="2.6" fill="#7f7f86"/>
<rect x="586.09" y="528.34" width="2.6" height="2.6" fill="#7f7f86"/>
<rect x="587.85" y="528.39" width="2.6" height="2.6" fill="#7f7f86"/>
<rect x="589.61" y="529.8" width="2.6" height="2.6" fill="#7f7f86"/>
<line x1="592.67" y1="536.05" x2="592.67" y2="530.76" stroke="#7f7f86" stroke-width="0.6"/>
<rect x="591.37" y="532.11" width="2.6" height="2.6" fill="#7f7f86"/>
<rect x="593.14" y="528.78" width="2.6" height="2.6" fill="#7f7f86"/>
<line x1="596.2" y1="526.74" x2="596.2" y2="523.19" stroke="#7f7f86" stroke-width="0.6"/>
<rect x="594.9" y="523.67" width="2.6" height="2.6" fill="#7f7f86"/>
<rect x="596.66" y="529.92" width="2.6" height="2.6" fill="#7f7f86"/>
<line x1="599.72" y1="532.88" x2="599.72" y2="528.78" stroke="#7f7f86" stroke-width="0.6"/>
<rect x="598.42" y="529.53" width="2.6" height="2.6" fill="#7f7f86"/>
<rect x="600.19" y="532.09" width="2.6" height="2.6" fill="#7f7f86"/>
<rect x="601.95" y="532.69" width="2.6" height="2.6" fill="#7f7f86"/>
<rect x="603.71" y="532.84" width="2.6" height="2.6" fill="#7f7f86"/>
<line x1="606.77" y1="536.42" x2="606.77" y2="533.83" stroke="#7f7f86" stroke-width="0.6"/>
<rect x="605.47" y="533.82" width="2.6" height="2.6" fill="#7f7f86"/>
<rect x="607.24" y="535.01" width="2.6" height="2.6" fill="#7f7f86"/>
<line x1="610.3" y1="537.92" x2="610.3" y2="534.77" stroke="#7f7f86" stroke-width="0.6"/>
<rect x="609" y="535.05" width="2.6" height="2.6" fill="#7f7f86"/>
<line x1="612.06" y1="538.2" x2="612.06" y2="534.06" stroke="#7f7f86" stroke-width="0.6"/>
<rect x="610.76" y="534.83" width="2.6" height="2.6" fill="#7f7f86"/>
<rect x="612.52" y="535.33" width="2.6" height="2.6" fill="#7f7f86"/>
<rect x="614.29" y="533.37" width="2.6" height="2.6" fill="#7f7f86"/>
<line x1="617.35" y1="541.21" x2="617.35" y2="534.72" stroke="#7f7f86" stroke-width="0.6"/>
<rect x="616.05" y="536.66" width="2.6" height="2.6" fill="#7f7f86"/>
<rect x="617.81" y="536.22" width="2.6" height="2.6" fill="#7f7f86"/>
<rect x="619.57" y="535.94" width="2.6" height="2.6" fill="#7f7f86"/>
<rect x="621.34" y="536.36" width="2.6" height="2.6" fill="#7f7f86"/>
<rect x="623.1" y="538.6" width="2.6" height="2.6" fill="#7f7f86"/>
<rect x="624.86" y="536.95" width="2.6" height="2.6" fill="#7f7f86"/>
<line x1="627.92" y1="540.15" x2="627.92" y2="536.88" stroke="#7f7f86" stroke-width="0.6"/>
<rect x="626.62" y="537.22" width="2.6" height="2.6" fill="#7f7f86"/>
<line x1="629.69" y1="539.79" x2="629.69" y2="536.9" stroke="#7f7f86" stroke-width="0.6"/>
<rect x="628.39" y="537.04" width="2.6" height="2.6" fill="#7f7f86"/>
<rect x="630.15" y="537.33" width="2.6" height="2.6" fill="#7f7f86"/>
<rect x="631.91" y="536.98" width="2.6" height="2.6" fill="#7f7f86"/>
<rect x="633.67" y="538.66" width="2.6" height="2.6" fill="#7f7f86"/>
<rect x="635.44" y="535.19" width="2.6" height="2.6" fill="#7f7f86"/>
<line x1="638.5" y1="541.52" x2="638.5" y2="537.61" stroke="#7f7f86" stroke-width="0.6"/>
<rect x="637.2" y="538.26" width="2.6" height="2.6" fill="#7f7f86"/>
<line x1="640.26" y1="539.53" x2="640.26" y2="535.2" stroke="#7f7f86" stroke-width="0.6"/>
<rect x="638.96" y="536.06" width="2.6" height="2.6" fill="#7f7f86"/>
<rect x="640.72" y="536.34" width="2.6" height="2.6" fill="#7f7f86"/>
<rect x="642.49" y="538.48" width="2.6" height="2.6" fill="#7f7f86"/>
<rect x="644.25" y="540.58" width="2.6" height="2.6" fill="#7f7f86"/>
<line x1="647.31" y1="548.23" x2="647.31" y2="538.84" stroke="#7f7f86" stroke-width="0.6"/>
<rect x="646.01" y="542.23" width="2.6" height="2.6" fill="#7f7f86"/>
<rect x="647.77" y="541.61" width="2.6" height="2.6" fill="#7f7f86"/>
<line x1="650.84" y1="542.64" x2="650.84" y2="540.13" stroke="#7f7f86" stroke-width="0.6"/>
<rect x="649.54" y="540.09" width="2.6" height="2.6" fill="#7f7f86"/>
<line x1="652.6" y1="542.19" x2="652.6" y2="539.33" stroke="#7f7f86" stroke-width="0.6"/>
<rect x="651.3" y="539.46" width="2.6" height="2.6" fill="#7f7f86"/>
<rect x="653.06" y="540.77" width="2.6" height="2.6" fill="#7f7f86"/>
<rect x="654.83" y="540.4" width="2.6" height="2.6" fill="#7f7f86"/>
<rect x="656.59" y="535.93" width="2.6" height="2.6" fill="#7f7f86"/>
<rect x="658.35" y="539.3" width="2.6" height="2.6" fill="#7f7f86"/>
<line x1="661.41" y1="545.55" x2="661.41" y2="539.78" stroke="#7f7f86" stroke-width="0.6"/>
<rect x="660.11" y="541.37" width="2.6" height="2.6" fill="#7f7f86"/>
<line x1="663.17" y1="542.06" x2="663.17" y2="538.27" stroke="#7f7f86" stroke-width="0.6"/>
<rect x="661.88" y="538.86" width="2.6" height="2.6" fill="#7f7f86"/>
<rect x="663.64" y="541.05" width="2.6" height="2.6" fill="#7f7f86"/>
<rect x="665.4" y="543.07" width="2.6" height="2.6" fill="#7f7f86"/>
<rect x="667.16" y="539.49" width="2.6" height="2.6" fill="#7f7f86"/>
<line x1="670.23" y1="544.05" x2="670.23" y2="540.16" stroke="#7f7f86" stroke-width="0.6"/>
<rect x="668.93" y="540.8" width="2.6" height="2.6" fill="#7f7f86"/>
<line x1="671.99" y1="543.3" x2="671.99" y2="538.6" stroke="#7f7f86" stroke-width="0.6"/>
<rect x="670.69" y="539.65" width="2.6" height="2.6" fill="#7f7f86"/>
<rect x="672.45" y="537.23" width="2.6" height="2.6" fill="#7f7f86"/>
<polyline points="559.19,535 560.95,535.67 562.71,537.24 564.47,538.38 566.24,539.29 568,537.51 569.76,528.73 571.52,518.66 573.29,519.7 575.05,509.58 576.81,502.12 578.57,501.39 580.34,497.71 582.1,497.45 583.86,496.87 585.62,492.3 587.39,498.34 589.15,491.65 590.91,493.92 592.67,491.86 594.44,488.38 596.2,487.94 597.96,491.92 599.72,487.96 601.49,485.63 603.25,484.78 605.01,486.88 606.77,488.35 608.54,488.65 610.3,487.34 612.06,487.41 613.82,490.16 615.59,493.28 617.35,495.97 619.11,497.06 620.87,495.89 622.64,497.7 624.4,499.03 626.16,499.59 627.92,499.41 629.69,500.6 631.45,504.47 633.21,499.1 634.97,499.21 636.74,503.73 638.5,504.88 640.26,501.68 642.02,502.44 643.79,505.9 645.55,506.14 647.31,506.02 649.07,509.04 650.84,510.45 652.6,508.51 654.36,508.12 656.12,514.32 657.89,514.02 659.65,510.99 661.41,514.25 663.17,515.83 664.94,517.3 666.7,515.93 668.46,514.99 670.23,515.23 671.99,515.69 673.75,512.88" fill="none" stroke="#2cc530" stroke-width="1.4" stroke-linejoin="round"/>
<circle cx="559.19" cy="535" r="1.45" fill="#2cc530"/>
<circle cx="560.95" cy="535.67" r="1.45" fill="#2cc530"/>
<line x1="562.71" y1="539.91" x2="562.71" y2="534.56" stroke="#2cc530" stroke-width="0.6"/>
<circle cx="562.71" cy="537.24" r="1.45" fill="#2cc530"/>
<circle cx="564.47" cy="538.38" r="1.45" fill="#2cc530"/>
<line x1="566.24" y1="541.93" x2="566.24" y2="536.65" stroke="#2cc530" stroke-width="0.6"/>
<circle cx="566.24" cy="539.29" r="1.45" fill="#2cc530"/>
<line x1="568" y1="538.73" x2="568" y2="536.29" stroke="#2cc530" stroke-width="0.6"/>
<circle cx="568" cy="537.51" r="1.45" fill="#2cc530"/>
<circle cx="569.76" cy="528.73" r="1.45" fill="#2cc530"/>
<circle cx="571.52" cy="518.66" r="1.45" fill="#2cc530"/>
<line x1="573.29" y1="521.1" x2="573.29" y2="518.29" stroke="#2cc530" stroke-width="0.6"/>
<circle cx="573.29" cy="519.7" r="1.45" fill="#2cc530"/>
<circle cx="575.05" cy="509.58" r="1.45" fill="#2cc530"/>
<line x1="576.81" y1="503.64" x2="576.81" y2="500.6" stroke="#2cc530" stroke-width="0.6"/>
<circle cx="576.81" cy="502.12" r="1.45" fill="#2cc530"/>
<circle cx="578.57" cy="501.39" r="1.45" fill="#2cc530"/>
<circle cx="580.34" cy="497.71" r="1.45" fill="#2cc530"/>
<line x1="582.1" y1="499.16" x2="582.1" y2="495.75" stroke="#2cc530" stroke-width="0.6"/>
<circle cx="582.1" cy="497.45" r="1.45" fill="#2cc530"/>
<circle cx="583.86" cy="496.87" r="1.45" fill="#2cc530"/>
<circle cx="585.62" cy="492.3" r="1.45" fill="#2cc530"/>
<line x1="587.39" y1="502.73" x2="587.39" y2="493.95" stroke="#2cc530" stroke-width="0.6"/>
<circle cx="587.39" cy="498.34" r="1.45" fill="#2cc530"/>
<circle cx="589.15" cy="491.65" r="1.45" fill="#2cc530"/>
<circle cx="590.91" cy="493.92" r="1.45" fill="#2cc530"/>
<line x1="592.67" y1="493.84" x2="592.67" y2="489.88" stroke="#2cc530" stroke-width="0.6"/>
<circle cx="592.67" cy="491.86" r="1.45" fill="#2cc530"/>
<line x1="594.44" y1="493.05" x2="594.44" y2="483.72" stroke="#2cc530" stroke-width="0.6"/>
<circle cx="594.44" cy="488.38" r="1.45" fill="#2cc530"/>
<line x1="596.2" y1="489.57" x2="596.2" y2="486.31" stroke="#2cc530" stroke-width="0.6"/>
<circle cx="596.2" cy="487.94" r="1.45" fill="#2cc530"/>
<circle cx="597.96" cy="491.92" r="1.45" fill="#2cc530"/>
<line x1="599.72" y1="490.78" x2="599.72" y2="485.15" stroke="#2cc530" stroke-width="0.6"/>
<circle cx="599.72" cy="487.96" r="1.45" fill="#2cc530"/>
<circle cx="601.49" cy="485.63" r="1.45" fill="#2cc530"/>
<circle cx="603.25" cy="484.78" r="1.45" fill="#2cc530"/>
<line x1="605.01" y1="488.7" x2="605.01" y2="485.06" stroke="#2cc530" stroke-width="0.6"/>
<circle cx="605.01" cy="486.88" r="1.45" fill="#2cc530"/>
<line x1="606.77" y1="489.65" x2="606.77" y2="487.06" stroke="#2cc530" stroke-width="0.6"/>
<circle cx="606.77" cy="488.35" r="1.45" fill="#2cc530"/>
<line x1="608.54" y1="490.15" x2="608.54" y2="487.15" stroke="#2cc530" stroke-width="0.6"/>
<circle cx="608.54" cy="488.65" r="1.45" fill="#2cc530"/>
<circle cx="610.3" cy="487.34" r="1.45" fill="#2cc530"/>
<line x1="612.06" y1="489.43" x2="612.06" y2="485.38" stroke="#2cc530" stroke-width="0.6"/>
<circle cx="612.06" cy="487.41" r="1.45" fill="#2cc530"/>
<circle cx="613.82" cy="490.16" r="1.45" fill="#2cc530"/>
<circle cx="615.59" cy="493.28" r="1.45" fill="#2cc530"/>
<circle cx="617.35" cy="495.97" r="1.45" fill="#2cc530"/>
<circle cx="619.11" cy="497.06" r="1.45" fill="#2cc530"/>
<line x1="620.87" y1="497.29" x2="620.87" y2="494.49" stroke="#2cc530" stroke-width="0.6"/>
<circle cx="620.87" cy="495.89" r="1.45" fill="#2cc530"/>
<line x1="622.64" y1="501.32" x2="622.64" y2="494.08" stroke="#2cc530" stroke-width="0.6"/>
<circle cx="622.64" cy="497.7" r="1.45" fill="#2cc530"/>
<line x1="624.4" y1="500.65" x2="624.4" y2="497.41" stroke="#2cc530" stroke-width="0.6"/>
<circle cx="624.4" cy="499.03" r="1.45" fill="#2cc530"/>
<circle cx="626.16" cy="499.59" r="1.45" fill="#2cc530"/>
<circle cx="627.92" cy="499.41" r="1.45" fill="#2cc530"/>
<line x1="629.69" y1="501.96" x2="629.69" y2="499.24" stroke="#2cc530" stroke-width="0.6"/>
<circle cx="629.69" cy="500.6" r="1.45" fill="#2cc530"/>
<circle cx="631.45" cy="504.47" r="1.45" fill="#2cc530"/>
<circle cx="633.21" cy="499.1" r="1.45" fill="#2cc530"/>
<circle cx="634.97" cy="499.21" r="1.45" fill="#2cc530"/>
<circle cx="636.74" cy="503.73" r="1.45" fill="#2cc530"/>
<line x1="638.5" y1="507.63" x2="638.5" y2="502.14" stroke="#2cc530" stroke-width="0.6"/>
<circle cx="638.5" cy="504.88" r="1.45" fill="#2cc530"/>
<line x1="640.26" y1="503.34" x2="640.26" y2="500.03" stroke="#2cc530" stroke-width="0.6"/>
<circle cx="640.26" cy="501.68" r="1.45" fill="#2cc530"/>
<circle cx="642.02" cy="502.44" r="1.45" fill="#2cc530"/>
<circle cx="643.79" cy="505.9" r="1.45" fill="#2cc530"/>
<circle cx="645.55" cy="506.14" r="1.45" fill="#2cc530"/>
<line x1="647.31" y1="509.06" x2="647.31" y2="502.97" stroke="#2cc530" stroke-width="0.6"/>
<circle cx="647.31" cy="506.02" r="1.45" fill="#2cc530"/>
<line x1="649.07" y1="510.58" x2="649.07" y2="507.49" stroke="#2cc530" stroke-width="0.6"/>
<circle cx="649.07" cy="509.04" r="1.45" fill="#2cc530"/>
<circle cx="650.84" cy="510.45" r="1.45" fill="#2cc530"/>
<line x1="652.6" y1="510.35" x2="652.6" y2="506.66" stroke="#2cc530" stroke-width="0.6"/>
<circle cx="652.6" cy="508.51" r="1.45" fill="#2cc530"/>
<circle cx="654.36" cy="508.12" r="1.45" fill="#2cc530"/>
<line x1="656.12" y1="515.65" x2="656.12" y2="513" stroke="#2cc530" stroke-width="0.6"/>
<circle cx="656.12" cy="514.32" r="1.45" fill="#2cc530"/>
<circle cx="657.89" cy="514.02" r="1.45" fill="#2cc530"/>
<line x1="659.65" y1="512.27" x2="659.65" y2="509.71" stroke="#2cc530" stroke-width="0.6"/>
<circle cx="659.65" cy="510.99" r="1.45" fill="#2cc530"/>
<circle cx="661.41" cy="514.25" r="1.45" fill="#2cc530"/>
<circle cx="663.17" cy="515.83" r="1.45" fill="#2cc530"/>
<circle cx="664.94" cy="517.3" r="1.45" fill="#2cc530"/>
<line x1="666.7" y1="517.26" x2="666.7" y2="514.6" stroke="#2cc530" stroke-width="0.6"/>
<circle cx="666.7" cy="515.93" r="1.45" fill="#2cc530"/>
<circle cx="668.46" cy="514.99" r="1.45" fill="#2cc530"/>
<circle cx="670.23" cy="515.23" r="1.45" fill="#2cc530"/>
<circle cx="671.99" cy="515.69" r="1.45" fill="#2cc530"/>
<line x1="673.75" y1="514.56" x2="673.75" y2="511.19" stroke="#2cc530" stroke-width="0.6"/>
<circle cx="673.75" cy="512.88" r="1.45" fill="#2cc530"/>
<text x="615.5" y="454.1" font-size="11.8" font-weight="bold" class="k" text-anchor="middle">G&#945;<tspan font-size="8.4" dy="2.8">i3</tspan><tspan dy="-2.8">-YFP</tspan></text>
<line x1="565.7" y1="471.3" x2="575.5" y2="471.3" stroke="#7f7f86" stroke-width="1.1"/>
<rect x="569.3" y="470" width="2.6" height="2.6" fill="#7f7f86"/>
<text x="581.3" y="474.4" font-size="9.2" font-weight="bold" class="k">Vehicle</text>
<line x1="622.5" y1="471.3" x2="632.6" y2="471.3" stroke="#2cc530" stroke-width="1.1"/>
<circle cx="627.55" cy="471.3" r="1.5" fill="#2cc530"/>
<text x="638" y="474.4" font-size="9.2" font-weight="bold" class="k">WNT-9B</text>
<text x="616" y="585.6" font-size="11.6" font-weight="bold" class="k" text-anchor="middle">Time (min)</text>
<text transform="translate(523.5,506.3) rotate(-90)" font-size="11.5" font-weight="bold" class="k" text-anchor="middle">Normalized BRET</text>
<text x="1.2" y="621.3" font-size="16.5" font-weight="bold" fill="#000" text-anchor="start" >j</text>
<text transform="translate(37.3,739.9) scale(0.94,1)" font-size="10.6" font-weight="bold" text-anchor="end" stroke="#000" stroke-width="0.3">-0.02</text>
<text transform="translate(37.3,721.36) scale(0.94,1)" font-size="10.6" font-weight="bold" text-anchor="end" stroke="#000" stroke-width="0.3">0.00</text>
<text transform="translate(37.3,702.82) scale(0.94,1)" font-size="10.6" font-weight="bold" text-anchor="end" stroke="#000" stroke-width="0.3">0.02</text>
<text transform="translate(37.3,684.28) scale(0.94,1)" font-size="10.6" font-weight="bold" text-anchor="end" stroke="#000" stroke-width="0.3">0.04</text>
<text transform="translate(37.3,665.74) scale(0.94,1)" font-size="10.6" font-weight="bold" text-anchor="end" stroke="#000" stroke-width="0.3">0.06</text>
<text transform="translate(37.3,647.2) scale(0.94,1)" font-size="10.6" font-weight="bold" text-anchor="end" stroke="#000" stroke-width="0.3">0.08</text>
<text transform="translate(54.1,751.4) scale(1.0,1)" font-size="10.1" font-weight="bold" text-anchor="middle" stroke="#000" stroke-width="0.3">0</text>
<text transform="translate(89.35,751.4) scale(1.0,1)" font-size="10.1" font-weight="bold" text-anchor="middle" stroke="#000" stroke-width="0.3">3</text>
<text transform="translate(124.6,751.4) scale(1.0,1)" font-size="10.1" font-weight="bold" text-anchor="middle" stroke="#000" stroke-width="0.3">6</text>
<text transform="translate(159.85,751.4) scale(1.0,1)" font-size="10.1" font-weight="bold" text-anchor="middle" stroke="#000" stroke-width="0.3">9</text>
<path d="M43.6,642.7 V736 H160.45" fill="none" stroke="#000" stroke-width="1.65"/>
<line x1="39.2" y1="736" x2="43.6" y2="736" stroke="#000" stroke-width="1.6"/>
<line x1="39.2" y1="717.46" x2="43.6" y2="717.46" stroke="#000" stroke-width="1.6"/>
<line x1="39.2" y1="698.92" x2="43.6" y2="698.92" stroke="#000" stroke-width="1.6"/>
<line x1="39.2" y1="680.38" x2="43.6" y2="680.38" stroke="#000" stroke-width="1.6"/>
<line x1="39.2" y1="661.84" x2="43.6" y2="661.84" stroke="#000" stroke-width="1.6"/>
<line x1="39.2" y1="643.3" x2="43.6" y2="643.3" stroke="#000" stroke-width="1.6"/>
<line x1="54.1" y1="736" x2="54.1" y2="740.4" stroke="#000" stroke-width="1.6"/>
<line x1="89.35" y1="736" x2="89.35" y2="740.4" stroke="#000" stroke-width="1.6"/>
<line x1="124.6" y1="736" x2="124.6" y2="740.4" stroke="#000" stroke-width="1.6"/>
<line x1="159.85" y1="736" x2="159.85" y2="740.4" stroke="#000" stroke-width="1.6"/>
<line x1="54.1" y1="717.46" x2="159.85" y2="717.46" stroke="#222" stroke-width="1.0" stroke-dasharray="1.1,1.75"/>
<polyline points="45.29,718.87 47.05,719.18 48.81,718.76 50.57,720.42 52.34,719.48 54.1,721.24 55.86,710.61 57.62,711.23 59.39,712.88 61.15,714.69 62.91,715.42 64.67,713.02 66.44,715.52 68.2,718.29 69.96,711.76 71.72,718 73.49,717.26 75.25,717.15 77.01,719 78.77,717.12 80.54,718.08 82.3,717.59 84.06,716.55 85.82,718 87.59,715.53 89.35,713.47 91.11,712.98 92.87,712.73 94.64,714.31 96.4,712.91 98.16,712.14 99.92,712.89 101.69,716.25 103.45,716.32 105.21,713.03 106.97,711.33 108.74,712.16 110.5,710.71 112.26,711.5 114.02,711.47 115.79,711.32 117.55,711.35 119.31,712.07 121.07,709.27 122.84,710.33 124.6,708.86 126.36,708.53 128.12,709.44 129.89,707.61 131.65,709.91 133.41,708.59 135.17,707.29 136.94,707.51 138.7,707.5 140.46,709.61 142.22,707.27 143.99,708.35 145.75,706.59 147.51,708.52 149.27,706.17 151.04,707.69 152.8,707.29 154.56,708.66 156.32,708.68 158.09,708.65 159.85,706.98" fill="none" stroke="#7f7f86" stroke-width="1.9" stroke-linejoin="round"/>
<rect x="43.99" y="717.57" width="2.6" height="2.6" fill="#7f7f86"/>
<rect x="45.75" y="717.88" width="2.6" height="2.6" fill="#7f7f86"/>
<line x1="48.81" y1="720.38" x2="48.81" y2="717.13" stroke="#7f7f86" stroke-width="0.6"/>
<rect x="47.51" y="717.46" width="2.6" height="2.6" fill="#7f7f86"/>
<rect x="49.27" y="719.12" width="2.6" height="2.6" fill="#7f7f86"/>
<rect x="51.04" y="718.18" width="2.6" height="2.6" fill="#7f7f86"/>
<rect x="52.8" y="719.94" width="2.6" height="2.6" fill="#7f7f86"/>
<line x1="55.86" y1="712.56" x2="55.86" y2="708.65" stroke="#7f7f86" stroke-width="0.6"/>
<rect x="54.56" y="709.31" width="2.6" height="2.6" fill="#7f7f86"/>
<line x1="57.62" y1="713.33" x2="57.62" y2="709.13" stroke="#7f7f86" stroke-width="0.6"/>
<rect x="56.32" y="709.93" width="2.6" height="2.6" fill="#7f7f86"/>
<rect x="58.09" y="711.58" width="2.6" height="2.6" fill="#7f7f86"/>
<line x1="61.15" y1="718.53" x2="61.15" y2="710.86" stroke="#7f7f86" stroke-width="0.6"/>
<rect x="59.85" y="713.39" width="2.6" height="2.6" fill="#7f7f86"/>
<line x1="62.91" y1="718.21" x2="62.91" y2="712.62" stroke="#7f7f86" stroke-width="0.6"/>
<rect x="61.61" y="714.12" width="2.6" height="2.6" fill="#7f7f86"/>
<line x1="64.67" y1="716.53" x2="64.67" y2="709.52" stroke="#7f7f86" stroke-width="0.6"/>
<rect x="63.37" y="711.72" width="2.6" height="2.6" fill="#7f7f86"/>
<rect x="65.14" y="714.22" width="2.6" height="2.6" fill="#7f7f86"/>
<rect x="66.9" y="716.99" width="2.6" height="2.6" fill="#7f7f86"/>
<line x1="69.96" y1="713.24" x2="69.96" y2="710.27" stroke="#7f7f86" stroke-width="0.6"/>
<rect x="68.66" y="710.46" width="2.6" height="2.6" fill="#7f7f86"/>
<line x1="71.72" y1="719.66" x2="71.72" y2="716.34" stroke="#7f7f86" stroke-width="0.6"/>
<rect x="70.42" y="716.7" width="2.6" height="2.6" fill="#7f7f86"/>
<line x1="73.49" y1="721.24" x2="73.49" y2="713.29" stroke="#7f7f86" stroke-width="0.6"/>
<rect x="72.19" y="715.96" width="2.6" height="2.6" fill="#7f7f86"/>
<rect x="73.95" y="715.85" width="2.6" height="2.6" fill="#7f7f86"/>
<line x1="77.01" y1="720.43" x2="77.01" y2="717.56" stroke="#7f7f86" stroke-width="0.6"/>
<rect x="75.71" y="717.7" width="2.6" height="2.6" fill="#7f7f86"/>
<rect x="77.47" y="715.82" width="2.6" height="2.6" fill="#7f7f86"/>
<line x1="80.54" y1="720.23" x2="80.54" y2="715.92" stroke="#7f7f86" stroke-width="0.6"/>
<rect x="79.24" y="716.78" width="2.6" height="2.6" fill="#7f7f86"/>
<rect x="81" y="716.29" width="2.6" height="2.6" fill="#7f7f86"/>
<rect x="82.76" y="715.25" width="2.6" height="2.6" fill="#7f7f86"/>
<line x1="85.82" y1="719.46" x2="85.82" y2="716.53" stroke="#7f7f86" stroke-width="0.6"/>
<rect x="84.52" y="716.7" width="2.6" height="2.6" fill="#7f7f86"/>
<rect x="86.29" y="714.23" width="2.6" height="2.6" fill="#7f7f86"/>
<line x1="89.35" y1="715.12" x2="89.35" y2="711.83" stroke="#7f7f86" stroke-width="0.6"/>
<rect x="88.05" y="712.17" width="2.6" height="2.6" fill="#7f7f86"/>
<rect x="89.81" y="711.68" width="2.6" height="2.6" fill="#7f7f86"/>
<line x1="92.87" y1="715.37" x2="92.87" y2="710.08" stroke="#7f7f86" stroke-width="0.6"/>
<rect x="91.57" y="711.43" width="2.6" height="2.6" fill="#7f7f86"/>
<rect x="93.34" y="713.01" width="2.6" height="2.6" fill="#7f7f86"/>
<rect x="95.1" y="711.61" width="2.6" height="2.6" fill="#7f7f86"/>
<rect x="96.86" y="710.84" width="2.6" height="2.6" fill="#7f7f86"/>
<line x1="99.92" y1="716.51" x2="99.92" y2="709.27" stroke="#7f7f86" stroke-width="0.6"/>
<rect x="98.62" y="711.59" width="2.6" height="2.6" fill="#7f7f86"/>
<line x1="101.69" y1="719.01" x2="101.69" y2="713.5" stroke="#7f7f86" stroke-width="0.6"/>
<rect x="100.39" y="714.95" width="2.6" height="2.6" fill="#7f7f86"/>
<line x1="103.45" y1="717.61" x2="103.45" y2="715.03" stroke="#7f7f86" stroke-width="0.6"/>
<rect x="102.15" y="715.02" width="2.6" height="2.6" fill="#7f7f86"/>
<line x1="105.21" y1="714.35" x2="105.21" y2="711.72" stroke="#7f7f86" stroke-width="0.6"/>
<rect x="103.91" y="711.73" width="2.6" height="2.6" fill="#7f7f86"/>
<rect x="105.67" y="710.03" width="2.6" height="2.6" fill="#7f7f86"/>
<rect x="107.44" y="710.86" width="2.6" height="2.6" fill="#7f7f86"/>
<rect x="109.2" y="709.41" width="2.6" height="2.6" fill="#7f7f86"/>
<rect x="110.96" y="710.2" width="2.6" height="2.6" fill="#7f7f86"/>
<rect x="112.72" y="710.17" width="2.6" height="2.6" fill="#7f7f86"/>
<line x1="115.79" y1="712.51" x2="115.79" y2="710.13" stroke="#7f7f86" stroke-width="0.6"/>
<rect x="114.49" y="710.02" width="2.6" height="2.6" fill="#7f7f86"/>
<rect x="116.25" y="710.05" width="2.6" height="2.6" fill="#7f7f86"/>
<line x1="119.31" y1="713.75" x2="119.31" y2="710.38" stroke="#7f7f86" stroke-width="0.6"/>
<rect x="118.01" y="710.77" width="2.6" height="2.6" fill="#7f7f86"/>
<line x1="121.07" y1="710.55" x2="121.07" y2="707.99" stroke="#7f7f86" stroke-width="0.6"/>
<rect x="119.77" y="707.97" width="2.6" height="2.6" fill="#7f7f86"/>
<line x1="122.84" y1="711.71" x2="122.84" y2="708.94" stroke="#7f7f86" stroke-width="0.6"/>
<rect x="121.54" y="709.03" width="2.6" height="2.6" fill="#7f7f86"/>
<rect x="123.3" y="707.56" width="2.6" height="2.6" fill="#7f7f86"/>
<rect x="125.06" y="707.23" width="2.6" height="2.6" fill="#7f7f86"/>
<line x1="128.12" y1="710.77" x2="128.12" y2="708.12" stroke="#7f7f86" stroke-width="0.6"/>
<rect x="126.82" y="708.14" width="2.6" height="2.6" fill="#7f7f86"/>
<rect x="128.59" y="706.31" width="2.6" height="2.6" fill="#7f7f86"/>
<line x1="131.65" y1="711.33" x2="131.65" y2="708.49" stroke="#7f7f86" stroke-width="0.6"/>
<rect x="130.35" y="708.61" width="2.6" height="2.6" fill="#7f7f86"/>
<rect x="132.11" y="707.29" width="2.6" height="2.6" fill="#7f7f86"/>
<rect x="133.87" y="705.99" width="2.6" height="2.6" fill="#7f7f86"/>
<rect x="135.64" y="706.21" width="2.6" height="2.6" fill="#7f7f86"/>
<line x1="138.7" y1="708.9" x2="138.7" y2="706.1" stroke="#7f7f86" stroke-width="0.6"/>
<rect x="137.4" y="706.2" width="2.6" height="2.6" fill="#7f7f86"/>
<line x1="140.46" y1="711.35" x2="140.46" y2="707.88" stroke="#7f7f86" stroke-width="0.6"/>
<rect x="139.16" y="708.31" width="2.6" height="2.6" fill="#7f7f86"/>
<line x1="142.22" y1="708.8" x2="142.22" y2="705.74" stroke="#7f7f86" stroke-width="0.6"/>
<rect x="140.92" y="705.97" width="2.6" height="2.6" fill="#7f7f86"/>
<line x1="143.99" y1="711.23" x2="143.99" y2="705.48" stroke="#7f7f86" stroke-width="0.6"/>
<rect x="142.69" y="707.05" width="2.6" height="2.6" fill="#7f7f86"/>
<rect x="144.45" y="705.29" width="2.6" height="2.6" fill="#7f7f86"/>
<line x1="147.51" y1="709.64" x2="147.51" y2="707.4" stroke="#7f7f86" stroke-width="0.6"/>
<rect x="146.21" y="707.22" width="2.6" height="2.6" fill="#7f7f86"/>
<rect x="147.97" y="704.87" width="2.6" height="2.6" fill="#7f7f86"/>
<line x1="151.04" y1="710.17" x2="151.04" y2="705.21" stroke="#7f7f86" stroke-width="0.6"/>
<rect x="149.74" y="706.39" width="2.6" height="2.6" fill="#7f7f86"/>
<rect x="151.5" y="705.99" width="2.6" height="2.6" fill="#7f7f86"/>
<rect x="153.26" y="707.36" width="2.6" height="2.6" fill="#7f7f86"/>
<line x1="156.32" y1="710.15" x2="156.32" y2="707.21" stroke="#7f7f86" stroke-width="0.6"/>
<rect x="155.02" y="707.38" width="2.6" height="2.6" fill="#7f7f86"/>
<rect x="156.79" y="707.35" width="2.6" height="2.6" fill="#7f7f86"/>
<line x1="159.85" y1="708.5" x2="159.85" y2="705.47" stroke="#7f7f86" stroke-width="0.6"/>
<rect x="158.55" y="705.68" width="2.6" height="2.6" fill="#7f7f86"/>
<polyline points="45.29,716.92 47.05,717.71 48.81,717.82 50.57,717.64 52.34,718.82 54.1,717.48 55.86,706 57.62,702.98 59.39,702.4 61.15,701.27 62.91,704.85 64.67,701.06 66.44,699.23 68.2,698.93 69.96,698.48 71.72,698.7 73.49,701.85 75.25,701.15 77.01,697.99 78.77,697.74 80.54,699.15 82.3,700.47 84.06,704.05 85.82,700.91 87.59,701.15 89.35,706 91.11,699.14 92.87,707.23 94.64,702.54 96.4,699.52 98.16,700.85 99.92,701.61 101.69,702.02 103.45,698.98 105.21,698.14 106.97,696.93 108.74,699.64 110.5,701.19 112.26,701.59 114.02,700.61 115.79,698.84 117.55,702.23 119.31,704.4 121.07,704.25 122.84,699.82 124.6,699.05 126.36,699.89 128.12,701.56 129.89,703.15 131.65,700.62 133.41,697.41 135.17,698.5 136.94,702.46 138.7,701.93 140.46,701.43 142.22,700.16 143.99,699.25 145.75,700.79 147.51,702.31 149.27,701.08 151.04,701.92 152.8,700.33 154.56,698.77 156.32,701.96 158.09,701.96 159.85,699.84" fill="none" stroke="#3aa6e6" stroke-width="1.4" stroke-linejoin="round"/>
<line x1="45.29" y1="718.15" x2="45.29" y2="715.7" stroke="#3aa6e6" stroke-width="0.6"/>
<circle cx="45.29" cy="716.92" r="1.45" fill="#3aa6e6"/>
<circle cx="47.05" cy="717.71" r="1.45" fill="#3aa6e6"/>
<line x1="48.81" y1="721.39" x2="48.81" y2="714.25" stroke="#3aa6e6" stroke-width="0.6"/>
<circle cx="48.81" cy="717.82" r="1.45" fill="#3aa6e6"/>
<circle cx="50.57" cy="717.64" r="1.45" fill="#3aa6e6"/>
<circle cx="52.34" cy="718.82" r="1.45" fill="#3aa6e6"/>
<line x1="54.1" y1="719.5" x2="54.1" y2="715.47" stroke="#3aa6e6" stroke-width="0.6"/>
<circle cx="54.1" cy="717.48" r="1.45" fill="#3aa6e6"/>
<circle cx="55.86" cy="706" r="1.45" fill="#3aa6e6"/>
<circle cx="57.62" cy="702.98" r="1.45" fill="#3aa6e6"/>
<circle cx="59.39" cy="702.4" r="1.45" fill="#3aa6e6"/>
<line x1="61.15" y1="702.86" x2="61.15" y2="699.67" stroke="#3aa6e6" stroke-width="0.6"/>
<circle cx="61.15" cy="701.27" r="1.45" fill="#3aa6e6"/>
<line x1="62.91" y1="707.58" x2="62.91" y2="702.11" stroke="#3aa6e6" stroke-width="0.6"/>
<circle cx="62.91" cy="704.85" r="1.45" fill="#3aa6e6"/>
<circle cx="64.67" cy="701.06" r="1.45" fill="#3aa6e6"/>
<line x1="66.44" y1="700.38" x2="66.44" y2="698.09" stroke="#3aa6e6" stroke-width="0.6"/>
<circle cx="66.44" cy="699.23" r="1.45" fill="#3aa6e6"/>
<line x1="68.2" y1="700.8" x2="68.2" y2="697.06" stroke="#3aa6e6" stroke-width="0.6"/>
<circle cx="68.2" cy="698.93" r="1.45" fill="#3aa6e6"/>
<circle cx="69.96" cy="698.48" r="1.45" fill="#3aa6e6"/>
<circle cx="71.72" cy="698.7" r="1.45" fill="#3aa6e6"/>
<line x1="73.49" y1="704.25" x2="73.49" y2="699.45" stroke="#3aa6e6" stroke-width="0.6"/>
<circle cx="73.49" cy="701.85" r="1.45" fill="#3aa6e6"/>
<circle cx="75.25" cy="701.15" r="1.45" fill="#3aa6e6"/>
<line x1="77.01" y1="699.48" x2="77.01" y2="696.5" stroke="#3aa6e6" stroke-width="0.6"/>
<circle cx="77.01" cy="697.99" r="1.45" fill="#3aa6e6"/>
<line x1="78.77" y1="699.9" x2="78.77" y2="695.58" stroke="#3aa6e6" stroke-width="0.6"/>
<circle cx="78.77" cy="697.74" r="1.45" fill="#3aa6e6"/>
<circle cx="80.54" cy="699.15" r="1.45" fill="#3aa6e6"/>
<circle cx="82.3" cy="700.47" r="1.45" fill="#3aa6e6"/>
<circle cx="84.06" cy="704.05" r="1.45" fill="#3aa6e6"/>
<circle cx="85.82" cy="700.91" r="1.45" fill="#3aa6e6"/>
<circle cx="87.59" cy="701.15" r="1.45" fill="#3aa6e6"/>
<line x1="89.35" y1="707.81" x2="89.35" y2="704.19" stroke="#3aa6e6" stroke-width="0.6"/>
<circle cx="89.35" cy="706" r="1.45" fill="#3aa6e6"/>
<circle cx="91.11" cy="699.14" r="1.45" fill="#3aa6e6"/>
<circle cx="92.87" cy="707.23" r="1.45" fill="#3aa6e6"/>
<circle cx="94.64" cy="702.54" r="1.45" fill="#3aa6e6"/>
<circle cx="96.4" cy="699.52" r="1.45" fill="#3aa6e6"/>
<circle cx="98.16" cy="700.85" r="1.45" fill="#3aa6e6"/>
<line x1="99.92" y1="704.92" x2="99.92" y2="698.31" stroke="#3aa6e6" stroke-width="0.6"/>
<circle cx="99.92" cy="701.61" r="1.45" fill="#3aa6e6"/>
<circle cx="101.69" cy="702.02" r="1.45" fill="#3aa6e6"/>
<line x1="103.45" y1="700.5" x2="103.45" y2="697.46" stroke="#3aa6e6" stroke-width="0.6"/>
<circle cx="103.45" cy="698.98" r="1.45" fill="#3aa6e6"/>
<circle cx="105.21" cy="698.14" r="1.45" fill="#3aa6e6"/>
<line x1="106.97" y1="699.79" x2="106.97" y2="694.07" stroke="#3aa6e6" stroke-width="0.6"/>
<circle cx="106.97" cy="696.93" r="1.45" fill="#3aa6e6"/>
<line x1="108.74" y1="700.99" x2="108.74" y2="698.29" stroke="#3aa6e6" stroke-width="0.6"/>
<circle cx="108.74" cy="699.64" r="1.45" fill="#3aa6e6"/>
<line x1="110.5" y1="702.99" x2="110.5" y2="699.39" stroke="#3aa6e6" stroke-width="0.6"/>
<circle cx="110.5" cy="701.19" r="1.45" fill="#3aa6e6"/>
<line x1="112.26" y1="703.46" x2="112.26" y2="699.71" stroke="#3aa6e6" stroke-width="0.6"/>
<circle cx="112.26" cy="701.59" r="1.45" fill="#3aa6e6"/>
<circle cx="114.02" cy="700.61" r="1.45" fill="#3aa6e6"/>
<line x1="115.79" y1="700.64" x2="115.79" y2="697.03" stroke="#3aa6e6" stroke-width="0.6"/>
<circle cx="115.79" cy="698.84" r="1.45" fill="#3aa6e6"/>
<circle cx="117.55" cy="702.23" r="1.45" fill="#3aa6e6"/>
<line x1="119.31" y1="706.57" x2="119.31" y2="702.23" stroke="#3aa6e6" stroke-width="0.6"/>
<circle cx="119.31" cy="704.4" r="1.45" fill="#3aa6e6"/>
<circle cx="121.07" cy="704.25" r="1.45" fill="#3aa6e6"/>
<circle cx="122.84" cy="699.82" r="1.45" fill="#3aa6e6"/>
<circle cx="124.6" cy="699.05" r="1.45" fill="#3aa6e6"/>
<circle cx="126.36" cy="699.89" r="1.45" fill="#3aa6e6"/>
<circle cx="128.12" cy="701.56" r="1.45" fill="#3aa6e6"/>
<circle cx="129.89" cy="703.15" r="1.45" fill="#3aa6e6"/>
<line x1="131.65" y1="702.66" x2="131.65" y2="698.58" stroke="#3aa6e6" stroke-width="0.6"/>
<circle cx="131.65" cy="700.62" r="1.45" fill="#3aa6e6"/>
<circle cx="133.41" cy="697.41" r="1.45" fill="#3aa6e6"/>
<line x1="135.17" y1="700.7" x2="135.17" y2="696.29" stroke="#3aa6e6" stroke-width="0.6"/>
<circle cx="135.17" cy="698.5" r="1.45" fill="#3aa6e6"/>
<line x1="136.94" y1="704" x2="136.94" y2="700.92" stroke="#3aa6e6" stroke-width="0.6"/>
<circle cx="136.94" cy="702.46" r="1.45" fill="#3aa6e6"/>
<line x1="138.7" y1="704.05" x2="138.7" y2="699.82" stroke="#3aa6e6" stroke-width="0.6"/>
<circle cx="138.7" cy="701.93" r="1.45" fill="#3aa6e6"/>
<circle cx="140.46" cy="701.43" r="1.45" fill="#3aa6e6"/>
<line x1="142.22" y1="702.02" x2="142.22" y2="698.3" stroke="#3aa6e6" stroke-width="0.6"/>
<circle cx="142.22" cy="700.16" r="1.45" fill="#3aa6e6"/>
<line x1="143.99" y1="702.06" x2="143.99" y2="696.44" stroke="#3aa6e6" stroke-width="0.6"/>
<circle cx="143.99" cy="699.25" r="1.45" fill="#3aa6e6"/>
<circle cx="145.75" cy="700.79" r="1.45" fill="#3aa6e6"/>
<circle cx="147.51" cy="702.31" r="1.45" fill="#3aa6e6"/>
<line x1="149.27" y1="702.33" x2="149.27" y2="699.83" stroke="#3aa6e6" stroke-width="0.6"/>
<circle cx="149.27" cy="701.08" r="1.45" fill="#3aa6e6"/>
<circle cx="151.04" cy="701.92" r="1.45" fill="#3aa6e6"/>
<circle cx="152.8" cy="700.33" r="1.45" fill="#3aa6e6"/>
<line x1="154.56" y1="700.15" x2="154.56" y2="697.39" stroke="#3aa6e6" stroke-width="0.6"/>
<circle cx="154.56" cy="698.77" r="1.45" fill="#3aa6e6"/>
<circle cx="156.32" cy="701.96" r="1.45" fill="#3aa6e6"/>
<circle cx="158.09" cy="701.96" r="1.45" fill="#3aa6e6"/>
<circle cx="159.85" cy="699.84" r="1.45" fill="#3aa6e6"/>
<text x="101.6" y="636" font-size="11.8" font-weight="bold" class="k" text-anchor="middle">G&#945;<tspan font-size="8.4" dy="2.8">q</tspan><tspan dy="-2.8"> ONE-GO</tspan></text>
<line x1="52" y1="649.9" x2="62.8" y2="649.9" stroke="#7f7f86" stroke-width="1.1"/>
<rect x="56.1" y="648.6" width="2.6" height="2.6" fill="#7f7f86"/>
<text x="68.2" y="653" font-size="9.2" font-weight="bold" class="k">- PKD1</text>
<line x1="104.2" y1="649.9" x2="114.4" y2="649.9" stroke="#3aa6e6" stroke-width="1.1"/>
<circle cx="109.3" cy="649.9" r="1.5" fill="#3aa6e6"/>
<text x="119.6" y="653" font-size="9.2" font-weight="bold" class="k">+ PKD1</text>
<text x="102.1" y="766.7" font-size="11.6" font-weight="bold" class="k" text-anchor="middle">Time (min)</text>
<text transform="translate(9.2,688.25) rotate(-90)" font-size="11.5" font-weight="bold" class="k" text-anchor="middle">&#916;BRET</text>
<text x="172.7" y="621.3" font-size="16.5" font-weight="bold" fill="#000" text-anchor="start" >k</text>
<text transform="translate(209.5,739.9) scale(0.94,1)" font-size="10.6" font-weight="bold" text-anchor="end" stroke="#000" stroke-width="0.3">-0.02</text>
<text transform="translate(209.5,721.36) scale(0.94,1)" font-size="10.6" font-weight="bold" text-anchor="end" stroke="#000" stroke-width="0.3">0.00</text>
<text transform="translate(209.5,702.82) scale(0.94,1)" font-size="10.6" font-weight="bold" text-anchor="end" stroke="#000" stroke-width="0.3">0.02</text>
<text transform="translate(209.5,684.28) scale(0.94,1)" font-size="10.6" font-weight="bold" text-anchor="end" stroke="#000" stroke-width="0.3">0.04</text>
<text transform="translate(209.5,665.74) scale(0.94,1)" font-size="10.6" font-weight="bold" text-anchor="end" stroke="#000" stroke-width="0.3">0.06</text>
<text transform="translate(209.5,647.2) scale(0.94,1)" font-size="10.6" font-weight="bold" text-anchor="end" stroke="#000" stroke-width="0.3">0.08</text>
<text transform="translate(226.3,751.4) scale(1.0,1)" font-size="10.1" font-weight="bold" text-anchor="middle" stroke="#000" stroke-width="0.3">0</text>
<text transform="translate(261.55,751.4) scale(1.0,1)" font-size="10.1" font-weight="bold" text-anchor="middle" stroke="#000" stroke-width="0.3">3</text>
<text transform="translate(296.8,751.4) scale(1.0,1)" font-size="10.1" font-weight="bold" text-anchor="middle" stroke="#000" stroke-width="0.3">6</text>
<text transform="translate(332.05,751.4) scale(1.0,1)" font-size="10.1" font-weight="bold" text-anchor="middle" stroke="#000" stroke-width="0.3">9</text>
<path d="M215.8,642.7 V736 H332.65" fill="none" stroke="#000" stroke-width="1.65"/>
<line x1="211.4" y1="736" x2="215.8" y2="736" stroke="#000" stroke-width="1.6"/>
<line x1="211.4" y1="717.46" x2="215.8" y2="717.46" stroke="#000" stroke-width="1.6"/>
<line x1="211.4" y1="698.92" x2="215.8" y2="698.92" stroke="#000" stroke-width="1.6"/>
<line x1="211.4" y1="680.38" x2="215.8" y2="680.38" stroke="#000" stroke-width="1.6"/>
<line x1="211.4" y1="661.84" x2="215.8" y2="661.84" stroke="#000" stroke-width="1.6"/>
<line x1="211.4" y1="643.3" x2="215.8" y2="643.3" stroke="#000" stroke-width="1.6"/>
<line x1="226.3" y1="736" x2="226.3" y2="740.4" stroke="#000" stroke-width="1.6"/>
<line x1="261.55" y1="736" x2="261.55" y2="740.4" stroke="#000" stroke-width="1.6"/>
<line x1="296.8" y1="736" x2="296.8" y2="740.4" stroke="#000" stroke-width="1.6"/>
<line x1="332.05" y1="736" x2="332.05" y2="740.4" stroke="#000" stroke-width="1.6"/>
<line x1="226.3" y1="717.46" x2="332.05" y2="717.46" stroke="#222" stroke-width="1.0" stroke-dasharray="1.1,1.75"/>
<polyline points="217.49,718.46 219.25,719.47 221.01,717.58 222.77,718.56 224.54,718.75 226.3,719.13 228.06,711.46 229.82,711.68 231.59,709.11 233.35,710.88 235.11,705.42 236.87,712.24 238.64,711.03 240.4,710.78 242.16,706.24 243.92,703.1 245.69,703.56 247.45,701.33 249.21,709.31 250.97,716.42 252.74,710.17 254.5,707.7 256.26,710.08 258.02,708.62 259.79,707.56 261.55,708.18 263.31,709.51 265.07,712 266.84,714.44 268.6,712.79 270.36,704.79 272.12,716.52 273.89,713.64 275.65,713.9 277.41,715.53 279.17,714.88 280.94,714.25 282.7,714.49 284.46,713.96 286.22,715.18 287.99,712.41 289.75,713.96 291.51,714.51 293.27,709.89 295.04,713.99 296.8,714 298.56,716.28 300.32,712.97 302.09,715.26 303.85,714.69 305.61,712.41 307.37,712.58 309.14,714.33 310.9,712.28 312.66,712.32 314.42,713.03 316.19,714.31 317.95,712.29 319.71,715.38 321.47,712.6 323.24,713.27 325,715.21 326.76,715.04 328.52,709.83 330.29,716.68 332.05,713.61" fill="none" stroke="#7f7f86" stroke-width="1.9" stroke-linejoin="round"/>
<rect x="216.19" y="717.16" width="2.6" height="2.6" fill="#7f7f86"/>
<rect x="217.95" y="718.17" width="2.6" height="2.6" fill="#7f7f86"/>
<rect x="219.71" y="716.28" width="2.6" height="2.6" fill="#7f7f86"/>
<line x1="222.77" y1="719.89" x2="222.77" y2="717.24" stroke="#7f7f86" stroke-width="0.6"/>
<rect x="221.47" y="717.26" width="2.6" height="2.6" fill="#7f7f86"/>
<rect x="223.24" y="717.45" width="2.6" height="2.6" fill="#7f7f86"/>
<rect x="225" y="717.83" width="2.6" height="2.6" fill="#7f7f86"/>
<line x1="228.06" y1="713.38" x2="228.06" y2="709.55" stroke="#7f7f86" stroke-width="0.6"/>
<rect x="226.76" y="710.16" width="2.6" height="2.6" fill="#7f7f86"/>
<rect x="228.52" y="710.38" width="2.6" height="2.6" fill="#7f7f86"/>
<rect x="230.29" y="707.81" width="2.6" height="2.6" fill="#7f7f86"/>
<rect x="232.05" y="709.58" width="2.6" height="2.6" fill="#7f7f86"/>
<line x1="235.11" y1="707.04" x2="235.11" y2="703.81" stroke="#7f7f86" stroke-width="0.6"/>
<rect x="233.81" y="704.12" width="2.6" height="2.6" fill="#7f7f86"/>
<rect x="235.57" y="710.94" width="2.6" height="2.6" fill="#7f7f86"/>
<line x1="238.64" y1="712.67" x2="238.64" y2="709.39" stroke="#7f7f86" stroke-width="0.6"/>
<rect x="237.34" y="709.73" width="2.6" height="2.6" fill="#7f7f86"/>
<rect x="239.1" y="709.48" width="2.6" height="2.6" fill="#7f7f86"/>
<rect x="240.86" y="704.94" width="2.6" height="2.6" fill="#7f7f86"/>
<line x1="243.92" y1="704.46" x2="243.92" y2="701.74" stroke="#7f7f86" stroke-width="0.6"/>
<rect x="242.62" y="701.8" width="2.6" height="2.6" fill="#7f7f86"/>
<line x1="245.69" y1="704.96" x2="245.69" y2="702.16" stroke="#7f7f86" stroke-width="0.6"/>
<rect x="244.39" y="702.26" width="2.6" height="2.6" fill="#7f7f86"/>
<rect x="246.15" y="700.03" width="2.6" height="2.6" fill="#7f7f86"/>
<line x1="249.21" y1="711.05" x2="249.21" y2="707.57" stroke="#7f7f86" stroke-width="0.6"/>
<rect x="247.91" y="708.01" width="2.6" height="2.6" fill="#7f7f86"/>
<rect x="249.67" y="715.12" width="2.6" height="2.6" fill="#7f7f86"/>
<rect x="251.44" y="708.87" width="2.6" height="2.6" fill="#7f7f86"/>
<rect x="253.2" y="706.4" width="2.6" height="2.6" fill="#7f7f86"/>
<line x1="256.26" y1="711.28" x2="256.26" y2="708.88" stroke="#7f7f86" stroke-width="0.6"/>
<rect x="254.96" y="708.78" width="2.6" height="2.6" fill="#7f7f86"/>
<line x1="258.02" y1="710.32" x2="258.02" y2="706.91" stroke="#7f7f86" stroke-width="0.6"/>
<rect x="256.72" y="707.32" width="2.6" height="2.6" fill="#7f7f86"/>
<rect x="258.49" y="706.26" width="2.6" height="2.6" fill="#7f7f86"/>
<line x1="261.55" y1="712.03" x2="261.55" y2="704.33" stroke="#7f7f86" stroke-width="0.6"/>
<rect x="260.25" y="706.88" width="2.6" height="2.6" fill="#7f7f86"/>
<rect x="262.01" y="708.21" width="2.6" height="2.6" fill="#7f7f86"/>
<rect x="263.77" y="710.7" width="2.6" height="2.6" fill="#7f7f86"/>
<rect x="265.54" y="713.14" width="2.6" height="2.6" fill="#7f7f86"/>
<line x1="268.6" y1="714" x2="268.6" y2="711.58" stroke="#7f7f86" stroke-width="0.6"/>
<rect x="267.3" y="711.49" width="2.6" height="2.6" fill="#7f7f86"/>
<rect x="269.06" y="703.49" width="2.6" height="2.6" fill="#7f7f86"/>
<rect x="270.82" y="715.22" width="2.6" height="2.6" fill="#7f7f86"/>
<rect x="272.59" y="712.34" width="2.6" height="2.6" fill="#7f7f86"/>
<line x1="275.65" y1="715.12" x2="275.65" y2="712.67" stroke="#7f7f86" stroke-width="0.6"/>
<rect x="274.35" y="712.6" width="2.6" height="2.6" fill="#7f7f86"/>
<line x1="277.41" y1="717.61" x2="277.41" y2="713.45" stroke="#7f7f86" stroke-width="0.6"/>
<rect x="276.11" y="714.23" width="2.6" height="2.6" fill="#7f7f86"/>
<rect x="277.87" y="713.58" width="2.6" height="2.6" fill="#7f7f86"/>
<rect x="279.64" y="712.95" width="2.6" height="2.6" fill="#7f7f86"/>
<rect x="281.4" y="713.19" width="2.6" height="2.6" fill="#7f7f86"/>
<rect x="283.16" y="712.66" width="2.6" height="2.6" fill="#7f7f86"/>
<rect x="284.92" y="713.88" width="2.6" height="2.6" fill="#7f7f86"/>
<rect x="286.69" y="711.11" width="2.6" height="2.6" fill="#7f7f86"/>
<rect x="288.45" y="712.66" width="2.6" height="2.6" fill="#7f7f86"/>
<line x1="291.51" y1="717.57" x2="291.51" y2="711.45" stroke="#7f7f86" stroke-width="0.6"/>
<rect x="290.21" y="713.21" width="2.6" height="2.6" fill="#7f7f86"/>
<line x1="293.27" y1="711.3" x2="293.27" y2="708.48" stroke="#7f7f86" stroke-width="0.6"/>
<rect x="291.97" y="708.59" width="2.6" height="2.6" fill="#7f7f86"/>
<rect x="293.74" y="712.69" width="2.6" height="2.6" fill="#7f7f86"/>
<line x1="296.8" y1="715.57" x2="296.8" y2="712.43" stroke="#7f7f86" stroke-width="0.6"/>
<rect x="295.5" y="712.7" width="2.6" height="2.6" fill="#7f7f86"/>
<rect x="297.26" y="714.98" width="2.6" height="2.6" fill="#7f7f86"/>
<line x1="300.32" y1="714.48" x2="300.32" y2="711.47" stroke="#7f7f86" stroke-width="0.6"/>
<rect x="299.02" y="711.67" width="2.6" height="2.6" fill="#7f7f86"/>
<line x1="302.09" y1="717.39" x2="302.09" y2="713.13" stroke="#7f7f86" stroke-width="0.6"/>
<rect x="300.79" y="713.96" width="2.6" height="2.6" fill="#7f7f86"/>
<rect x="302.55" y="713.39" width="2.6" height="2.6" fill="#7f7f86"/>
<rect x="304.31" y="711.11" width="2.6" height="2.6" fill="#7f7f86"/>
<line x1="307.37" y1="714.33" x2="307.37" y2="710.84" stroke="#7f7f86" stroke-width="0.6"/>
<rect x="306.07" y="711.28" width="2.6" height="2.6" fill="#7f7f86"/>
<line x1="309.14" y1="715.47" x2="309.14" y2="713.19" stroke="#7f7f86" stroke-width="0.6"/>
<rect x="307.84" y="713.03" width="2.6" height="2.6" fill="#7f7f86"/>
<rect x="309.6" y="710.98" width="2.6" height="2.6" fill="#7f7f86"/>
<line x1="312.66" y1="714.94" x2="312.66" y2="709.71" stroke="#7f7f86" stroke-width="0.6"/>
<rect x="311.36" y="711.02" width="2.6" height="2.6" fill="#7f7f86"/>
<rect x="313.12" y="711.73" width="2.6" height="2.6" fill="#7f7f86"/>
<rect x="314.89" y="713.01" width="2.6" height="2.6" fill="#7f7f86"/>
<rect x="316.65" y="710.99" width="2.6" height="2.6" fill="#7f7f86"/>
<line x1="319.71" y1="717.03" x2="319.71" y2="713.72" stroke="#7f7f86" stroke-width="0.6"/>
<rect x="318.41" y="714.08" width="2.6" height="2.6" fill="#7f7f86"/>
<line x1="321.47" y1="715.2" x2="321.47" y2="709.99" stroke="#7f7f86" stroke-width="0.6"/>
<rect x="320.17" y="711.3" width="2.6" height="2.6" fill="#7f7f86"/>
<line x1="323.24" y1="714.4" x2="323.24" y2="712.14" stroke="#7f7f86" stroke-width="0.6"/>
<rect x="321.94" y="711.97" width="2.6" height="2.6" fill="#7f7f86"/>
<rect x="323.7" y="713.91" width="2.6" height="2.6" fill="#7f7f86"/>
<rect x="325.46" y="713.74" width="2.6" height="2.6" fill="#7f7f86"/>
<rect x="327.22" y="708.53" width="2.6" height="2.6" fill="#7f7f86"/>
<line x1="330.29" y1="719.65" x2="330.29" y2="713.72" stroke="#7f7f86" stroke-width="0.6"/>
<rect x="328.99" y="715.38" width="2.6" height="2.6" fill="#7f7f86"/>
<rect x="330.75" y="712.31" width="2.6" height="2.6" fill="#7f7f86"/>
<polyline points="217.49,718.51 219.25,716.6 221.01,716.3 222.77,716.55 224.54,719.49 226.3,717.54 228.06,702.28 229.82,697.16 231.59,694.36 233.35,694.69 235.11,692.19 236.87,694.46 238.64,695.57 240.4,693.54 242.16,691.68 243.92,692.5 245.69,695.41 247.45,693.53 249.21,696.5 250.97,693.62 252.74,693.48 254.5,694.57 256.26,700.62 258.02,697.76 259.79,695.33 261.55,698.37 263.31,699.84 265.07,697.62 266.84,698.05 268.6,698.51 270.36,697.16 272.12,698.42 273.89,698.48 275.65,701.09 277.41,700.22 279.17,697.98 280.94,697.49 282.7,698 284.46,699.2 286.22,700.23 287.99,694.38 289.75,694.28 291.51,695.43 293.27,696.9 295.04,697.24 296.8,695.76 298.56,695.97 300.32,694.87 302.09,693.35 303.85,695.73 305.61,697.18 307.37,694.08 309.14,695.09 310.9,693.8 312.66,693.56 314.42,695.64 316.19,695.07 317.95,693.97 319.71,693.94 321.47,694.35 323.24,692.22 325,693.35 326.76,693.14 328.52,693.78 330.29,693.66 332.05,692.78" fill="none" stroke="#ff7f0a" stroke-width="1.4" stroke-linejoin="round"/>
<circle cx="217.49" cy="718.51" r="1.45" fill="#ff7f0a"/>
<circle cx="219.25" cy="716.6" r="1.45" fill="#ff7f0a"/>
<circle cx="221.01" cy="716.3" r="1.45" fill="#ff7f0a"/>
<line x1="222.77" y1="718.3" x2="222.77" y2="714.81" stroke="#ff7f0a" stroke-width="0.6"/>
<circle cx="222.77" cy="716.55" r="1.45" fill="#ff7f0a"/>
<line x1="224.54" y1="722.43" x2="224.54" y2="716.55" stroke="#ff7f0a" stroke-width="0.6"/>
<circle cx="224.54" cy="719.49" r="1.45" fill="#ff7f0a"/>
<circle cx="226.3" cy="717.54" r="1.45" fill="#ff7f0a"/>
<line x1="228.06" y1="704.01" x2="228.06" y2="700.55" stroke="#ff7f0a" stroke-width="0.6"/>
<circle cx="228.06" cy="702.28" r="1.45" fill="#ff7f0a"/>
<line x1="229.82" y1="700.47" x2="229.82" y2="693.85" stroke="#ff7f0a" stroke-width="0.6"/>
<circle cx="229.82" cy="697.16" r="1.45" fill="#ff7f0a"/>
<line x1="231.59" y1="696.49" x2="231.59" y2="692.23" stroke="#ff7f0a" stroke-width="0.6"/>
<circle cx="231.59" cy="694.36" r="1.45" fill="#ff7f0a"/>
<line x1="233.35" y1="697.96" x2="233.35" y2="691.43" stroke="#ff7f0a" stroke-width="0.6"/>
<circle cx="233.35" cy="694.69" r="1.45" fill="#ff7f0a"/>
<line x1="235.11" y1="693.47" x2="235.11" y2="690.9" stroke="#ff7f0a" stroke-width="0.6"/>
<circle cx="235.11" cy="692.19" r="1.45" fill="#ff7f0a"/>
<line x1="236.87" y1="695.64" x2="236.87" y2="693.28" stroke="#ff7f0a" stroke-width="0.6"/>
<circle cx="236.87" cy="694.46" r="1.45" fill="#ff7f0a"/>
<line x1="238.64" y1="696.73" x2="238.64" y2="694.42" stroke="#ff7f0a" stroke-width="0.6"/>
<circle cx="238.64" cy="695.57" r="1.45" fill="#ff7f0a"/>
<circle cx="240.4" cy="693.54" r="1.45" fill="#ff7f0a"/>
<line x1="242.16" y1="693.8" x2="242.16" y2="689.57" stroke="#ff7f0a" stroke-width="0.6"/>
<circle cx="242.16" cy="691.68" r="1.45" fill="#ff7f0a"/>
<circle cx="243.92" cy="692.5" r="1.45" fill="#ff7f0a"/>
<circle cx="245.69" cy="695.41" r="1.45" fill="#ff7f0a"/>
<circle cx="247.45" cy="693.53" r="1.45" fill="#ff7f0a"/>
<circle cx="249.21" cy="696.5" r="1.45" fill="#ff7f0a"/>
<circle cx="250.97" cy="693.62" r="1.45" fill="#ff7f0a"/>
<line x1="252.74" y1="694.92" x2="252.74" y2="692.04" stroke="#ff7f0a" stroke-width="0.6"/>
<circle cx="252.74" cy="693.48" r="1.45" fill="#ff7f0a"/>
<line x1="254.5" y1="697.05" x2="254.5" y2="692.09" stroke="#ff7f0a" stroke-width="0.6"/>
<circle cx="254.5" cy="694.57" r="1.45" fill="#ff7f0a"/>
<line x1="256.26" y1="702.62" x2="256.26" y2="698.62" stroke="#ff7f0a" stroke-width="0.6"/>
<circle cx="256.26" cy="700.62" r="1.45" fill="#ff7f0a"/>
<line x1="258.02" y1="699.67" x2="258.02" y2="695.86" stroke="#ff7f0a" stroke-width="0.6"/>
<circle cx="258.02" cy="697.76" r="1.45" fill="#ff7f0a"/>
<circle cx="259.79" cy="695.33" r="1.45" fill="#ff7f0a"/>
<line x1="261.55" y1="699.52" x2="261.55" y2="697.21" stroke="#ff7f0a" stroke-width="0.6"/>
<circle cx="261.55" cy="698.37" r="1.45" fill="#ff7f0a"/>
<circle cx="263.31" cy="699.84" r="1.45" fill="#ff7f0a"/>
<circle cx="265.07" cy="697.62" r="1.45" fill="#ff7f0a"/>
<line x1="266.84" y1="702.01" x2="266.84" y2="694.09" stroke="#ff7f0a" stroke-width="0.6"/>
<circle cx="266.84" cy="698.05" r="1.45" fill="#ff7f0a"/>
<circle cx="268.6" cy="698.51" r="1.45" fill="#ff7f0a"/>
<circle cx="270.36" cy="697.16" r="1.45" fill="#ff7f0a"/>
<circle cx="272.12" cy="698.42" r="1.45" fill="#ff7f0a"/>
<circle cx="273.89" cy="698.48" r="1.45" fill="#ff7f0a"/>
<line x1="275.65" y1="703.31" x2="275.65" y2="698.87" stroke="#ff7f0a" stroke-width="0.6"/>
<circle cx="275.65" cy="701.09" r="1.45" fill="#ff7f0a"/>
<line x1="277.41" y1="701.37" x2="277.41" y2="699.06" stroke="#ff7f0a" stroke-width="0.6"/>
<circle cx="277.41" cy="700.22" r="1.45" fill="#ff7f0a"/>
<line x1="279.17" y1="699.39" x2="279.17" y2="696.57" stroke="#ff7f0a" stroke-width="0.6"/>
<circle cx="279.17" cy="697.98" r="1.45" fill="#ff7f0a"/>
<line x1="280.94" y1="698.71" x2="280.94" y2="696.28" stroke="#ff7f0a" stroke-width="0.6"/>
<circle cx="280.94" cy="697.49" r="1.45" fill="#ff7f0a"/>
<line x1="282.7" y1="700.45" x2="282.7" y2="695.55" stroke="#ff7f0a" stroke-width="0.6"/>
<circle cx="282.7" cy="698" r="1.45" fill="#ff7f0a"/>
<line x1="284.46" y1="702.63" x2="284.46" y2="695.77" stroke="#ff7f0a" stroke-width="0.6"/>
<circle cx="284.46" cy="699.2" r="1.45" fill="#ff7f0a"/>
<circle cx="286.22" cy="700.23" r="1.45" fill="#ff7f0a"/>
<line x1="287.99" y1="695.67" x2="287.99" y2="693.08" stroke="#ff7f0a" stroke-width="0.6"/>
<circle cx="287.99" cy="694.38" r="1.45" fill="#ff7f0a"/>
<circle cx="289.75" cy="694.28" r="1.45" fill="#ff7f0a"/>
<circle cx="291.51" cy="695.43" r="1.45" fill="#ff7f0a"/>
<line x1="293.27" y1="698.25" x2="293.27" y2="695.54" stroke="#ff7f0a" stroke-width="0.6"/>
<circle cx="293.27" cy="696.9" r="1.45" fill="#ff7f0a"/>
<circle cx="295.04" cy="697.24" r="1.45" fill="#ff7f0a"/>
<line x1="296.8" y1="697.47" x2="296.8" y2="694.05" stroke="#ff7f0a" stroke-width="0.6"/>
<circle cx="296.8" cy="695.76" r="1.45" fill="#ff7f0a"/>
<line x1="298.56" y1="698.01" x2="298.56" y2="693.92" stroke="#ff7f0a" stroke-width="0.6"/>
<circle cx="298.56" cy="695.97" r="1.45" fill="#ff7f0a"/>
<circle cx="300.32" cy="694.87" r="1.45" fill="#ff7f0a"/>
<line x1="302.09" y1="695.28" x2="302.09" y2="691.43" stroke="#ff7f0a" stroke-width="0.6"/>
<circle cx="302.09" cy="693.35" r="1.45" fill="#ff7f0a"/>
<line x1="303.85" y1="697.45" x2="303.85" y2="694.02" stroke="#ff7f0a" stroke-width="0.6"/>
<circle cx="303.85" cy="695.73" r="1.45" fill="#ff7f0a"/>
<circle cx="305.61" cy="697.18" r="1.45" fill="#ff7f0a"/>
<circle cx="307.37" cy="694.08" r="1.45" fill="#ff7f0a"/>
<circle cx="309.14" cy="695.09" r="1.45" fill="#ff7f0a"/>
<line x1="310.9" y1="696.82" x2="310.9" y2="690.78" stroke="#ff7f0a" stroke-width="0.6"/>
<circle cx="310.9" cy="693.8" r="1.45" fill="#ff7f0a"/>
<line x1="312.66" y1="695.25" x2="312.66" y2="691.87" stroke="#ff7f0a" stroke-width="0.6"/>
<circle cx="312.66" cy="693.56" r="1.45" fill="#ff7f0a"/>
<line x1="314.42" y1="697.92" x2="314.42" y2="693.35" stroke="#ff7f0a" stroke-width="0.6"/>
<circle cx="314.42" cy="695.64" r="1.45" fill="#ff7f0a"/>
<line x1="316.19" y1="696.92" x2="316.19" y2="693.22" stroke="#ff7f0a" stroke-width="0.6"/>
<circle cx="316.19" cy="695.07" r="1.45" fill="#ff7f0a"/>
<circle cx="317.95" cy="693.97" r="1.45" fill="#ff7f0a"/>
<line x1="319.71" y1="695.62" x2="319.71" y2="692.26" stroke="#ff7f0a" stroke-width="0.6"/>
<circle cx="319.71" cy="693.94" r="1.45" fill="#ff7f0a"/>
<line x1="321.47" y1="697.94" x2="321.47" y2="690.75" stroke="#ff7f0a" stroke-width="0.6"/>
<circle cx="321.47" cy="694.35" r="1.45" fill="#ff7f0a"/>
<line x1="323.24" y1="694.51" x2="323.24" y2="689.93" stroke="#ff7f0a" stroke-width="0.6"/>
<circle cx="323.24" cy="692.22" r="1.45" fill="#ff7f0a"/>
<line x1="325" y1="695.96" x2="325" y2="690.75" stroke="#ff7f0a" stroke-width="0.6"/>
<circle cx="325" cy="693.35" r="1.45" fill="#ff7f0a"/>
<circle cx="326.76" cy="693.14" r="1.45" fill="#ff7f0a"/>
<circle cx="328.52" cy="693.78" r="1.45" fill="#ff7f0a"/>
<circle cx="330.29" cy="693.66" r="1.45" fill="#ff7f0a"/>
<line x1="332.05" y1="695.68" x2="332.05" y2="689.89" stroke="#ff7f0a" stroke-width="0.6"/>
<circle cx="332.05" cy="692.78" r="1.45" fill="#ff7f0a"/>
<text x="273.8" y="636" font-size="11.8" font-weight="bold" class="k" text-anchor="middle">G&#945;<tspan font-size="8.4" dy="2.8">i1</tspan><tspan dy="-2.8"> ONE-GO</tspan></text>
<line x1="224.2" y1="649.9" x2="235" y2="649.9" stroke="#7f7f86" stroke-width="1.1"/>
<rect x="228.3" y="648.6" width="2.6" height="2.6" fill="#7f7f86"/>
<text x="240.4" y="653" font-size="9.2" font-weight="bold" class="k">- PKD1</text>
<line x1="276.4" y1="649.9" x2="286.6" y2="649.9" stroke="#ff7f0a" stroke-width="1.1"/>
<circle cx="281.5" cy="649.9" r="1.5" fill="#ff7f0a"/>
<text x="291.8" y="653" font-size="9.2" font-weight="bold" class="k">+ PKD1</text>
<text x="274.3" y="766.7" font-size="11.6" font-weight="bold" class="k" text-anchor="middle">Time (min)</text>
<text transform="translate(181.4,688.25) rotate(-90)" font-size="11.5" font-weight="bold" class="k" text-anchor="middle">&#916;BRET</text>
<text x="345.9" y="621.3" font-size="16.5" font-weight="bold" fill="#000" text-anchor="start" >l</text>
<text transform="translate(379.8,739.9) scale(0.94,1)" font-size="10.6" font-weight="bold" text-anchor="end" stroke="#000" stroke-width="0.3">-0.02</text>
<text transform="translate(379.8,721.36) scale(0.94,1)" font-size="10.6" font-weight="bold" text-anchor="end" stroke="#000" stroke-width="0.3">0.00</text>
<text transform="translate(379.8,702.82) scale(0.94,1)" font-size="10.6" font-weight="bold" text-anchor="end" stroke="#000" stroke-width="0.3">0.02</text>
<text transform="translate(379.8,684.28) scale(0.94,1)" font-size="10.6" font-weight="bold" text-anchor="end" stroke="#000" stroke-width="0.3">0.04</text>
<text transform="translate(379.8,665.74) scale(0.94,1)" font-size="10.6" font-weight="bold" text-anchor="end" stroke="#000" stroke-width="0.3">0.06</text>
<text transform="translate(379.8,647.2) scale(0.94,1)" font-size="10.6" font-weight="bold" text-anchor="end" stroke="#000" stroke-width="0.3">0.08</text>
<text transform="translate(396.6,751.4) scale(1.0,1)" font-size="10.1" font-weight="bold" text-anchor="middle" stroke="#000" stroke-width="0.3">0</text>
<text transform="translate(431.85,751.4) scale(1.0,1)" font-size="10.1" font-weight="bold" text-anchor="middle" stroke="#000" stroke-width="0.3">3</text>
<text transform="translate(467.1,751.4) scale(1.0,1)" font-size="10.1" font-weight="bold" text-anchor="middle" stroke="#000" stroke-width="0.3">6</text>
<text transform="translate(502.35,751.4) scale(1.0,1)" font-size="10.1" font-weight="bold" text-anchor="middle" stroke="#000" stroke-width="0.3">9</text>
<path d="M386.1,642.7 V736 H502.95" fill="none" stroke="#000" stroke-width="1.65"/>
<line x1="381.7" y1="736" x2="386.1" y2="736" stroke="#000" stroke-width="1.6"/>
<line x1="381.7" y1="717.46" x2="386.1" y2="717.46" stroke="#000" stroke-width="1.6"/>
<line x1="381.7" y1="698.92" x2="386.1" y2="698.92" stroke="#000" stroke-width="1.6"/>
<line x1="381.7" y1="680.38" x2="386.1" y2="680.38" stroke="#000" stroke-width="1.6"/>
<line x1="381.7" y1="661.84" x2="386.1" y2="661.84" stroke="#000" stroke-width="1.6"/>
<line x1="381.7" y1="643.3" x2="386.1" y2="643.3" stroke="#000" stroke-width="1.6"/>
<line x1="396.6" y1="736" x2="396.6" y2="740.4" stroke="#000" stroke-width="1.6"/>
<line x1="431.85" y1="736" x2="431.85" y2="740.4" stroke="#000" stroke-width="1.6"/>
<line x1="467.1" y1="736" x2="467.1" y2="740.4" stroke="#000" stroke-width="1.6"/>
<line x1="502.35" y1="736" x2="502.35" y2="740.4" stroke="#000" stroke-width="1.6"/>
<line x1="396.6" y1="717.46" x2="502.35" y2="717.46" stroke="#222" stroke-width="1.0" stroke-dasharray="1.1,1.75"/>
<polyline points="387.79,717.95 389.55,718.37 391.31,718.89 393.07,717.77 394.84,717.93 396.6,719.07 398.36,707.59 400.12,708.31 401.89,708.27 403.65,704.59 405.41,709.57 407.17,708.25 408.94,708.7 410.7,710.1 412.46,714.18 414.22,714.14 415.99,712.25 417.75,710.83 419.51,713.36 421.27,712.19 423.04,711.23 424.8,710.78 426.56,712.68 428.32,708.99 430.09,709.73 431.85,711.28 433.61,711.46 435.37,709.94 437.14,710.19 438.9,715.46 440.66,706.39 442.42,707.75 444.19,707.51 445.95,706.02 447.71,709.34 449.47,709.45 451.24,711.75 453,708.24 454.76,707.58 456.52,708.33 458.29,708.22 460.05,706.91 461.81,707.37 463.57,707.18 465.34,707.6 467.1,707.36 468.86,705.74 470.62,707.01 472.39,707.23 474.15,707.19 475.91,706.4 477.67,705.73 479.44,705.05 481.2,705.27 482.96,705.61 484.72,707.03 486.49,703.84 488.25,705.66 490.01,704.32 491.77,702.61 493.54,704.04 495.3,705.63 497.06,703.87 498.83,705.34 500.59,705.83 502.35,703.79" fill="none" stroke="#7f7f86" stroke-width="1.9" stroke-linejoin="round"/>
<rect x="386.49" y="716.65" width="2.6" height="2.6" fill="#7f7f86"/>
<line x1="389.55" y1="722.8" x2="389.55" y2="713.94" stroke="#7f7f86" stroke-width="0.6"/>
<rect x="388.25" y="717.07" width="2.6" height="2.6" fill="#7f7f86"/>
<line x1="391.31" y1="720.39" x2="391.31" y2="717.39" stroke="#7f7f86" stroke-width="0.6"/>
<rect x="390.01" y="717.59" width="2.6" height="2.6" fill="#7f7f86"/>
<rect x="391.77" y="716.47" width="2.6" height="2.6" fill="#7f7f86"/>
<rect x="393.54" y="716.63" width="2.6" height="2.6" fill="#7f7f86"/>
<line x1="396.6" y1="720.92" x2="396.6" y2="717.22" stroke="#7f7f86" stroke-width="0.6"/>
<rect x="395.3" y="717.77" width="2.6" height="2.6" fill="#7f7f86"/>
<rect x="397.06" y="706.29" width="2.6" height="2.6" fill="#7f7f86"/>
<line x1="400.12" y1="710.53" x2="400.12" y2="706.1" stroke="#7f7f86" stroke-width="0.6"/>
<rect x="398.82" y="707.01" width="2.6" height="2.6" fill="#7f7f86"/>
<rect x="400.59" y="706.97" width="2.6" height="2.6" fill="#7f7f86"/>
<rect x="402.35" y="703.29" width="2.6" height="2.6" fill="#7f7f86"/>
<rect x="404.11" y="708.27" width="2.6" height="2.6" fill="#7f7f86"/>
<rect x="405.87" y="706.95" width="2.6" height="2.6" fill="#7f7f86"/>
<rect x="407.64" y="707.4" width="2.6" height="2.6" fill="#7f7f86"/>
<rect x="409.4" y="708.8" width="2.6" height="2.6" fill="#7f7f86"/>
<rect x="411.16" y="712.88" width="2.6" height="2.6" fill="#7f7f86"/>
<line x1="414.22" y1="715.54" x2="414.22" y2="712.73" stroke="#7f7f86" stroke-width="0.6"/>
<rect x="412.92" y="712.84" width="2.6" height="2.6" fill="#7f7f86"/>
<line x1="415.99" y1="713.53" x2="415.99" y2="710.97" stroke="#7f7f86" stroke-width="0.6"/>
<rect x="414.69" y="710.95" width="2.6" height="2.6" fill="#7f7f86"/>
<line x1="417.75" y1="713.52" x2="417.75" y2="708.14" stroke="#7f7f86" stroke-width="0.6"/>
<rect x="416.45" y="709.53" width="2.6" height="2.6" fill="#7f7f86"/>
<rect x="418.21" y="712.06" width="2.6" height="2.6" fill="#7f7f86"/>
<line x1="421.27" y1="713.6" x2="421.27" y2="710.78" stroke="#7f7f86" stroke-width="0.6"/>
<rect x="419.97" y="710.89" width="2.6" height="2.6" fill="#7f7f86"/>
<line x1="423.04" y1="714.22" x2="423.04" y2="708.24" stroke="#7f7f86" stroke-width="0.6"/>
<rect x="421.74" y="709.93" width="2.6" height="2.6" fill="#7f7f86"/>
<rect x="423.5" y="709.48" width="2.6" height="2.6" fill="#7f7f86"/>
<rect x="425.26" y="711.38" width="2.6" height="2.6" fill="#7f7f86"/>
<line x1="428.32" y1="710.13" x2="428.32" y2="707.85" stroke="#7f7f86" stroke-width="0.6"/>
<rect x="427.02" y="707.69" width="2.6" height="2.6" fill="#7f7f86"/>
<rect x="428.79" y="708.43" width="2.6" height="2.6" fill="#7f7f86"/>
<rect x="430.55" y="709.98" width="2.6" height="2.6" fill="#7f7f86"/>
<rect x="432.31" y="710.16" width="2.6" height="2.6" fill="#7f7f86"/>
<line x1="435.37" y1="711.65" x2="435.37" y2="708.24" stroke="#7f7f86" stroke-width="0.6"/>
<rect x="434.07" y="708.64" width="2.6" height="2.6" fill="#7f7f86"/>
<rect x="435.84" y="708.89" width="2.6" height="2.6" fill="#7f7f86"/>
<rect x="437.6" y="714.16" width="2.6" height="2.6" fill="#7f7f86"/>
<line x1="440.66" y1="708.79" x2="440.66" y2="704" stroke="#7f7f86" stroke-width="0.6"/>
<rect x="439.36" y="705.09" width="2.6" height="2.6" fill="#7f7f86"/>
<rect x="441.12" y="706.45" width="2.6" height="2.6" fill="#7f7f86"/>
<line x1="444.19" y1="709.02" x2="444.19" y2="706.01" stroke="#7f7f86" stroke-width="0.6"/>
<rect x="442.89" y="706.21" width="2.6" height="2.6" fill="#7f7f86"/>
<line x1="445.95" y1="708.56" x2="445.95" y2="703.49" stroke="#7f7f86" stroke-width="0.6"/>
<rect x="444.65" y="704.72" width="2.6" height="2.6" fill="#7f7f86"/>
<line x1="447.71" y1="711.2" x2="447.71" y2="707.49" stroke="#7f7f86" stroke-width="0.6"/>
<rect x="446.41" y="708.04" width="2.6" height="2.6" fill="#7f7f86"/>
<line x1="449.47" y1="711.72" x2="449.47" y2="707.17" stroke="#7f7f86" stroke-width="0.6"/>
<rect x="448.17" y="708.15" width="2.6" height="2.6" fill="#7f7f86"/>
<line x1="451.24" y1="712.9" x2="451.24" y2="710.61" stroke="#7f7f86" stroke-width="0.6"/>
<rect x="449.94" y="710.45" width="2.6" height="2.6" fill="#7f7f86"/>
<line x1="453" y1="710.46" x2="453" y2="706.02" stroke="#7f7f86" stroke-width="0.6"/>
<rect x="451.7" y="706.94" width="2.6" height="2.6" fill="#7f7f86"/>
<rect x="453.46" y="706.28" width="2.6" height="2.6" fill="#7f7f86"/>
<rect x="455.22" y="707.03" width="2.6" height="2.6" fill="#7f7f86"/>
<line x1="458.29" y1="709.53" x2="458.29" y2="706.9" stroke="#7f7f86" stroke-width="0.6"/>
<rect x="456.99" y="706.92" width="2.6" height="2.6" fill="#7f7f86"/>
<line x1="460.05" y1="708.66" x2="460.05" y2="705.15" stroke="#7f7f86" stroke-width="0.6"/>
<rect x="458.75" y="705.61" width="2.6" height="2.6" fill="#7f7f86"/>
<line x1="461.81" y1="710.69" x2="461.81" y2="704.05" stroke="#7f7f86" stroke-width="0.6"/>
<rect x="460.51" y="706.07" width="2.6" height="2.6" fill="#7f7f86"/>
<rect x="462.27" y="705.88" width="2.6" height="2.6" fill="#7f7f86"/>
<rect x="464.04" y="706.3" width="2.6" height="2.6" fill="#7f7f86"/>
<line x1="467.1" y1="710.18" x2="467.1" y2="704.54" stroke="#7f7f86" stroke-width="0.6"/>
<rect x="465.8" y="706.06" width="2.6" height="2.6" fill="#7f7f86"/>
<rect x="467.56" y="704.44" width="2.6" height="2.6" fill="#7f7f86"/>
<line x1="470.62" y1="709.24" x2="470.62" y2="704.78" stroke="#7f7f86" stroke-width="0.6"/>
<rect x="469.32" y="705.71" width="2.6" height="2.6" fill="#7f7f86"/>
<line x1="472.39" y1="709.68" x2="472.39" y2="704.77" stroke="#7f7f86" stroke-width="0.6"/>
<rect x="471.09" y="705.93" width="2.6" height="2.6" fill="#7f7f86"/>
<rect x="472.85" y="705.89" width="2.6" height="2.6" fill="#7f7f86"/>
<rect x="474.61" y="705.1" width="2.6" height="2.6" fill="#7f7f86"/>
<rect x="476.37" y="704.43" width="2.6" height="2.6" fill="#7f7f86"/>
<rect x="478.14" y="703.75" width="2.6" height="2.6" fill="#7f7f86"/>
<line x1="481.2" y1="706.81" x2="481.2" y2="703.74" stroke="#7f7f86" stroke-width="0.6"/>
<rect x="479.9" y="703.97" width="2.6" height="2.6" fill="#7f7f86"/>
<rect x="481.66" y="704.31" width="2.6" height="2.6" fill="#7f7f86"/>
<line x1="484.72" y1="709.28" x2="484.72" y2="704.78" stroke="#7f7f86" stroke-width="0.6"/>
<rect x="483.42" y="705.73" width="2.6" height="2.6" fill="#7f7f86"/>
<rect x="485.19" y="702.54" width="2.6" height="2.6" fill="#7f7f86"/>
<rect x="486.95" y="704.36" width="2.6" height="2.6" fill="#7f7f86"/>
<line x1="490.01" y1="707.12" x2="490.01" y2="701.52" stroke="#7f7f86" stroke-width="0.6"/>
<rect x="488.71" y="703.02" width="2.6" height="2.6" fill="#7f7f86"/>
<line x1="491.77" y1="705.21" x2="491.77" y2="700.01" stroke="#7f7f86" stroke-width="0.6"/>
<rect x="490.47" y="701.31" width="2.6" height="2.6" fill="#7f7f86"/>
<line x1="493.54" y1="706.65" x2="493.54" y2="701.44" stroke="#7f7f86" stroke-width="0.6"/>
<rect x="492.24" y="702.74" width="2.6" height="2.6" fill="#7f7f86"/>
<rect x="494" y="704.33" width="2.6" height="2.6" fill="#7f7f86"/>
<rect x="495.76" y="702.57" width="2.6" height="2.6" fill="#7f7f86"/>
<rect x="497.53" y="704.04" width="2.6" height="2.6" fill="#7f7f86"/>
<line x1="500.59" y1="707.72" x2="500.59" y2="703.93" stroke="#7f7f86" stroke-width="0.6"/>
<rect x="499.29" y="704.53" width="2.6" height="2.6" fill="#7f7f86"/>
<line x1="502.35" y1="705.98" x2="502.35" y2="701.61" stroke="#7f7f86" stroke-width="0.6"/>
<rect x="501.05" y="702.49" width="2.6" height="2.6" fill="#7f7f86"/>
<polyline points="387.79,716.43 389.55,718.69 391.31,716.17 393.07,718.44 394.84,716.79 396.6,715.79 398.36,693.27 400.12,688.39 401.89,686.12 403.65,680.27 405.41,677.7 407.17,680.59 408.94,679.79 410.7,677.83 412.46,677.62 414.22,678.55 415.99,680.31 417.75,675.68 419.51,675.75 421.27,677.5 423.04,677.2 424.8,677.35 426.56,677.67 428.32,679.09 430.09,679.94 431.85,679.22 433.61,679.45 435.37,681.33 437.14,680.91 438.9,681.15 440.66,681.31 442.42,680.37 444.19,682.2 445.95,681.42 447.71,680.97 449.47,680.18 451.24,683.98 453,683.52 454.76,683.54 456.52,682.18 458.29,680.26 460.05,681.75 461.81,688.25 463.57,687.1 465.34,686.61 467.1,687.93 468.86,684.49 470.62,684.14 472.39,684.1 474.15,686.37 475.91,693.01 477.67,686.7 479.44,687.23 481.2,689.31 482.96,688.95 484.72,690.17 486.49,689.7 488.25,691.06 490.01,688.94 491.77,687.24 493.54,687.71 495.3,688.39 497.06,688.94 498.83,689.94 500.59,688.08 502.35,688.14" fill="none" stroke="#f40a3c" stroke-width="1.4" stroke-linejoin="round"/>
<circle cx="387.79" cy="716.43" r="1.45" fill="#f40a3c"/>
<circle cx="389.55" cy="718.69" r="1.45" fill="#f40a3c"/>
<circle cx="391.31" cy="716.17" r="1.45" fill="#f40a3c"/>
<circle cx="393.07" cy="718.44" r="1.45" fill="#f40a3c"/>
<line x1="394.84" y1="719.14" x2="394.84" y2="714.44" stroke="#f40a3c" stroke-width="0.6"/>
<circle cx="394.84" cy="716.79" r="1.45" fill="#f40a3c"/>
<line x1="396.6" y1="716.93" x2="396.6" y2="714.65" stroke="#f40a3c" stroke-width="0.6"/>
<circle cx="396.6" cy="715.79" r="1.45" fill="#f40a3c"/>
<circle cx="398.36" cy="693.27" r="1.45" fill="#f40a3c"/>
<circle cx="400.12" cy="688.39" r="1.45" fill="#f40a3c"/>
<line x1="401.89" y1="687.28" x2="401.89" y2="684.96" stroke="#f40a3c" stroke-width="0.6"/>
<circle cx="401.89" cy="686.12" r="1.45" fill="#f40a3c"/>
<circle cx="403.65" cy="680.27" r="1.45" fill="#f40a3c"/>
<line x1="405.41" y1="678.83" x2="405.41" y2="676.58" stroke="#f40a3c" stroke-width="0.6"/>
<circle cx="405.41" cy="677.7" r="1.45" fill="#f40a3c"/>
<line x1="407.17" y1="681.76" x2="407.17" y2="679.41" stroke="#f40a3c" stroke-width="0.6"/>
<circle cx="407.17" cy="680.59" r="1.45" fill="#f40a3c"/>
<line x1="408.94" y1="681.07" x2="408.94" y2="678.52" stroke="#f40a3c" stroke-width="0.6"/>
<circle cx="408.94" cy="679.79" r="1.45" fill="#f40a3c"/>
<line x1="410.7" y1="681.1" x2="410.7" y2="674.55" stroke="#f40a3c" stroke-width="0.6"/>
<circle cx="410.7" cy="677.83" r="1.45" fill="#f40a3c"/>
<line x1="412.46" y1="679.46" x2="412.46" y2="675.78" stroke="#f40a3c" stroke-width="0.6"/>
<circle cx="412.46" cy="677.62" r="1.45" fill="#f40a3c"/>
<circle cx="414.22" cy="678.55" r="1.45" fill="#f40a3c"/>
<line x1="415.99" y1="681.89" x2="415.99" y2="678.73" stroke="#f40a3c" stroke-width="0.6"/>
<circle cx="415.99" cy="680.31" r="1.45" fill="#f40a3c"/>
<circle cx="417.75" cy="675.68" r="1.45" fill="#f40a3c"/>
<line x1="419.51" y1="676.93" x2="419.51" y2="674.57" stroke="#f40a3c" stroke-width="0.6"/>
<circle cx="419.51" cy="675.75" r="1.45" fill="#f40a3c"/>
<circle cx="421.27" cy="677.5" r="1.45" fill="#f40a3c"/>
<circle cx="423.04" cy="677.2" r="1.45" fill="#f40a3c"/>
<circle cx="424.8" cy="677.35" r="1.45" fill="#f40a3c"/>
<line x1="426.56" y1="678.87" x2="426.56" y2="676.48" stroke="#f40a3c" stroke-width="0.6"/>
<circle cx="426.56" cy="677.67" r="1.45" fill="#f40a3c"/>
<circle cx="428.32" cy="679.09" r="1.45" fill="#f40a3c"/>
<circle cx="430.09" cy="679.94" r="1.45" fill="#f40a3c"/>
<circle cx="431.85" cy="679.22" r="1.45" fill="#f40a3c"/>
<circle cx="433.61" cy="679.45" r="1.45" fill="#f40a3c"/>
<line x1="435.37" y1="683.37" x2="435.37" y2="679.3" stroke="#f40a3c" stroke-width="0.6"/>
<circle cx="435.37" cy="681.33" r="1.45" fill="#f40a3c"/>
<line x1="437.14" y1="682.72" x2="437.14" y2="679.09" stroke="#f40a3c" stroke-width="0.6"/>
<circle cx="437.14" cy="680.91" r="1.45" fill="#f40a3c"/>
<line x1="438.9" y1="682.86" x2="438.9" y2="679.44" stroke="#f40a3c" stroke-width="0.6"/>
<circle cx="438.9" cy="681.15" r="1.45" fill="#f40a3c"/>
<circle cx="440.66" cy="681.31" r="1.45" fill="#f40a3c"/>
<circle cx="442.42" cy="680.37" r="1.45" fill="#f40a3c"/>
<circle cx="444.19" cy="682.2" r="1.45" fill="#f40a3c"/>
<circle cx="445.95" cy="681.42" r="1.45" fill="#f40a3c"/>
<line x1="447.71" y1="682.88" x2="447.71" y2="679.05" stroke="#f40a3c" stroke-width="0.6"/>
<circle cx="447.71" cy="680.97" r="1.45" fill="#f40a3c"/>
<circle cx="449.47" cy="680.18" r="1.45" fill="#f40a3c"/>
<line x1="451.24" y1="685.11" x2="451.24" y2="682.85" stroke="#f40a3c" stroke-width="0.6"/>
<circle cx="451.24" cy="683.98" r="1.45" fill="#f40a3c"/>
<circle cx="453" cy="683.52" r="1.45" fill="#f40a3c"/>
<circle cx="454.76" cy="683.54" r="1.45" fill="#f40a3c"/>
<line x1="456.52" y1="683.69" x2="456.52" y2="680.66" stroke="#f40a3c" stroke-width="0.6"/>
<circle cx="456.52" cy="682.18" r="1.45" fill="#f40a3c"/>
<circle cx="458.29" cy="680.26" r="1.45" fill="#f40a3c"/>
<line x1="460.05" y1="683.07" x2="460.05" y2="680.43" stroke="#f40a3c" stroke-width="0.6"/>
<circle cx="460.05" cy="681.75" r="1.45" fill="#f40a3c"/>
<circle cx="461.81" cy="688.25" r="1.45" fill="#f40a3c"/>
<circle cx="463.57" cy="687.1" r="1.45" fill="#f40a3c"/>
<circle cx="465.34" cy="686.61" r="1.45" fill="#f40a3c"/>
<line x1="467.1" y1="689.59" x2="467.1" y2="686.27" stroke="#f40a3c" stroke-width="0.6"/>
<circle cx="467.1" cy="687.93" r="1.45" fill="#f40a3c"/>
<line x1="468.86" y1="685.62" x2="468.86" y2="683.36" stroke="#f40a3c" stroke-width="0.6"/>
<circle cx="468.86" cy="684.49" r="1.45" fill="#f40a3c"/>
<circle cx="470.62" cy="684.14" r="1.45" fill="#f40a3c"/>
<line x1="472.39" y1="685.31" x2="472.39" y2="682.88" stroke="#f40a3c" stroke-width="0.6"/>
<circle cx="472.39" cy="684.1" r="1.45" fill="#f40a3c"/>
<line x1="474.15" y1="688.13" x2="474.15" y2="684.61" stroke="#f40a3c" stroke-width="0.6"/>
<circle cx="474.15" cy="686.37" r="1.45" fill="#f40a3c"/>
<circle cx="475.91" cy="693.01" r="1.45" fill="#f40a3c"/>
<line x1="477.67" y1="687.85" x2="477.67" y2="685.54" stroke="#f40a3c" stroke-width="0.6"/>
<circle cx="477.67" cy="686.7" r="1.45" fill="#f40a3c"/>
<circle cx="479.44" cy="687.23" r="1.45" fill="#f40a3c"/>
<line x1="481.2" y1="690.69" x2="481.2" y2="687.93" stroke="#f40a3c" stroke-width="0.6"/>
<circle cx="481.2" cy="689.31" r="1.45" fill="#f40a3c"/>
<line x1="482.96" y1="690.33" x2="482.96" y2="687.57" stroke="#f40a3c" stroke-width="0.6"/>
<circle cx="482.96" cy="688.95" r="1.45" fill="#f40a3c"/>
<circle cx="484.72" cy="690.17" r="1.45" fill="#f40a3c"/>
<line x1="486.49" y1="691.88" x2="486.49" y2="687.52" stroke="#f40a3c" stroke-width="0.6"/>
<circle cx="486.49" cy="689.7" r="1.45" fill="#f40a3c"/>
<line x1="488.25" y1="692.38" x2="488.25" y2="689.74" stroke="#f40a3c" stroke-width="0.6"/>
<circle cx="488.25" cy="691.06" r="1.45" fill="#f40a3c"/>
<line x1="490.01" y1="690.96" x2="490.01" y2="686.93" stroke="#f40a3c" stroke-width="0.6"/>
<circle cx="490.01" cy="688.94" r="1.45" fill="#f40a3c"/>
<line x1="491.77" y1="690.12" x2="491.77" y2="684.37" stroke="#f40a3c" stroke-width="0.6"/>
<circle cx="491.77" cy="687.24" r="1.45" fill="#f40a3c"/>
<line x1="493.54" y1="689.47" x2="493.54" y2="685.96" stroke="#f40a3c" stroke-width="0.6"/>
<circle cx="493.54" cy="687.71" r="1.45" fill="#f40a3c"/>
<line x1="495.3" y1="690.36" x2="495.3" y2="686.43" stroke="#f40a3c" stroke-width="0.6"/>
<circle cx="495.3" cy="688.39" r="1.45" fill="#f40a3c"/>
<line x1="497.06" y1="691.92" x2="497.06" y2="685.96" stroke="#f40a3c" stroke-width="0.6"/>
<circle cx="497.06" cy="688.94" r="1.45" fill="#f40a3c"/>
<circle cx="498.83" cy="689.94" r="1.45" fill="#f40a3c"/>
<circle cx="500.59" cy="688.08" r="1.45" fill="#f40a3c"/>
<circle cx="502.35" cy="688.14" r="1.45" fill="#f40a3c"/>
<text x="444.1" y="636" font-size="11.8" font-weight="bold" class="k" text-anchor="middle">G&#945;<tspan font-size="8.4" dy="2.8">i2</tspan><tspan dy="-2.8"> ONE-GO</tspan></text>
<line x1="394.5" y1="649.9" x2="405.3" y2="649.9" stroke="#7f7f86" stroke-width="1.1"/>
<rect x="398.6" y="648.6" width="2.6" height="2.6" fill="#7f7f86"/>
<text x="410.7" y="653" font-size="9.2" font-weight="bold" class="k">- PKD1</text>
<line x1="446.7" y1="649.9" x2="456.9" y2="649.9" stroke="#f40a3c" stroke-width="1.1"/>
<circle cx="451.8" cy="649.9" r="1.5" fill="#f40a3c"/>
<text x="462.1" y="653" font-size="9.2" font-weight="bold" class="k">+ PKD1</text>
<text x="444.6" y="766.7" font-size="11.6" font-weight="bold" class="k" text-anchor="middle">Time (min)</text>
<text transform="translate(351.7,688.25) rotate(-90)" font-size="11.5" font-weight="bold" class="k" text-anchor="middle">&#916;BRET</text>
<text x="511.6" y="621.3" font-size="16.5" font-weight="bold" fill="#000" text-anchor="start" >m</text>
<text transform="translate(551.2,739.9) scale(0.94,1)" font-size="10.6" font-weight="bold" text-anchor="end" stroke="#000" stroke-width="0.3">-0.02</text>
<text transform="translate(551.2,721.36) scale(0.94,1)" font-size="10.6" font-weight="bold" text-anchor="end" stroke="#000" stroke-width="0.3">0.00</text>
<text transform="translate(551.2,702.82) scale(0.94,1)" font-size="10.6" font-weight="bold" text-anchor="end" stroke="#000" stroke-width="0.3">0.02</text>
<text transform="translate(551.2,684.28) scale(0.94,1)" font-size="10.6" font-weight="bold" text-anchor="end" stroke="#000" stroke-width="0.3">0.04</text>
<text transform="translate(551.2,665.74) scale(0.94,1)" font-size="10.6" font-weight="bold" text-anchor="end" stroke="#000" stroke-width="0.3">0.06</text>
<text transform="translate(551.2,647.2) scale(0.94,1)" font-size="10.6" font-weight="bold" text-anchor="end" stroke="#000" stroke-width="0.3">0.08</text>
<text transform="translate(568,751.4) scale(1.0,1)" font-size="10.1" font-weight="bold" text-anchor="middle" stroke="#000" stroke-width="0.3">0</text>
<text transform="translate(603.25,751.4) scale(1.0,1)" font-size="10.1" font-weight="bold" text-anchor="middle" stroke="#000" stroke-width="0.3">3</text>
<text transform="translate(638.5,751.4) scale(1.0,1)" font-size="10.1" font-weight="bold" text-anchor="middle" stroke="#000" stroke-width="0.3">6</text>
<text transform="translate(673.75,751.4) scale(1.0,1)" font-size="10.1" font-weight="bold" text-anchor="middle" stroke="#000" stroke-width="0.3">9</text>
<path d="M557.5,642.7 V736 H674.35" fill="none" stroke="#000" stroke-width="1.65"/>
<line x1="553.1" y1="736" x2="557.5" y2="736" stroke="#000" stroke-width="1.6"/>
<line x1="553.1" y1="717.46" x2="557.5" y2="717.46" stroke="#000" stroke-width="1.6"/>
<line x1="553.1" y1="698.92" x2="557.5" y2="698.92" stroke="#000" stroke-width="1.6"/>
<line x1="553.1" y1="680.38" x2="557.5" y2="680.38" stroke="#000" stroke-width="1.6"/>
<line x1="553.1" y1="661.84" x2="557.5" y2="661.84" stroke="#000" stroke-width="1.6"/>
<line x1="553.1" y1="643.3" x2="557.5" y2="643.3" stroke="#000" stroke-width="1.6"/>
<line x1="568" y1="736" x2="568" y2="740.4" stroke="#000" stroke-width="1.6"/>
<line x1="603.25" y1="736" x2="603.25" y2="740.4" stroke="#000" stroke-width="1.6"/>
<line x1="638.5" y1="736" x2="638.5" y2="740.4" stroke="#000" stroke-width="1.6"/>
<line x1="673.75" y1="736" x2="673.75" y2="740.4" stroke="#000" stroke-width="1.6"/>
<line x1="568" y1="717.46" x2="673.75" y2="717.46" stroke="#222" stroke-width="1.0" stroke-dasharray="1.1,1.75"/>
<polyline points="559.19,716.6 560.95,717.96 562.71,717.67 564.47,718.1 566.24,718.15 568,718.39 569.76,703.84 571.52,703.23 573.29,699.66 575.05,701.93 576.81,705.18 578.57,703.9 580.34,706.48 582.1,707.59 583.86,709.71 585.62,710.23 587.39,705.06 589.15,712.01 590.91,709.62 592.67,707.99 594.44,710.39 596.2,707.46 597.96,705.69 599.72,709.76 601.49,711.93 603.25,710.52 605.01,709.12 606.77,707 608.54,708.66 610.3,707.77 612.06,709.62 613.82,708.44 615.59,702.49 617.35,707.95 619.11,705.41 620.87,709.97 622.64,707.43 624.4,706.44 626.16,708.02 627.92,706.89 629.69,705.62 631.45,706.89 633.21,709.82 634.97,706.22 636.74,705.93 638.5,707.11 640.26,708.06 642.02,710.29 643.79,713.47 645.55,710.23 647.31,705.88 649.07,706.16 650.84,706.64 652.6,710.29 654.36,712.33 656.12,711.12 657.89,711.76 659.65,711.85 661.41,712.6 663.17,711.25 664.94,713.44 666.7,713.44 668.46,712.64 670.23,716.81 671.99,714.44 673.75,716.99" fill="none" stroke="#7f7f86" stroke-width="1.9" stroke-linejoin="round"/>
<line x1="559.19" y1="720.18" x2="559.19" y2="713.01" stroke="#7f7f86" stroke-width="0.6"/>
<rect x="557.89" y="715.3" width="2.6" height="2.6" fill="#7f7f86"/>
<line x1="560.95" y1="719.66" x2="560.95" y2="716.26" stroke="#7f7f86" stroke-width="0.6"/>
<rect x="559.65" y="716.66" width="2.6" height="2.6" fill="#7f7f86"/>
<line x1="562.71" y1="719.27" x2="562.71" y2="716.06" stroke="#7f7f86" stroke-width="0.6"/>
<rect x="561.41" y="716.37" width="2.6" height="2.6" fill="#7f7f86"/>
<line x1="564.47" y1="719.4" x2="564.47" y2="716.81" stroke="#7f7f86" stroke-width="0.6"/>
<rect x="563.17" y="716.8" width="2.6" height="2.6" fill="#7f7f86"/>
<line x1="566.24" y1="719.52" x2="566.24" y2="716.79" stroke="#7f7f86" stroke-width="0.6"/>
<rect x="564.94" y="716.85" width="2.6" height="2.6" fill="#7f7f86"/>
<line x1="568" y1="721.49" x2="568" y2="715.3" stroke="#7f7f86" stroke-width="0.6"/>
<rect x="566.7" y="717.09" width="2.6" height="2.6" fill="#7f7f86"/>
<rect x="568.46" y="702.54" width="2.6" height="2.6" fill="#7f7f86"/>
<rect x="570.22" y="701.93" width="2.6" height="2.6" fill="#7f7f86"/>
<rect x="571.99" y="698.36" width="2.6" height="2.6" fill="#7f7f86"/>
<line x1="575.05" y1="704.1" x2="575.05" y2="699.76" stroke="#7f7f86" stroke-width="0.6"/>
<rect x="573.75" y="700.63" width="2.6" height="2.6" fill="#7f7f86"/>
<rect x="575.51" y="703.88" width="2.6" height="2.6" fill="#7f7f86"/>
<rect x="577.27" y="702.6" width="2.6" height="2.6" fill="#7f7f86"/>
<line x1="580.34" y1="707.66" x2="580.34" y2="705.29" stroke="#7f7f86" stroke-width="0.6"/>
<rect x="579.04" y="705.18" width="2.6" height="2.6" fill="#7f7f86"/>
<line x1="582.1" y1="710.35" x2="582.1" y2="704.84" stroke="#7f7f86" stroke-width="0.6"/>
<rect x="580.8" y="706.29" width="2.6" height="2.6" fill="#7f7f86"/>
<line x1="583.86" y1="711.98" x2="583.86" y2="707.45" stroke="#7f7f86" stroke-width="0.6"/>
<rect x="582.56" y="708.41" width="2.6" height="2.6" fill="#7f7f86"/>
<rect x="584.32" y="708.93" width="2.6" height="2.6" fill="#7f7f86"/>
<rect x="586.09" y="703.76" width="2.6" height="2.6" fill="#7f7f86"/>
<rect x="587.85" y="710.71" width="2.6" height="2.6" fill="#7f7f86"/>
<line x1="590.91" y1="711.44" x2="590.91" y2="707.8" stroke="#7f7f86" stroke-width="0.6"/>
<rect x="589.61" y="708.32" width="2.6" height="2.6" fill="#7f7f86"/>
<line x1="592.67" y1="709.87" x2="592.67" y2="706.1" stroke="#7f7f86" stroke-width="0.6"/>
<rect x="591.37" y="706.69" width="2.6" height="2.6" fill="#7f7f86"/>
<rect x="593.14" y="709.09" width="2.6" height="2.6" fill="#7f7f86"/>
<line x1="596.2" y1="708.81" x2="596.2" y2="706.11" stroke="#7f7f86" stroke-width="0.6"/>
<rect x="594.9" y="706.16" width="2.6" height="2.6" fill="#7f7f86"/>
<rect x="596.66" y="704.39" width="2.6" height="2.6" fill="#7f7f86"/>
<rect x="598.42" y="708.46" width="2.6" height="2.6" fill="#7f7f86"/>
<rect x="600.19" y="710.63" width="2.6" height="2.6" fill="#7f7f86"/>
<line x1="603.25" y1="711.73" x2="603.25" y2="709.3" stroke="#7f7f86" stroke-width="0.6"/>
<rect x="601.95" y="709.22" width="2.6" height="2.6" fill="#7f7f86"/>
<line x1="605.01" y1="710.47" x2="605.01" y2="707.77" stroke="#7f7f86" stroke-width="0.6"/>
<rect x="603.71" y="707.82" width="2.6" height="2.6" fill="#7f7f86"/>
<rect x="605.47" y="705.7" width="2.6" height="2.6" fill="#7f7f86"/>
<line x1="608.54" y1="711.4" x2="608.54" y2="705.91" stroke="#7f7f86" stroke-width="0.6"/>
<rect x="607.24" y="707.36" width="2.6" height="2.6" fill="#7f7f86"/>
<rect x="609" y="706.47" width="2.6" height="2.6" fill="#7f7f86"/>
<line x1="612.06" y1="711.01" x2="612.06" y2="708.23" stroke="#7f7f86" stroke-width="0.6"/>
<rect x="610.76" y="708.32" width="2.6" height="2.6" fill="#7f7f86"/>
<line x1="613.82" y1="709.66" x2="613.82" y2="707.23" stroke="#7f7f86" stroke-width="0.6"/>
<rect x="612.52" y="707.14" width="2.6" height="2.6" fill="#7f7f86"/>
<line x1="615.59" y1="705.09" x2="615.59" y2="699.89" stroke="#7f7f86" stroke-width="0.6"/>
<rect x="614.29" y="701.19" width="2.6" height="2.6" fill="#7f7f86"/>
<line x1="617.35" y1="709.66" x2="617.35" y2="706.24" stroke="#7f7f86" stroke-width="0.6"/>
<rect x="616.05" y="706.65" width="2.6" height="2.6" fill="#7f7f86"/>
<rect x="617.81" y="704.11" width="2.6" height="2.6" fill="#7f7f86"/>
<line x1="620.87" y1="711.14" x2="620.87" y2="708.8" stroke="#7f7f86" stroke-width="0.6"/>
<rect x="619.57" y="708.67" width="2.6" height="2.6" fill="#7f7f86"/>
<line x1="622.64" y1="708.97" x2="622.64" y2="705.9" stroke="#7f7f86" stroke-width="0.6"/>
<rect x="621.34" y="706.13" width="2.6" height="2.6" fill="#7f7f86"/>
<rect x="623.1" y="705.14" width="2.6" height="2.6" fill="#7f7f86"/>
<rect x="624.86" y="706.72" width="2.6" height="2.6" fill="#7f7f86"/>
<line x1="627.92" y1="708.67" x2="627.92" y2="705.1" stroke="#7f7f86" stroke-width="0.6"/>
<rect x="626.62" y="705.59" width="2.6" height="2.6" fill="#7f7f86"/>
<line x1="629.69" y1="706.75" x2="629.69" y2="704.49" stroke="#7f7f86" stroke-width="0.6"/>
<rect x="628.39" y="704.32" width="2.6" height="2.6" fill="#7f7f86"/>
<rect x="630.15" y="705.59" width="2.6" height="2.6" fill="#7f7f86"/>
<rect x="631.91" y="708.52" width="2.6" height="2.6" fill="#7f7f86"/>
<line x1="634.97" y1="707.6" x2="634.97" y2="704.84" stroke="#7f7f86" stroke-width="0.6"/>
<rect x="633.67" y="704.92" width="2.6" height="2.6" fill="#7f7f86"/>
<line x1="636.74" y1="707.48" x2="636.74" y2="704.37" stroke="#7f7f86" stroke-width="0.6"/>
<rect x="635.44" y="704.63" width="2.6" height="2.6" fill="#7f7f86"/>
<line x1="638.5" y1="708.49" x2="638.5" y2="705.73" stroke="#7f7f86" stroke-width="0.6"/>
<rect x="637.2" y="705.81" width="2.6" height="2.6" fill="#7f7f86"/>
<line x1="640.26" y1="710" x2="640.26" y2="706.13" stroke="#7f7f86" stroke-width="0.6"/>
<rect x="638.96" y="706.76" width="2.6" height="2.6" fill="#7f7f86"/>
<rect x="640.72" y="708.99" width="2.6" height="2.6" fill="#7f7f86"/>
<line x1="643.79" y1="715.91" x2="643.79" y2="711.03" stroke="#7f7f86" stroke-width="0.6"/>
<rect x="642.49" y="712.17" width="2.6" height="2.6" fill="#7f7f86"/>
<line x1="645.55" y1="713.16" x2="645.55" y2="707.3" stroke="#7f7f86" stroke-width="0.6"/>
<rect x="644.25" y="708.93" width="2.6" height="2.6" fill="#7f7f86"/>
<rect x="646.01" y="704.58" width="2.6" height="2.6" fill="#7f7f86"/>
<rect x="647.77" y="704.86" width="2.6" height="2.6" fill="#7f7f86"/>
<rect x="649.54" y="705.34" width="2.6" height="2.6" fill="#7f7f86"/>
<rect x="651.3" y="708.99" width="2.6" height="2.6" fill="#7f7f86"/>
<rect x="653.06" y="711.03" width="2.6" height="2.6" fill="#7f7f86"/>
<rect x="654.83" y="709.82" width="2.6" height="2.6" fill="#7f7f86"/>
<rect x="656.59" y="710.46" width="2.6" height="2.6" fill="#7f7f86"/>
<rect x="658.35" y="710.55" width="2.6" height="2.6" fill="#7f7f86"/>
<line x1="661.41" y1="713.85" x2="661.41" y2="711.35" stroke="#7f7f86" stroke-width="0.6"/>
<rect x="660.11" y="711.3" width="2.6" height="2.6" fill="#7f7f86"/>
<rect x="661.88" y="709.95" width="2.6" height="2.6" fill="#7f7f86"/>
<line x1="664.94" y1="715.05" x2="664.94" y2="711.83" stroke="#7f7f86" stroke-width="0.6"/>
<rect x="663.64" y="712.14" width="2.6" height="2.6" fill="#7f7f86"/>
<line x1="666.7" y1="715.72" x2="666.7" y2="711.16" stroke="#7f7f86" stroke-width="0.6"/>
<rect x="665.4" y="712.14" width="2.6" height="2.6" fill="#7f7f86"/>
<line x1="668.46" y1="714.64" x2="668.46" y2="710.64" stroke="#7f7f86" stroke-width="0.6"/>
<rect x="667.16" y="711.34" width="2.6" height="2.6" fill="#7f7f86"/>
<line x1="670.23" y1="719.13" x2="670.23" y2="714.5" stroke="#7f7f86" stroke-width="0.6"/>
<rect x="668.93" y="715.51" width="2.6" height="2.6" fill="#7f7f86"/>
<rect x="670.69" y="713.14" width="2.6" height="2.6" fill="#7f7f86"/>
<rect x="672.45" y="715.69" width="2.6" height="2.6" fill="#7f7f86"/>
<polyline points="559.19,716.48 560.95,717.06 562.71,717.22 564.47,718.19 566.24,718.96 568,716.76 569.76,692.05 571.52,681.71 573.29,675.16 575.05,669.17 576.81,667.88 578.57,664.24 580.34,662.54 582.1,660.9 583.86,662.86 585.62,658.84 587.39,658.33 589.15,660.4 590.91,659.26 592.67,660.11 594.44,660.01 596.2,658.32 597.96,659.02 599.72,660.29 601.49,661.24 603.25,661.86 605.01,660.39 606.77,659.32 608.54,661.77 610.3,658.38 612.06,659.77 613.82,660.09 615.59,662.03 617.35,662.09 619.11,662.12 620.87,662.05 622.64,661.85 624.4,662.12 626.16,662.22 627.92,662.55 629.69,664.28 631.45,663.92 633.21,661.56 634.97,662.4 636.74,663.13 638.5,666.03 640.26,666.07 642.02,664.7 643.79,666.57 645.55,668.62 647.31,667.07 649.07,668.14 650.84,667.72 652.6,666.8 654.36,668.32 656.12,665.85 657.89,665.59 659.65,665.67 661.41,667.84 663.17,669.52 664.94,669.32 666.7,669.76 668.46,670.94 670.23,671.89 671.99,671.28 673.75,670.8" fill="none" stroke="#2cc530" stroke-width="1.4" stroke-linejoin="round"/>
<line x1="559.19" y1="718.06" x2="559.19" y2="714.91" stroke="#2cc530" stroke-width="0.6"/>
<circle cx="559.19" cy="716.48" r="1.45" fill="#2cc530"/>
<circle cx="560.95" cy="717.06" r="1.45" fill="#2cc530"/>
<line x1="562.71" y1="718.33" x2="562.71" y2="716.1" stroke="#2cc530" stroke-width="0.6"/>
<circle cx="562.71" cy="717.22" r="1.45" fill="#2cc530"/>
<line x1="564.47" y1="720.66" x2="564.47" y2="715.73" stroke="#2cc530" stroke-width="0.6"/>
<circle cx="564.47" cy="718.19" r="1.45" fill="#2cc530"/>
<circle cx="566.24" cy="718.96" r="1.45" fill="#2cc530"/>
<circle cx="568" cy="716.76" r="1.45" fill="#2cc530"/>
<circle cx="569.76" cy="692.05" r="1.45" fill="#2cc530"/>
<circle cx="571.52" cy="681.71" r="1.45" fill="#2cc530"/>
<line x1="573.29" y1="676.97" x2="573.29" y2="673.35" stroke="#2cc530" stroke-width="0.6"/>
<circle cx="573.29" cy="675.16" r="1.45" fill="#2cc530"/>
<circle cx="575.05" cy="669.17" r="1.45" fill="#2cc530"/>
<circle cx="576.81" cy="667.88" r="1.45" fill="#2cc530"/>
<line x1="578.57" y1="666.57" x2="578.57" y2="661.91" stroke="#2cc530" stroke-width="0.6"/>
<circle cx="578.57" cy="664.24" r="1.45" fill="#2cc530"/>
<circle cx="580.34" cy="662.54" r="1.45" fill="#2cc530"/>
<line x1="582.1" y1="662.02" x2="582.1" y2="659.78" stroke="#2cc530" stroke-width="0.6"/>
<circle cx="582.1" cy="660.9" r="1.45" fill="#2cc530"/>
<circle cx="583.86" cy="662.86" r="1.45" fill="#2cc530"/>
<circle cx="585.62" cy="658.84" r="1.45" fill="#2cc530"/>
<circle cx="587.39" cy="658.33" r="1.45" fill="#2cc530"/>
<circle cx="589.15" cy="660.4" r="1.45" fill="#2cc530"/>
<line x1="590.91" y1="660.93" x2="590.91" y2="657.58" stroke="#2cc530" stroke-width="0.6"/>
<circle cx="590.91" cy="659.26" r="1.45" fill="#2cc530"/>
<circle cx="592.67" cy="660.11" r="1.45" fill="#2cc530"/>
<circle cx="594.44" cy="660.01" r="1.45" fill="#2cc530"/>
<line x1="596.2" y1="659.87" x2="596.2" y2="656.77" stroke="#2cc530" stroke-width="0.6"/>
<circle cx="596.2" cy="658.32" r="1.45" fill="#2cc530"/>
<circle cx="597.96" cy="659.02" r="1.45" fill="#2cc530"/>
<line x1="599.72" y1="661.67" x2="599.72" y2="658.91" stroke="#2cc530" stroke-width="0.6"/>
<circle cx="599.72" cy="660.29" r="1.45" fill="#2cc530"/>
<circle cx="601.49" cy="661.24" r="1.45" fill="#2cc530"/>
<circle cx="603.25" cy="661.86" r="1.45" fill="#2cc530"/>
<line x1="605.01" y1="662.68" x2="605.01" y2="658.1" stroke="#2cc530" stroke-width="0.6"/>
<circle cx="605.01" cy="660.39" r="1.45" fill="#2cc530"/>
<circle cx="606.77" cy="659.32" r="1.45" fill="#2cc530"/>
<line x1="608.54" y1="663.58" x2="608.54" y2="659.96" stroke="#2cc530" stroke-width="0.6"/>
<circle cx="608.54" cy="661.77" r="1.45" fill="#2cc530"/>
<line x1="610.3" y1="659.94" x2="610.3" y2="656.81" stroke="#2cc530" stroke-width="0.6"/>
<circle cx="610.3" cy="658.38" r="1.45" fill="#2cc530"/>
<line x1="612.06" y1="661.29" x2="612.06" y2="658.25" stroke="#2cc530" stroke-width="0.6"/>
<circle cx="612.06" cy="659.77" r="1.45" fill="#2cc530"/>
<circle cx="613.82" cy="660.09" r="1.45" fill="#2cc530"/>
<circle cx="615.59" cy="662.03" r="1.45" fill="#2cc530"/>
<circle cx="617.35" cy="662.09" r="1.45" fill="#2cc530"/>
<circle cx="619.11" cy="662.12" r="1.45" fill="#2cc530"/>
<line x1="620.87" y1="663.93" x2="620.87" y2="660.17" stroke="#2cc530" stroke-width="0.6"/>
<circle cx="620.87" cy="662.05" r="1.45" fill="#2cc530"/>
<circle cx="622.64" cy="661.85" r="1.45" fill="#2cc530"/>
<circle cx="624.4" cy="662.12" r="1.45" fill="#2cc530"/>
<line x1="626.16" y1="663.63" x2="626.16" y2="660.81" stroke="#2cc530" stroke-width="0.6"/>
<circle cx="626.16" cy="662.22" r="1.45" fill="#2cc530"/>
<circle cx="627.92" cy="662.55" r="1.45" fill="#2cc530"/>
<circle cx="629.69" cy="664.28" r="1.45" fill="#2cc530"/>
<line x1="631.45" y1="667" x2="631.45" y2="660.84" stroke="#2cc530" stroke-width="0.6"/>
<circle cx="631.45" cy="663.92" r="1.45" fill="#2cc530"/>
<circle cx="633.21" cy="661.56" r="1.45" fill="#2cc530"/>
<line x1="634.97" y1="663.71" x2="634.97" y2="661.09" stroke="#2cc530" stroke-width="0.6"/>
<circle cx="634.97" cy="662.4" r="1.45" fill="#2cc530"/>
<circle cx="636.74" cy="663.13" r="1.45" fill="#2cc530"/>
<circle cx="638.5" cy="666.03" r="1.45" fill="#2cc530"/>
<line x1="640.26" y1="667.4" x2="640.26" y2="664.75" stroke="#2cc530" stroke-width="0.6"/>
<circle cx="640.26" cy="666.07" r="1.45" fill="#2cc530"/>
<line x1="642.02" y1="665.99" x2="642.02" y2="663.41" stroke="#2cc530" stroke-width="0.6"/>
<circle cx="642.02" cy="664.7" r="1.45" fill="#2cc530"/>
<circle cx="643.79" cy="666.57" r="1.45" fill="#2cc530"/>
<circle cx="645.55" cy="668.62" r="1.45" fill="#2cc530"/>
<circle cx="647.31" cy="667.07" r="1.45" fill="#2cc530"/>
<circle cx="649.07" cy="668.14" r="1.45" fill="#2cc530"/>
<circle cx="650.84" cy="667.72" r="1.45" fill="#2cc530"/>
<line x1="652.6" y1="668.17" x2="652.6" y2="665.44" stroke="#2cc530" stroke-width="0.6"/>
<circle cx="652.6" cy="666.8" r="1.45" fill="#2cc530"/>
<circle cx="654.36" cy="668.32" r="1.45" fill="#2cc530"/>
<line x1="656.12" y1="667.7" x2="656.12" y2="664" stroke="#2cc530" stroke-width="0.6"/>
<circle cx="656.12" cy="665.85" r="1.45" fill="#2cc530"/>
<line x1="657.89" y1="667.6" x2="657.89" y2="663.57" stroke="#2cc530" stroke-width="0.6"/>
<circle cx="657.89" cy="665.59" r="1.45" fill="#2cc530"/>
<line x1="659.65" y1="667.04" x2="659.65" y2="664.31" stroke="#2cc530" stroke-width="0.6"/>
<circle cx="659.65" cy="665.67" r="1.45" fill="#2cc530"/>
<circle cx="661.41" cy="667.84" r="1.45" fill="#2cc530"/>
<circle cx="663.17" cy="669.52" r="1.45" fill="#2cc530"/>
<circle cx="664.94" cy="669.32" r="1.45" fill="#2cc530"/>
<line x1="666.7" y1="671.93" x2="666.7" y2="667.59" stroke="#2cc530" stroke-width="0.6"/>
<circle cx="666.7" cy="669.76" r="1.45" fill="#2cc530"/>
<line x1="668.46" y1="672.22" x2="668.46" y2="669.65" stroke="#2cc530" stroke-width="0.6"/>
<circle cx="668.46" cy="670.94" r="1.45" fill="#2cc530"/>
<circle cx="670.23" cy="671.89" r="1.45" fill="#2cc530"/>
<circle cx="671.99" cy="671.28" r="1.45" fill="#2cc530"/>
<circle cx="673.75" cy="670.8" r="1.45" fill="#2cc530"/>
<text x="615.5" y="636" font-size="11.8" font-weight="bold" class="k" text-anchor="middle">G&#945;<tspan font-size="8.4" dy="2.8">i3</tspan><tspan dy="-2.8"> ONE-GO</tspan></text>
<line x1="565.9" y1="649.9" x2="576.7" y2="649.9" stroke="#7f7f86" stroke-width="1.1"/>
<rect x="570" y="648.6" width="2.6" height="2.6" fill="#7f7f86"/>
<text x="582.1" y="653" font-size="9.2" font-weight="bold" class="k">- PKD1</text>
<line x1="618.1" y1="649.9" x2="628.3" y2="649.9" stroke="#2cc530" stroke-width="1.1"/>
<circle cx="623.2" cy="649.9" r="1.5" fill="#2cc530"/>
<text x="633.5" y="653" font-size="9.2" font-weight="bold" class="k">+ PKD1</text>
<text x="616" y="766.7" font-size="11.6" font-weight="bold" class="k" text-anchor="middle">Time (min)</text>
<text transform="translate(523.1,688.25) rotate(-90)" font-size="11.5" font-weight="bold" class="k" text-anchor="middle">&#916;BRET</text>
</svg>
</body></html>
